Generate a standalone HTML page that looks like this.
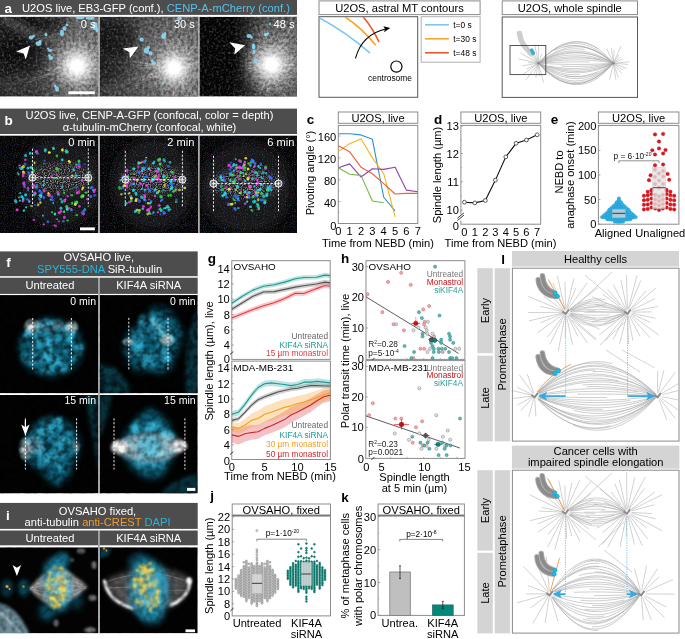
<!DOCTYPE html>
<html lang="en"><head><meta charset="utf-8"><title>Figure</title>
<style>
html,body{margin:0;padding:0;background:#fff;}
body{width:685px;height:639px;overflow:hidden;font-family:'Liberation Sans', sans-serif;}
svg{display:block;font-family:'Liberation Sans', sans-serif;}
svg text{font-family:'Liberation Sans', sans-serif;}
</style></head><body>
<svg width="685" height="639" viewBox="0 0 685 639">
<defs>
<filter id="nzW" x="0" y="0" width="100%" height="100%" color-interpolation-filters="sRGB">
  <feTurbulence type="fractalNoise" baseFrequency="0.42" numOctaves="2" seed="4"/>
  <feColorMatrix type="matrix" values="0 0 0 0 1  0 0 0 0 1  0 0 0 0 1  2.4 0 0 0 -1.1"/>
</filter>
<filter id="nzK" x="0" y="0" width="100%" height="100%" color-interpolation-filters="sRGB">
  <feTurbulence type="fractalNoise" baseFrequency="0.33" numOctaves="3" seed="11"/>
  <feColorMatrix type="matrix" values="0 0 0 0 0  0 0 0 0 0  0 0 0 0 0  2.4 0 0 0 -0.85"/>
</filter>
<filter id="nzC" x="0" y="0" width="100%" height="100%" color-interpolation-filters="sRGB">
  <feTurbulence type="fractalNoise" baseFrequency="0.9" numOctaves="1" seed="23"/>
  <feColorMatrix type="matrix" values="1.6 0 0 0 -0.3  0 1.6 0 0 -0.3  0 0 1.6 0 -0.3  0 0 2.5 0 -1.2"/>
</filter>
<filter id="nzS" x="-15%" y="-15%" width="130%" height="130%" color-interpolation-filters="sRGB">
 <feTurbulence type="fractalNoise" baseFrequency="0.85" numOctaves="1" seed="5" result="t"/>
 <feColorMatrix in="t" type="matrix" values="0 0 0 0 1  0 0 0 0 1  0 0 0 0 1  3.2 0 0 0 -1.35" result="n"/>
 <feGaussianBlur in="SourceAlpha" stdDeviation="3.5" result="m"/>
 <feComposite in="n" in2="m" operator="in"/>
</filter>
<filter id="b06u" filterUnits="userSpaceOnUse" x="0" y="0" width="300" height="100"><feGaussianBlur stdDeviation="0.7"/></filter>
<filter id="b06" x="-60%" y="-60%" width="220%" height="220%"><feGaussianBlur stdDeviation="0.6"/></filter>
<filter id="b1" x="-60%" y="-60%" width="220%" height="220%"><feGaussianBlur stdDeviation="1"/></filter>
<filter id="b2" x="-60%" y="-60%" width="220%" height="220%"><feGaussianBlur stdDeviation="2"/></filter>
<filter id="b3" x="-60%" y="-60%" width="220%" height="220%"><feGaussianBlur stdDeviation="3"/></filter>
<filter id="b5" x="-60%" y="-60%" width="220%" height="220%"><feGaussianBlur stdDeviation="5"/></filter>
<radialGradient id="glow"><stop offset="0" stop-color="#fff" stop-opacity="1"/><stop offset="0.25" stop-color="#fff" stop-opacity="0.97"/><stop offset="0.45" stop-color="#e6e6e6" stop-opacity="0.6"/><stop offset="0.72" stop-color="#bbb" stop-opacity="0.28"/><stop offset="1" stop-color="#999" stop-opacity="0"/></radialGradient>
<linearGradient id="lh" x1="0" x2="1" y1="0" y2="0"><stop offset="0" stop-color="#8c8c8c" stop-opacity="0"/><stop offset="0.45" stop-color="#8c8c8c" stop-opacity="0.5"/><stop offset="1" stop-color="#8c8c8c" stop-opacity="0.62"/></linearGradient>
<radialGradient id="haze"><stop offset="0" stop-color="#b0b0b0" stop-opacity="0.8"/><stop offset="0.55" stop-color="#909090" stop-opacity="0.5"/><stop offset="1" stop-color="#707070" stop-opacity="0"/></radialGradient>
<clipPath id="ca0"><rect x="0" y="16.8" width="98.3" height="79.8"/></clipPath><clipPath id="ca1"><rect x="99.6" y="16.8" width="98.6" height="79.8"/></clipPath><clipPath id="ca2"><rect x="199.4" y="16.8" width="97.6" height="79.8"/></clipPath><clipPath id="cb0"><rect x="0" y="135.4" width="98.3" height="97.6"/></clipPath><clipPath id="cb1"><rect x="99.6" y="135.4" width="98.6" height="97.6"/></clipPath><clipPath id="cb2"><rect x="199.4" y="135.4" width="97.6" height="97.6"/></clipPath><clipPath id="cct"><rect x="319.5" y="17.2" width="97.7" height="79.6"/></clipPath>
<filter id="nzT" x="0" y="0" width="100%" height="100%" color-interpolation-filters="sRGB">
  <feTurbulence type="fractalNoise" baseFrequency="0.16" numOctaves="2" seed="8"/>
  <feColorMatrix type="matrix" values="0 0 0 0 0  0 0 0 0 0  0 0 0 0 0  2.6 0 0 0 -0.95"/>
</filter>
<filter id="b15" x="-60%" y="-60%" width="220%" height="220%"><feGaussianBlur stdDeviation="1.5"/></filter>
<filter id="b4" x="-60%" y="-60%" width="220%" height="220%"><feGaussianBlur stdDeviation="4"/></filter>
<radialGradient id="wspot"><stop offset="0" stop-color="#fff" stop-opacity="1"/><stop offset="0.35" stop-color="#e8f4f8" stop-opacity="0.8"/><stop offset="1" stop-color="#cfe" stop-opacity="0"/></radialGradient>
<clipPath id="cf0"><rect x="0" y="295.1" width="98.1" height="98.2"/></clipPath><clipPath id="cf1"><rect x="99.7" y="295.1" width="98" height="98.2"/></clipPath><clipPath id="cf2"><rect x="0" y="394.9" width="98.1" height="98.5"/></clipPath><clipPath id="cf3"><rect x="99.7" y="394.9" width="98" height="98.5"/></clipPath><clipPath id="cg0"><rect x="231.8" y="260.7" width="98.39999999999998" height="98.69999999999999"/></clipPath><clipPath id="cg1"><rect x="231.8" y="361.1" width="98.59999999999997" height="98.39999999999998"/></clipPath><filter id="b08" x="-60%" y="-60%" width="220%" height="220%"><feGaussianBlur stdDeviation="0.8"/></filter><clipPath id="ci0"><rect x="0" y="547.3" width="98.1" height="86"/></clipPath><clipPath id="ci1"><rect x="99.7" y="547.3" width="98" height="86"/></clipPath><clipPath id="cl1"><rect x="513" y="268.8" width="165.4" height="171.1"/></clipPath><clipPath id="cl2"><rect x="513" y="470.8" width="165.4" height="161.7"/></clipPath><radialGradient id="halo"><stop offset="0" stop-color="#fff" stop-opacity="0.95"/><stop offset="0.6" stop-color="#fff" stop-opacity="0.7"/><stop offset="1" stop-color="#fff" stop-opacity="0"/></radialGradient></defs>
<rect width="685" height="639" fill="#fff"/>
<g id="panel-a">
<rect x="98.30" y="16.80" width="1.30" height="79.80" fill="#b0b0b0" stroke="none" stroke-width="1" /><rect x="198.20" y="16.80" width="1.20" height="79.80" fill="#b0b0b0" stroke="none" stroke-width="1" />
<rect x="0.00" y="0.00" width="297.00" height="14.90" fill="#4d4d4d" stroke="none" stroke-width="1" />
<text x="4.6" y="12.6" font-size="13.5" fill="#fff" text-anchor="start" font-weight="bold" >a</text>
<text x="22" y="11.6" font-size="11.15" fill="#fff">U2OS live, EB3-GFP (conf.), <tspan fill="#4fc3ee">CENP-A-mCherry (conf.)</tspan></text>
<g clip-path="url(#ca0)">
<rect x="0.00" y="16.80" width="98.30" height="79.80" fill="#1b1b1b" stroke="none" stroke-width="1" />
<rect x="30" y="16" width="69" height="82" fill="url(#lh)"/>
<ellipse cx="84" cy="60" rx="46" ry="58" fill="url(#haze)"/>
<ellipse cx="80" cy="64" rx="30" ry="34" fill="url(#haze)"/>
<path d="M0,22 L40,44 L58,36 L0,14Z" fill="#8a8a8a" opacity="0.45" filter="url(#b3)"/>
<path d="M0,78 L60,66 L70,97 L0,97Z" fill="#777" opacity="0.35" filter="url(#b3)"/>
<circle cx="77" cy="66" r="32.4" fill="url(#glow)"/>
<path d="M18,17 L70,17 L62,30 L40,34 Z" fill="#000" opacity="0.45" filter="url(#b3)"/>
<ellipse cx="14" cy="52" rx="16" ry="12" fill="#000" opacity="0.45" filter="url(#b3)"/>
<ellipse cx="40" cy="50" rx="9" ry="7" fill="#000" opacity="0.3" filter="url(#b2)"/>
<g stroke="#fff" stroke-width="1.3" filter="url(#b06u)"><line x1="74.5" y1="70.9" x2="65.9" y2="96.2" stroke-opacity="0.17"/><line x1="74.0" y1="69.4" x2="61.0" y2="87.5" stroke-opacity="0.15"/><line x1="81.4" y1="68.1" x2="100.0" y2="77.4" stroke-opacity="0.10"/><line x1="78.7" y1="76.1" x2="83.8" y2="112.2" stroke-opacity="0.14"/><line x1="81.4" y1="65.3" x2="114.6" y2="60.3" stroke-opacity="0.10"/><line x1="82.2" y1="70.8" x2="108.9" y2="92.9" stroke-opacity="0.17"/><line x1="72.0" y1="60.1" x2="52.6" y2="40.7" stroke-opacity="0.09"/><line x1="80.0" y1="76.4" x2="87.7" y2="97.5" stroke-opacity="0.17"/><line x1="70.3" y1="68.0" x2="38.8" y2="77.4" stroke-opacity="0.12"/><line x1="68.7" y1="61.8" x2="39.4" y2="46.3" stroke-opacity="0.13"/><line x1="82.1" y1="65.4" x2="103.9" y2="62.7" stroke-opacity="0.10"/><line x1="72.6" y1="66.3" x2="43.9" y2="68.3" stroke-opacity="0.17"/><line x1="82.1" y1="61.0" x2="103.7" y2="40.2" stroke-opacity="0.17"/><line x1="65.1" y1="69.4" x2="30.1" y2="79.3" stroke-opacity="0.19"/><line x1="87.2" y1="70.1" x2="110.8" y2="80.6" stroke-opacity="0.21"/><line x1="75.3" y1="73.7" x2="74.3" y2="101.7" stroke-opacity="0.15"/><line x1="79.5" y1="70.5" x2="84.1" y2="80.6" stroke-opacity="0.10"/><line x1="77.1" y1="73.9" x2="82.9" y2="108.3" stroke-opacity="0.15"/><line x1="64.8" y1="62.1" x2="35.2" y2="52.0" stroke-opacity="0.12"/><line x1="70.5" y1="69.9" x2="37.9" y2="87.5" stroke-opacity="0.10"/><line x1="79.8" y1="71.7" x2="87.3" y2="86.4" stroke-opacity="0.17"/><line x1="76.7" y1="70.0" x2="75.9" y2="91.7" stroke-opacity="0.17"/><line x1="87.4" y1="62.8" x2="111.2" y2="55.7" stroke-opacity="0.19"/><line x1="89.3" y1="70.3" x2="117.3" y2="80.9" stroke-opacity="0.21"/><line x1="70.8" y1="71.0" x2="60.2" y2="79.1" stroke-opacity="0.09"/><line x1="82.6" y1="68.5" x2="96.2" y2="74.5" stroke-opacity="0.09"/><line x1="82.5" y1="66.0" x2="95.3" y2="66.0" stroke-opacity="0.08"/><line x1="84.1" y1="58.8" x2="92.8" y2="48.7" stroke-opacity="0.14"/><line x1="73.6" y1="69.9" x2="47.3" y2="95.4" stroke-opacity="0.15"/><line x1="72.2" y1="66.5" x2="59.5" y2="67.8" stroke-opacity="0.12"/><line x1="79.7" y1="61.1" x2="86.6" y2="51.7" stroke-opacity="0.16"/><line x1="82.7" y1="73.5" x2="89.1" y2="82.1" stroke-opacity="0.24"/><line x1="84.2" y1="57.7" x2="94.6" y2="44.6" stroke-opacity="0.11"/><line x1="78.3" y1="56.8" x2="80.6" y2="25.3" stroke-opacity="0.12"/><line x1="82.2" y1="53.2" x2="99.0" y2="21.8" stroke-opacity="0.21"/><line x1="76.6" y1="59.7" x2="73.7" y2="35.3" stroke-opacity="0.08"/><line x1="83.7" y1="67.2" x2="100.4" y2="70.2" stroke-opacity="0.23"/><line x1="64.4" y1="70.4" x2="26.9" y2="82.6" stroke-opacity="0.14"/><line x1="78.2" y1="72.2" x2="82.9" y2="87.4" stroke-opacity="0.18"/><line x1="87.0" y1="58.7" x2="107.0" y2="45.0" stroke-opacity="0.21"/><line x1="86.1" y1="71.4" x2="114.6" y2="89.4" stroke-opacity="0.20"/><line x1="71.3" y1="66.8" x2="39.8" y2="71.2" stroke-opacity="0.21"/><line x1="84.8" y1="64.6" x2="106.2" y2="60.8" stroke-opacity="0.20"/><line x1="79.5" y1="70.6" x2="84.3" y2="83.1" stroke-opacity="0.21"/><line x1="84.4" y1="75.7" x2="105.3" y2="105.5" stroke-opacity="0.14"/><line x1="71.9" y1="64.4" x2="62.8" y2="61.3" stroke-opacity="0.18"/></g>
<rect x="0.00" y="16.80" width="98.30" height="79.80" fill="#fff" stroke="none" stroke-width="1" filter="url(#nzW)" opacity="0.3"/>
<rect x="0.00" y="16.80" width="98.30" height="79.80" fill="#000" stroke="none" stroke-width="1" filter="url(#nzK)" opacity="0.42"/>
<circle cx="77" cy="66" r="22.95" fill="url(#glow)"/>
<g filter="url(#b06)"><ellipse cx="31" cy="37.5" rx="2.2880000000000003" ry="1.9360000000000002" fill="#8bdcf8" opacity="0.88"/><ellipse cx="33.5" cy="36" rx="1.32" ry="1.32" fill="#8bdcf8" opacity="0.88"/><ellipse cx="38.5" cy="43.5" rx="2.992" ry="2.2880000000000003" fill="#8bdcf8" opacity="0.88"/><ellipse cx="40" cy="41.5" rx="1.4080000000000001" ry="1.4080000000000001" fill="#8bdcf8" opacity="0.88"/><ellipse cx="46" cy="34.5" rx="1.4080000000000001" ry="1.76" fill="#8bdcf8" opacity="0.88"/><ellipse cx="50" cy="50.5" rx="2.2880000000000003" ry="1.4080000000000001" fill="#8bdcf8" opacity="0.88"/><ellipse cx="48" cy="48.5" rx="1.232" ry="1.056" fill="#8bdcf8" opacity="0.88"/><ellipse cx="51" cy="58" rx="2.464" ry="1.9360000000000002" fill="#8bdcf8" opacity="0.88"/><ellipse cx="49.5" cy="55.5" rx="1.32" ry="1.32" fill="#8bdcf8" opacity="0.88"/><ellipse cx="62" cy="33" rx="1.9360000000000002" ry="3.168" fill="#8bdcf8" opacity="0.88"/><ellipse cx="64.5" cy="28.5" rx="1.9360000000000002" ry="2.2880000000000003" fill="#8bdcf8" opacity="0.88"/><ellipse cx="67" cy="25" rx="1.4080000000000001" ry="1.4080000000000001" fill="#8bdcf8" opacity="0.88"/><ellipse cx="57" cy="89" rx="1.9360000000000002" ry="2.64" fill="#8bdcf8" opacity="0.88"/><ellipse cx="55" cy="86" rx="1.32" ry="1.4080000000000001" fill="#8bdcf8" opacity="0.88"/><ellipse cx="80" cy="17.5" rx="4.4" ry="1.76" fill="#8bdcf8" opacity="0.88"/><ellipse cx="95" cy="26" rx="2.64" ry="3.96" fill="#8bdcf8" opacity="0.88"/><ellipse cx="90" cy="18" rx="4.4" ry="1.76" fill="#8bdcf8" opacity="0.88"/><ellipse cx="97" cy="30" rx="1.76" ry="2.2" fill="#8bdcf8" opacity="0.88"/></g>
<polygon points="30.0,45.5 16.4,51.5 23.6,53.4 25.8,59.6" fill="#fff"/>
<rect x="68.30" y="91.30" width="26.50" height="2.90" fill="#fff" stroke="none" stroke-width="1" />
<text x="95.5" y="28.0" font-size="11.1" fill="#fff" text-anchor="end" font-weight="normal" >0 s</text>
</g>
<g clip-path="url(#ca1)">
<rect x="99.60" y="16.80" width="98.60" height="79.80" fill="#222" stroke="none" stroke-width="1" />
<rect x="104" y="16" width="96" height="82" fill="url(#lh)"/>
<ellipse cx="178" cy="62" rx="56" ry="60" fill="url(#haze)"/>
<ellipse cx="176" cy="66" rx="30" ry="34" fill="url(#haze)"/>
<path d="M99,84 L150,70 L165,97 L99,97Z" fill="#777" opacity="0.4" filter="url(#b3)"/>
<circle cx="174" cy="68" r="31.2" fill="url(#glow)"/>
<ellipse cx="118" cy="40" rx="18" ry="18" fill="#000" opacity="0.4" filter="url(#b3)"/>
<g stroke="#fff" stroke-width="1.3" filter="url(#b06u)"><line x1="160.8" y1="65.8" x2="139.9" y2="62.1" stroke-opacity="0.21"/><line x1="175.6" y1="74.3" x2="181.8" y2="92.0" stroke-opacity="0.17"/><line x1="173.5" y1="76.2" x2="170.0" y2="89.8" stroke-opacity="0.14"/><line x1="164.5" y1="70.6" x2="130.7" y2="79.7" stroke-opacity="0.23"/><line x1="164.7" y1="67.9" x2="140.3" y2="67.6" stroke-opacity="0.15"/><line x1="175.6" y1="71.7" x2="192.0" y2="101.2" stroke-opacity="0.16"/><line x1="172.5" y1="58.6" x2="169.7" y2="39.7" stroke-opacity="0.17"/><line x1="175.1" y1="63.1" x2="178.3" y2="38.0" stroke-opacity="0.12"/><line x1="175.3" y1="59.0" x2="181.5" y2="33.5" stroke-opacity="0.23"/><line x1="164.5" y1="71.5" x2="141.8" y2="80.0" stroke-opacity="0.19"/><line x1="165.1" y1="70.8" x2="141.7" y2="77.7" stroke-opacity="0.19"/><line x1="183.6" y1="58.6" x2="196.3" y2="46.5" stroke-opacity="0.23"/><line x1="176.9" y1="63.5" x2="183.8" y2="52.1" stroke-opacity="0.09"/><line x1="174.3" y1="72.7" x2="173.1" y2="101.4" stroke-opacity="0.22"/><line x1="180.3" y1="77.2" x2="199.8" y2="100.7" stroke-opacity="0.22"/><line x1="180.1" y1="66.7" x2="215.7" y2="59.3" stroke-opacity="0.16"/><line x1="186.3" y1="67.2" x2="200.8" y2="66.3" stroke-opacity="0.16"/><line x1="170.8" y1="73.0" x2="159.4" y2="89.1" stroke-opacity="0.08"/><line x1="166.1" y1="65.2" x2="155.9" y2="61.7" stroke-opacity="0.18"/><line x1="169.4" y1="67.6" x2="132.3" y2="64.7" stroke-opacity="0.24"/><line x1="179.3" y1="72.1" x2="187.1" y2="78.9" stroke-opacity="0.12"/><line x1="179.6" y1="74.0" x2="200.9" y2="99.8" stroke-opacity="0.12"/><line x1="181.8" y1="78.6" x2="195.2" y2="99.6" stroke-opacity="0.09"/><line x1="184.2" y1="71.8" x2="205.9" y2="79.6" stroke-opacity="0.23"/><line x1="166.0" y1="59.0" x2="159.9" y2="49.8" stroke-opacity="0.09"/><line x1="179.6" y1="61.5" x2="192.6" y2="46.7" stroke-opacity="0.23"/><line x1="173.4" y1="73.3" x2="173.0" y2="97.9" stroke-opacity="0.10"/><line x1="176.4" y1="71.8" x2="185.6" y2="85.1" stroke-opacity="0.13"/><line x1="174.4" y1="61.1" x2="172.9" y2="37.2" stroke-opacity="0.14"/><line x1="180.5" y1="68.7" x2="190.6" y2="69.9" stroke-opacity="0.17"/><line x1="177.2" y1="76.1" x2="195.5" y2="109.7" stroke-opacity="0.21"/><line x1="165.9" y1="71.7" x2="136.0" y2="85.5" stroke-opacity="0.16"/><line x1="168.7" y1="55.2" x2="164.4" y2="37.1" stroke-opacity="0.19"/><line x1="168.7" y1="61.9" x2="153.1" y2="47.1" stroke-opacity="0.10"/><line x1="184.3" y1="72.9" x2="200.9" y2="80.3" stroke-opacity="0.09"/><line x1="180.9" y1="57.3" x2="194.2" y2="33.2" stroke-opacity="0.12"/><line x1="171.7" y1="76.3" x2="168.2" y2="90.2" stroke-opacity="0.12"/><line x1="187.3" y1="64.7" x2="211.1" y2="58.7" stroke-opacity="0.23"/><line x1="171.2" y1="75.0" x2="168.2" y2="84.4" stroke-opacity="0.16"/><line x1="168.0" y1="67.9" x2="144.1" y2="67.5" stroke-opacity="0.12"/><line x1="180.8" y1="72.3" x2="191.5" y2="78.2" stroke-opacity="0.13"/><line x1="175.1" y1="77.8" x2="175.1" y2="102.5" stroke-opacity="0.19"/><line x1="171.3" y1="55.5" x2="165.1" y2="35.1" stroke-opacity="0.24"/><line x1="180.6" y1="77.1" x2="201.3" y2="99.7" stroke-opacity="0.21"/><line x1="182.0" y1="61.5" x2="208.0" y2="42.4" stroke-opacity="0.10"/><line x1="165.1" y1="66.7" x2="132.8" y2="61.7" stroke-opacity="0.21"/></g>
<rect x="99.60" y="16.80" width="98.60" height="79.80" fill="#fff" stroke="none" stroke-width="1" filter="url(#nzW)" opacity="0.3"/>
<rect x="99.60" y="16.80" width="98.60" height="79.80" fill="#000" stroke="none" stroke-width="1" filter="url(#nzK)" opacity="0.42"/>
<circle cx="174" cy="68" r="22.099999999999998" fill="url(#glow)"/>
<g filter="url(#b06)"><ellipse cx="141.5" cy="39.5" rx="2.112" ry="1.9360000000000002" fill="#8bdcf8" opacity="0.88"/><ellipse cx="146.5" cy="50.5" rx="2.64" ry="2.992" fill="#8bdcf8" opacity="0.88"/><ellipse cx="148.5" cy="47.5" rx="1.4080000000000001" ry="1.4080000000000001" fill="#8bdcf8" opacity="0.88"/><ellipse cx="150.5" cy="53.5" rx="1.9360000000000002" ry="2.2880000000000003" fill="#8bdcf8" opacity="0.88"/><ellipse cx="154" cy="63" rx="2.2880000000000003" ry="1.76" fill="#8bdcf8" opacity="0.88"/><ellipse cx="152" cy="61" rx="1.32" ry="1.32" fill="#8bdcf8" opacity="0.88"/><ellipse cx="163.6" cy="36" rx="2.2880000000000003" ry="2.8160000000000003" fill="#8bdcf8" opacity="0.88"/><ellipse cx="165" cy="33.5" rx="1.32" ry="1.32" fill="#8bdcf8" opacity="0.88"/><ellipse cx="179.5" cy="18.6" rx="2.464" ry="1.9360000000000002" fill="#8bdcf8" opacity="0.88"/><ellipse cx="163" cy="83" rx="1.056" ry="1.056" fill="#8bdcf8" opacity="0.88"/></g>
<polygon points="138.4,46.6 122.6,48.6 129.4,52.3 129.8,58.4" fill="#fff"/>
<text x="194.9" y="28.0" font-size="11.1" fill="#fff" text-anchor="end" font-weight="normal" >30 s</text>
</g>
<g clip-path="url(#ca2)">
<rect x="199.40" y="16.80" width="97.60" height="79.80" fill="#050505" stroke="none" stroke-width="1" />
<rect x="232" y="16" width="66" height="82" fill="url(#lh)"/>
<ellipse cx="280" cy="58" rx="42" ry="60" fill="url(#haze)"/>
<ellipse cx="276" cy="62" rx="28" ry="36" fill="url(#haze)"/>
<circle cx="271.5" cy="64.6" r="32.4" fill="url(#glow)"/>
<g stroke="#fff" stroke-width="1.3" filter="url(#b06u)"><line x1="260.3" y1="58.1" x2="236.5" y2="43.4" stroke-opacity="0.12"/><line x1="276.7" y1="65.6" x2="296.9" y2="69.5" stroke-opacity="0.21"/><line x1="261.9" y1="60.9" x2="237.0" y2="51.0" stroke-opacity="0.16"/><line x1="283.5" y1="64.8" x2="314.4" y2="65.5" stroke-opacity="0.17"/><line x1="269.0" y1="60.7" x2="250.3" y2="34.9" stroke-opacity="0.09"/><line x1="270.4" y1="75.8" x2="266.9" y2="91.5" stroke-opacity="0.24"/><line x1="263.7" y1="64.9" x2="240.3" y2="65.8" stroke-opacity="0.20"/><line x1="263.8" y1="57.6" x2="253.2" y2="49.4" stroke-opacity="0.12"/><line x1="271.2" y1="57.6" x2="265.3" y2="31.7" stroke-opacity="0.09"/><line x1="270.2" y1="75.2" x2="264.7" y2="104.4" stroke-opacity="0.13"/><line x1="262.9" y1="63.7" x2="239.8" y2="61.3" stroke-opacity="0.22"/><line x1="275.8" y1="77.7" x2="293.9" y2="112.1" stroke-opacity="0.15"/><line x1="277.3" y1="52.2" x2="284.6" y2="31.8" stroke-opacity="0.11"/><line x1="277.3" y1="62.6" x2="300.7" y2="53.7" stroke-opacity="0.16"/><line x1="276.6" y1="63.0" x2="308.1" y2="53.4" stroke-opacity="0.22"/><line x1="269.7" y1="58.6" x2="259.4" y2="24.9" stroke-opacity="0.08"/><line x1="280.4" y1="64.8" x2="303.0" y2="65.3" stroke-opacity="0.10"/><line x1="267.5" y1="70.5" x2="254.1" y2="98.4" stroke-opacity="0.20"/><line x1="274.3" y1="60.2" x2="295.5" y2="29.7" stroke-opacity="0.22"/><line x1="269.6" y1="72.1" x2="260.3" y2="92.4" stroke-opacity="0.17"/><line x1="266.2" y1="71.0" x2="257.7" y2="84.5" stroke-opacity="0.10"/><line x1="275.0" y1="58.7" x2="290.5" y2="27.5" stroke-opacity="0.12"/><line x1="265.6" y1="64.2" x2="245.7" y2="62.8" stroke-opacity="0.22"/><line x1="275.4" y1="55.1" x2="294.4" y2="22.1" stroke-opacity="0.17"/><line x1="270.6" y1="60.2" x2="264.3" y2="30.2" stroke-opacity="0.20"/><line x1="267.3" y1="59.2" x2="262.2" y2="50.2" stroke-opacity="0.10"/><line x1="264.2" y1="65.9" x2="245.9" y2="69.1" stroke-opacity="0.24"/><line x1="270.8" y1="75.1" x2="269.2" y2="93.5" stroke-opacity="0.14"/><line x1="274.3" y1="69.5" x2="279.8" y2="83.2" stroke-opacity="0.16"/><line x1="273.9" y1="77.4" x2="281.8" y2="114.7" stroke-opacity="0.10"/><line x1="273.2" y1="69.2" x2="282.9" y2="87.5" stroke-opacity="0.12"/><line x1="271.0" y1="74.3" x2="265.8" y2="109.1" stroke-opacity="0.15"/><line x1="263.6" y1="69.4" x2="246.7" y2="79.9" stroke-opacity="0.09"/><line x1="269.1" y1="78.1" x2="266.8" y2="91.4" stroke-opacity="0.18"/><line x1="275.5" y1="59.9" x2="285.6" y2="46.6" stroke-opacity="0.14"/><line x1="258.7" y1="69.1" x2="225.4" y2="80.4" stroke-opacity="0.08"/><line x1="282.4" y1="66.8" x2="316.8" y2="73.9" stroke-opacity="0.17"/><line x1="279.4" y1="64.6" x2="315.2" y2="64.6" stroke-opacity="0.22"/><line x1="277.9" y1="63.5" x2="290.3" y2="61.2" stroke-opacity="0.16"/><line x1="265.9" y1="52.4" x2="255.2" y2="24.9" stroke-opacity="0.20"/><line x1="262.3" y1="67.1" x2="251.2" y2="70.1" stroke-opacity="0.12"/><line x1="280.7" y1="59.6" x2="295.2" y2="50.6" stroke-opacity="0.12"/><line x1="264.3" y1="56.3" x2="253.5" y2="46.4" stroke-opacity="0.16"/><line x1="264.7" y1="60.7" x2="250.9" y2="52.6" stroke-opacity="0.08"/><line x1="268.8" y1="72.8" x2="255.2" y2="107.7" stroke-opacity="0.22"/><line x1="265.2" y1="65.6" x2="248.2" y2="68.2" stroke-opacity="0.19"/></g>
<rect x="199.40" y="16.80" width="97.60" height="79.80" fill="#fff" stroke="none" stroke-width="1" filter="url(#nzW)" opacity="0.28"/>
<rect x="199.40" y="16.80" width="97.60" height="79.80" fill="#000" stroke="none" stroke-width="1" filter="url(#nzK)" opacity="0.45"/>
<circle cx="271.5" cy="64.6" r="22.95" fill="url(#glow)"/>
<g filter="url(#b06)"><ellipse cx="249" cy="36" rx="2.64" ry="2.112" fill="#8bdcf8" opacity="0.88"/><ellipse cx="251.5" cy="37.5" rx="1.4080000000000001" ry="1.232" fill="#8bdcf8" opacity="0.88"/><ellipse cx="266" cy="34.6" rx="2.2880000000000003" ry="1.9360000000000002" fill="#8bdcf8" opacity="0.88"/><ellipse cx="268" cy="33.5" rx="1.232" ry="1.232" fill="#8bdcf8" opacity="0.88"/><ellipse cx="253.6" cy="46.4" rx="1.76" ry="2.992" fill="#8bdcf8" opacity="0.88"/><ellipse cx="254" cy="52" rx="1.584" ry="2.112" fill="#8bdcf8" opacity="0.88"/><ellipse cx="255.5" cy="61" rx="2.112" ry="2.2880000000000003" fill="#8bdcf8" opacity="0.88"/><ellipse cx="270" cy="24" rx="0.88" ry="1.76" fill="#8bdcf8" opacity="0.88"/></g>
<polygon points="245.2,45.3 229.3,42.3 235.2,48.4 234.3,54.5" fill="#fff"/>
<text x="294.5" y="28.0" font-size="11.1" fill="#fff" text-anchor="end" font-weight="normal" >48 s</text>
</g>
</g>
<g id="panel-b">
<rect x="98.30" y="135.40" width="1.30" height="97.60" fill="#a0a0a0" stroke="none" stroke-width="1" /><rect x="198.20" y="135.40" width="1.20" height="97.60" fill="#a0a0a0" stroke="none" stroke-width="1" />
<rect x="0.00" y="108.60" width="297.00" height="25.40" fill="#4d4d4d" stroke="none" stroke-width="1" />
<text x="4.6" y="124.5" font-size="13.5" fill="#fff" text-anchor="start" font-weight="bold" >b</text>
<text x="149.5" y="119.3" font-size="11.15" fill="#fff" text-anchor="middle" font-weight="normal" >U2OS live, CENP-A-GFP (confocal, color = depth)</text>
<text x="149.5" y="131.2" font-size="11.15" fill="#fff" text-anchor="middle" font-weight="normal" >α-tubulin-mCherry (confocal, white)</text>
<g clip-path="url(#cb0)">
<rect x="0.00" y="135.40" width="98.30" height="97.60" fill="#050505" stroke="none" stroke-width="1" />
<ellipse cx="60.4" cy="181.7" rx="41.9" ry="46" fill="#121214" filter="url(#b5)"/>
<ellipse cx="60.4" cy="177.7" rx="30.9" ry="15" fill="#fff" opacity="0.55" filter="url(#nzS)"/>
<circle cx="32.5" cy="177.7" r="5" fill="#fff" opacity="0.45" filter="url(#nzS)"/><circle cx="88.3" cy="177.7" r="5" fill="#fff" opacity="0.45" filter="url(#nzS)"/>
<rect x="0.00" y="135.40" width="98.30" height="97.60" fill="#fff" stroke="none" stroke-width="1" filter="url(#nzC)" opacity="0.4"/>
<g filter="url(#b06)"><ellipse cx="48.8" cy="194.6" rx="1.0" ry="1.1" fill="#e8e83a" opacity="0.78"/><ellipse cx="48.8" cy="195.3" rx="1.4" ry="1.3" fill="#e8e83a" opacity="0.79"/><ellipse cx="76.3" cy="187.9" rx="1.1" ry="1.3" fill="#3a6cff" opacity="0.73"/><ellipse cx="58.9" cy="221.4" rx="1.0" ry="0.9" fill="#f03de8" opacity="0.80"/><ellipse cx="30.2" cy="153.4" rx="1.3" ry="1.3" fill="#22d8e8" opacity="0.90"/><ellipse cx="64.0" cy="211.9" rx="1.0" ry="0.9" fill="#2ee04a" opacity="0.88"/><ellipse cx="64.1" cy="211.7" rx="1.1" ry="1.3" fill="#2ee04a" opacity="0.94"/><ellipse cx="64.2" cy="192.9" rx="1.1" ry="1.4" fill="#2ee04a" opacity="0.76"/><ellipse cx="56.8" cy="174.7" rx="1.1" ry="1.3" fill="#f03de8" opacity="0.82"/><ellipse cx="29.4" cy="201.0" rx="1.0" ry="0.9" fill="#e8e83a" opacity="0.86"/><ellipse cx="35.1" cy="204.9" rx="1.1" ry="1.0" fill="#3a6cff" opacity="0.65"/><ellipse cx="53.5" cy="148.7" rx="1.4" ry="1.4" fill="#22d8e8" opacity="0.92"/><ellipse cx="62.4" cy="149.9" rx="1.4" ry="1.7" fill="#e8e83a" opacity="0.94"/><ellipse cx="56.9" cy="156.0" rx="1.3" ry="1.4" fill="#2ee04a" opacity="0.79"/><ellipse cx="67.3" cy="208.9" rx="1.5" ry="1.9" fill="#22d8e8" opacity="1.00"/><ellipse cx="50.7" cy="199.7" rx="1.2" ry="1.1" fill="#22d8e8" opacity="0.80"/><ellipse cx="25.6" cy="164.4" rx="1.1" ry="1.0" fill="#3a6cff" opacity="0.74"/><ellipse cx="24.7" cy="163.5" rx="1.2" ry="1.1" fill="#3a6cff" opacity="0.73"/><ellipse cx="43.8" cy="224.4" rx="1.1" ry="1.1" fill="#f03de8" opacity="0.88"/><ellipse cx="76.5" cy="203.3" rx="1.1" ry="1.1" fill="#22d8e8" opacity="0.78"/><ellipse cx="19.6" cy="165.5" rx="1.2" ry="1.1" fill="#f03de8" opacity="0.92"/><ellipse cx="65.0" cy="201.6" rx="1.0" ry="0.8" fill="#f03de8" opacity="0.76"/><ellipse cx="63.4" cy="221.2" rx="1.2" ry="1.2" fill="#3a6cff" opacity="0.87"/><ellipse cx="67.7" cy="196.2" rx="1.2" ry="1.0" fill="#f03de8" opacity="0.91"/><ellipse cx="73.4" cy="169.6" rx="1.2" ry="1.5" fill="#22d8e8" opacity="0.80"/><ellipse cx="60.8" cy="199.1" rx="1.4" ry="1.2" fill="#22d8e8" opacity="0.67"/><ellipse cx="76.8" cy="215.1" rx="1.4" ry="1.2" fill="#2ee04a" opacity="0.77"/><ellipse cx="62.0" cy="201.8" rx="1.4" ry="1.7" fill="#22d8e8" opacity="0.76"/><ellipse cx="57.7" cy="178.5" rx="1.0" ry="1.1" fill="#2ee04a" opacity="0.89"/><ellipse cx="79.4" cy="166.7" rx="1.4" ry="1.3" fill="#f03de8" opacity="0.73"/><ellipse cx="79.1" cy="166.7" rx="1.1" ry="1.0" fill="#f03de8" opacity="0.74"/><ellipse cx="45.4" cy="149.5" rx="1.3" ry="1.3" fill="#22d8e8" opacity="0.79"/><ellipse cx="45.3" cy="150.8" rx="1.4" ry="1.6" fill="#22d8e8" opacity="0.76"/><ellipse cx="52.1" cy="212.3" rx="0.9" ry="1.2" fill="#2ee04a" opacity="0.81"/><ellipse cx="19.1" cy="197.4" rx="0.9" ry="0.9" fill="#e8e83a" opacity="0.78"/><ellipse cx="62.2" cy="159.8" rx="1.4" ry="1.6" fill="#22d8e8" opacity="0.83"/><ellipse cx="81.7" cy="196.6" rx="1.5" ry="1.9" fill="#2ee04a" opacity="0.91"/><ellipse cx="82.9" cy="195.5" rx="1.5" ry="1.6" fill="#2ee04a" opacity="0.98"/><ellipse cx="68.2" cy="178.4" rx="1.1" ry="1.0" fill="#f03de8" opacity="0.86"/><ellipse cx="60.9" cy="211.5" rx="1.4" ry="1.3" fill="#f03de8" opacity="0.92"/><ellipse cx="59.3" cy="212.8" rx="1.5" ry="1.6" fill="#f03de8" opacity="0.83"/><ellipse cx="36.3" cy="151.9" rx="1.4" ry="1.3" fill="#f03de8" opacity="1.00"/><ellipse cx="36.6" cy="151.4" rx="1.4" ry="1.4" fill="#f03de8" opacity="0.71"/><ellipse cx="51.5" cy="176.6" rx="1.3" ry="1.4" fill="#f03de8" opacity="0.76"/><ellipse cx="62.1" cy="187.1" rx="1.2" ry="1.5" fill="#22d8e8" opacity="0.70"/><ellipse cx="57.1" cy="219.2" rx="1.0" ry="0.9" fill="#22d8e8" opacity="0.73"/><ellipse cx="30.2" cy="167.4" rx="1.0" ry="0.8" fill="#22d8e8" opacity="0.87"/><ellipse cx="78.9" cy="161.3" rx="1.4" ry="1.8" fill="#2ee04a" opacity="0.86"/><ellipse cx="33.3" cy="187.8" rx="1.0" ry="0.9" fill="#22d8e8" opacity="0.97"/><ellipse cx="79.4" cy="206.3" rx="1.3" ry="1.5" fill="#f03de8" opacity="0.80"/><ellipse cx="28.0" cy="168.2" rx="1.4" ry="1.4" fill="#22d8e8" opacity="0.84"/><ellipse cx="31.2" cy="205.9" rx="1.0" ry="0.9" fill="#e8e83a" opacity="0.73"/><ellipse cx="77.2" cy="192.7" rx="1.3" ry="1.5" fill="#f03de8" opacity="0.97"/><ellipse cx="78.9" cy="192.0" rx="1.5" ry="1.9" fill="#f03de8" opacity="0.68"/><ellipse cx="33.0" cy="186.2" rx="1.5" ry="1.3" fill="#f03de8" opacity="0.79"/><ellipse cx="33.4" cy="185.8" rx="1.5" ry="1.8" fill="#f03de8" opacity="0.99"/><ellipse cx="69.7" cy="162.2" rx="1.2" ry="1.4" fill="#e8e83a" opacity="0.85"/><ellipse cx="69.0" cy="161.2" rx="1.3" ry="1.1" fill="#e8e83a" opacity="0.97"/><ellipse cx="57.8" cy="193.8" rx="1.0" ry="0.8" fill="#22d8e8" opacity="0.66"/><ellipse cx="58.5" cy="194.3" rx="1.4" ry="1.6" fill="#22d8e8" opacity="0.67"/><ellipse cx="29.3" cy="173.8" rx="1.5" ry="1.9" fill="#3a6cff" opacity="0.69"/><ellipse cx="28.2" cy="172.4" rx="0.9" ry="1.1" fill="#3a6cff" opacity="0.93"/><ellipse cx="25.4" cy="159.8" rx="1.4" ry="1.3" fill="#f03de8" opacity="0.76"/><ellipse cx="44.1" cy="190.7" rx="1.5" ry="1.8" fill="#f03de8" opacity="0.86"/><ellipse cx="28.1" cy="190.3" rx="1.0" ry="1.0" fill="#22d8e8" opacity="0.67"/><ellipse cx="17.8" cy="173.3" rx="1.0" ry="1.2" fill="#3a6cff" opacity="0.99"/><ellipse cx="83.1" cy="187.8" rx="1.2" ry="1.2" fill="#e8e83a" opacity="0.94"/><ellipse cx="82.3" cy="189.4" rx="1.1" ry="1.0" fill="#e8e83a" opacity="0.89"/><ellipse cx="36.3" cy="187.2" rx="1.4" ry="1.6" fill="#22d8e8" opacity="0.77"/><ellipse cx="29.2" cy="201.8" rx="1.0" ry="1.0" fill="#22d8e8" opacity="0.97"/><ellipse cx="24.5" cy="186.8" rx="1.3" ry="1.5" fill="#f03de8" opacity="0.66"/><ellipse cx="24.1" cy="172.7" rx="1.2" ry="1.4" fill="#e8e83a" opacity="0.74"/><ellipse cx="23.1" cy="172.1" rx="1.3" ry="1.5" fill="#e8e83a" opacity="0.83"/><ellipse cx="47.8" cy="221.7" rx="1.4" ry="1.5" fill="#3a6cff" opacity="0.77"/><ellipse cx="55.7" cy="226.0" rx="1.3" ry="1.2" fill="#f03de8" opacity="0.70"/><ellipse cx="54.5" cy="225.3" rx="1.1" ry="1.0" fill="#f03de8" opacity="0.69"/><ellipse cx="72.3" cy="175.5" rx="1.2" ry="1.1" fill="#e8e83a" opacity="0.99"/><ellipse cx="49.4" cy="194.8" rx="1.1" ry="1.3" fill="#f03de8" opacity="0.90"/><ellipse cx="49.7" cy="195.4" rx="1.4" ry="1.6" fill="#f03de8" opacity="0.88"/><ellipse cx="77.5" cy="164.6" rx="1.2" ry="1.1" fill="#3a6cff" opacity="0.87"/><ellipse cx="75.6" cy="202.2" rx="1.5" ry="1.5" fill="#2ee04a" opacity="0.66"/><ellipse cx="76.9" cy="202.2" rx="1.3" ry="1.6" fill="#2ee04a" opacity="0.96"/><ellipse cx="48.4" cy="193.2" rx="1.0" ry="1.2" fill="#e8e83a" opacity="0.98"/><ellipse cx="36.9" cy="185.3" rx="1.2" ry="1.4" fill="#3a6cff" opacity="0.94"/><ellipse cx="23.7" cy="183.5" rx="1.5" ry="1.8" fill="#f03de8" opacity="0.86"/><ellipse cx="24.2" cy="182.6" rx="1.1" ry="1.0" fill="#f03de8" opacity="0.68"/><ellipse cx="17.1" cy="209.9" rx="1.5" ry="1.3" fill="#f03de8" opacity="0.93"/><ellipse cx="64.4" cy="217.2" rx="1.4" ry="1.7" fill="#f03de8" opacity="0.81"/><ellipse cx="43.0" cy="215.7" rx="1.1" ry="1.1" fill="#22d8e8" opacity="0.74"/><ellipse cx="34.3" cy="195.1" rx="1.3" ry="1.3" fill="#22d8e8" opacity="0.82"/><ellipse cx="34.8" cy="193.6" rx="1.5" ry="1.3" fill="#22d8e8" opacity="0.76"/><ellipse cx="41.4" cy="195.5" rx="1.4" ry="1.6" fill="#3a6cff" opacity="0.66"/><ellipse cx="94.8" cy="189.8" rx="1.5" ry="1.3" fill="#f03de8" opacity="0.81"/><ellipse cx="56.5" cy="168.5" rx="1.3" ry="1.5" fill="#2ee04a" opacity="0.88"/><ellipse cx="57.9" cy="169.5" rx="1.4" ry="1.3" fill="#2ee04a" opacity="0.89"/><ellipse cx="76.5" cy="166.8" rx="1.2" ry="1.0" fill="#f03de8" opacity="0.81"/><ellipse cx="71.2" cy="209.3" rx="0.9" ry="1.1" fill="#e8e83a" opacity="0.81"/><ellipse cx="18.7" cy="174.4" rx="0.9" ry="1.1" fill="#2ee04a" opacity="0.87"/><ellipse cx="86.0" cy="192.6" rx="1.5" ry="1.2" fill="#2ee04a" opacity="0.90"/><ellipse cx="33.6" cy="170.2" rx="1.4" ry="1.3" fill="#2ee04a" opacity="0.80"/><ellipse cx="22.8" cy="201.1" rx="1.1" ry="1.4" fill="#f03de8" opacity="0.96"/><ellipse cx="40.4" cy="202.5" rx="1.1" ry="1.2" fill="#e8e83a" opacity="0.87"/><ellipse cx="54.3" cy="177.5" rx="1.0" ry="0.8" fill="#2ee04a" opacity="0.94"/><ellipse cx="54.2" cy="178.4" rx="0.9" ry="1.0" fill="#2ee04a" opacity="0.84"/><ellipse cx="39.3" cy="198.4" rx="1.3" ry="1.5" fill="#3a6cff" opacity="0.71"/><ellipse cx="39.9" cy="199.7" rx="1.2" ry="1.0" fill="#3a6cff" opacity="0.98"/><ellipse cx="93.0" cy="190.2" rx="1.1" ry="1.1" fill="#22d8e8" opacity="0.76"/><ellipse cx="19.9" cy="200.6" rx="1.0" ry="1.2" fill="#22d8e8" opacity="0.85"/><ellipse cx="26.1" cy="207.2" rx="1.0" ry="1.0" fill="#22d8e8" opacity="0.96"/><ellipse cx="31.6" cy="168.0" rx="1.5" ry="1.3" fill="#22d8e8" opacity="0.69"/><ellipse cx="31.5" cy="167.2" rx="1.3" ry="1.3" fill="#22d8e8" opacity="0.91"/><ellipse cx="75.9" cy="175.5" rx="1.3" ry="1.3" fill="#22d8e8" opacity="0.88"/><ellipse cx="77.4" cy="177.0" rx="0.9" ry="0.8" fill="#22d8e8" opacity="0.67"/><ellipse cx="79.2" cy="164.7" rx="1.3" ry="1.6" fill="#3a6cff" opacity="0.94"/><ellipse cx="32.4" cy="172.5" rx="1.4" ry="1.4" fill="#e8e83a" opacity="0.88"/><ellipse cx="32.2" cy="167.9" rx="1.3" ry="1.2" fill="#2ee04a" opacity="0.67"/><ellipse cx="88.6" cy="181.5" rx="1.0" ry="1.2" fill="#2ee04a" opacity="0.85"/><ellipse cx="90.3" cy="180.6" rx="1.2" ry="1.1" fill="#2ee04a" opacity="0.92"/><ellipse cx="54.9" cy="214.1" rx="1.3" ry="1.5" fill="#22d8e8" opacity="0.96"/><ellipse cx="90.8" cy="196.6" rx="1.4" ry="1.6" fill="#3a6cff" opacity="0.97"/><ellipse cx="43.9" cy="197.6" rx="1.4" ry="1.8" fill="#3a6cff" opacity="0.73"/><ellipse cx="23.5" cy="166.4" rx="1.4" ry="1.7" fill="#e8e83a" opacity="0.81"/><ellipse cx="22.0" cy="167.5" rx="1.4" ry="1.3" fill="#e8e83a" opacity="0.85"/><ellipse cx="85.1" cy="164.3" rx="1.0" ry="0.9" fill="#3a6cff" opacity="0.71"/><ellipse cx="43.8" cy="163.6" rx="1.0" ry="0.8" fill="#3a6cff" opacity="1.00"/><ellipse cx="41.1" cy="197.0" rx="1.1" ry="1.2" fill="#e8e83a" opacity="0.66"/><ellipse cx="94.8" cy="195.3" rx="1.5" ry="1.4" fill="#3a6cff" opacity="0.68"/><ellipse cx="19.8" cy="197.2" rx="1.0" ry="0.9" fill="#3a6cff" opacity="0.68"/><ellipse cx="83.4" cy="196.5" rx="0.9" ry="1.0" fill="#e8e83a" opacity="0.79"/><ellipse cx="83.4" cy="213.8" rx="1.5" ry="1.7" fill="#f03de8" opacity="0.79"/><ellipse cx="34.5" cy="192.4" rx="1.1" ry="1.0" fill="#f03de8" opacity="0.97"/><ellipse cx="35.9" cy="193.6" rx="0.9" ry="1.1" fill="#f03de8" opacity="0.90"/><ellipse cx="25.6" cy="155.4" rx="1.5" ry="1.7" fill="#22d8e8" opacity="0.75"/><ellipse cx="19.7" cy="168.0" rx="1.0" ry="1.0" fill="#22d8e8" opacity="0.71"/><ellipse cx="53.3" cy="203.0" rx="0.9" ry="1.2" fill="#22d8e8" opacity="0.73"/><ellipse cx="89.5" cy="172.0" rx="1.2" ry="0.9" fill="#22d8e8" opacity="0.68"/><ellipse cx="72.2" cy="203.3" rx="1.2" ry="1.5" fill="#2ee04a" opacity="0.80"/><ellipse cx="69.0" cy="208.2" rx="1.1" ry="1.3" fill="#f03de8" opacity="0.74"/><ellipse cx="75.3" cy="204.3" rx="1.3" ry="1.6" fill="#e8e83a" opacity="0.97"/><ellipse cx="53.3" cy="147.6" rx="1.0" ry="0.9" fill="#2ee04a" opacity="0.96"/><ellipse cx="87.2" cy="199.1" rx="1.4" ry="1.4" fill="#f03de8" opacity="0.70"/><ellipse cx="92.2" cy="187.4" rx="1.5" ry="1.4" fill="#3a6cff" opacity="0.85"/><ellipse cx="64.6" cy="200.5" rx="1.4" ry="1.8" fill="#f03de8" opacity="0.91"/><ellipse cx="65.6" cy="199.4" rx="1.0" ry="1.1" fill="#f03de8" opacity="0.87"/><ellipse cx="60.9" cy="208.2" rx="1.4" ry="1.8" fill="#22d8e8" opacity="0.83"/><ellipse cx="38.2" cy="204.8" rx="1.2" ry="1.5" fill="#e8e83a" opacity="0.74"/><ellipse cx="67.7" cy="220.6" rx="1.3" ry="1.0" fill="#2ee04a" opacity="0.83"/><ellipse cx="21.9" cy="196.7" rx="1.5" ry="1.4" fill="#22d8e8" opacity="0.90"/><ellipse cx="23.9" cy="210.6" rx="1.2" ry="1.3" fill="#22d8e8" opacity="0.84"/><ellipse cx="43.4" cy="185.1" rx="1.1" ry="1.2" fill="#22d8e8" opacity="0.98"/><ellipse cx="94.1" cy="191.7" rx="1.3" ry="1.4" fill="#f03de8" opacity="0.90"/><ellipse cx="84.8" cy="209.5" rx="1.3" ry="1.5" fill="#22d8e8" opacity="0.69"/><ellipse cx="81.9" cy="213.0" rx="1.3" ry="1.4" fill="#3a6cff" opacity="0.79"/><ellipse cx="83.5" cy="211.3" rx="1.3" ry="1.5" fill="#3a6cff" opacity="0.86"/><ellipse cx="43.7" cy="181.3" rx="1.1" ry="1.1" fill="#22d8e8" opacity="0.99"/><ellipse cx="66.1" cy="151.0" rx="1.5" ry="1.9" fill="#2ee04a" opacity="0.74"/><ellipse cx="65.8" cy="151.4" rx="1.1" ry="1.2" fill="#2ee04a" opacity="0.67"/><ellipse cx="23.2" cy="198.7" rx="1.4" ry="1.8" fill="#22d8e8" opacity="0.87"/><ellipse cx="67.1" cy="151.9" rx="1.5" ry="1.7" fill="#22d8e8" opacity="0.87"/><ellipse cx="57.8" cy="192.1" rx="1.3" ry="1.1" fill="#f03de8" opacity="0.86"/><ellipse cx="20.3" cy="193.2" rx="1.1" ry="1.1" fill="#22d8e8" opacity="0.75"/><ellipse cx="52.6" cy="200.0" rx="1.3" ry="1.4" fill="#3a6cff" opacity="0.72"/><ellipse cx="44.6" cy="160.4" rx="1.1" ry="1.0" fill="#3a6cff" opacity="0.73"/><ellipse cx="24.4" cy="185.0" rx="1.5" ry="1.3" fill="#3a6cff" opacity="0.84"/><ellipse cx="28.0" cy="188.2" rx="1.3" ry="1.4" fill="#f03de8" opacity="0.77"/><ellipse cx="34.5" cy="162.7" rx="1.0" ry="1.3" fill="#e8e83a" opacity="0.91"/><ellipse cx="66.7" cy="206.5" rx="1.5" ry="1.8" fill="#2ee04a" opacity="0.83"/><ellipse cx="49.3" cy="152.5" rx="1.5" ry="1.3" fill="#e8e83a" opacity="0.95"/><ellipse cx="90.6" cy="188.0" rx="1.3" ry="1.3" fill="#3a6cff" opacity="0.92"/><ellipse cx="76.1" cy="164.5" rx="1.1" ry="1.1" fill="#2ee04a" opacity="0.83"/><ellipse cx="22.6" cy="168.7" rx="1.2" ry="1.1" fill="#22d8e8" opacity="0.76"/><ellipse cx="21.3" cy="169.0" rx="1.3" ry="1.1" fill="#22d8e8" opacity="0.97"/><ellipse cx="33.9" cy="219.9" rx="1.5" ry="1.2" fill="#f03de8" opacity="0.67"/><ellipse cx="23.2" cy="175.7" rx="1.4" ry="1.7" fill="#f03de8" opacity="0.80"/><ellipse cx="23.1" cy="174.0" rx="1.3" ry="1.4" fill="#f03de8" opacity="0.65"/><ellipse cx="71.8" cy="195.2" rx="1.5" ry="1.3" fill="#2ee04a" opacity="0.72"/><ellipse cx="27.1" cy="199.2" rx="1.4" ry="1.3" fill="#3a6cff" opacity="0.76"/><ellipse cx="28.8" cy="200.4" rx="1.2" ry="1.1" fill="#3a6cff" opacity="0.96"/><ellipse cx="37.3" cy="153.2" rx="1.4" ry="1.3" fill="#3a6cff" opacity="0.96"/><ellipse cx="41.5" cy="192.9" rx="1.3" ry="1.5" fill="#3a6cff" opacity="0.89"/><ellipse cx="39.7" cy="191.1" rx="1.4" ry="1.5" fill="#3a6cff" opacity="0.97"/><ellipse cx="40.0" cy="195.2" rx="1.4" ry="1.5" fill="#22d8e8" opacity="0.95"/><ellipse cx="41.4" cy="195.2" rx="1.0" ry="0.9" fill="#22d8e8" opacity="0.86"/><ellipse cx="71.5" cy="210.0" rx="1.5" ry="1.6" fill="#3a6cff" opacity="0.81"/><ellipse cx="16.2" cy="202.1" rx="1.4" ry="1.3" fill="#22d8e8" opacity="0.71"/><ellipse cx="15.4" cy="200.7" rx="1.5" ry="1.6" fill="#22d8e8" opacity="0.77"/><ellipse cx="25.6" cy="194.8" rx="1.5" ry="1.6" fill="#22d8e8" opacity="0.87"/><ellipse cx="52.0" cy="197.0" rx="1.4" ry="1.4" fill="#3a6cff" opacity="0.86"/><ellipse cx="82.3" cy="179.9" rx="1.0" ry="1.0" fill="#f03de8" opacity="0.96"/><ellipse cx="82.2" cy="181.0" rx="1.1" ry="0.9" fill="#f03de8" opacity="0.78"/></g>
<line x1="32.50" y1="148.60" x2="32.50" y2="206.60" stroke="#fff" stroke-width="0.9" stroke-dasharray="2.2 1.6"/><line x1="88.30" y1="148.60" x2="88.30" y2="206.60" stroke="#fff" stroke-width="0.9" stroke-dasharray="2.2 1.6"/><line x1="32.50" y1="177.70" x2="88.30" y2="177.70" stroke="#fff" stroke-width="0.9" stroke-dasharray="2.2 1.6"/>
<circle cx="32.50" cy="177.70" r="3.50" fill="#ccc" stroke="#fff" stroke-width="0.9" fill-opacity="0.35"/><line x1="30.50" y1="177.70" x2="34.50" y2="177.70" stroke="#fff" stroke-width="0.7" /><line x1="32.50" y1="175.70" x2="32.50" y2="179.70" stroke="#fff" stroke-width="0.7" /><circle cx="88.30" cy="177.70" r="3.50" fill="#ccc" stroke="#fff" stroke-width="0.9" fill-opacity="0.35"/><line x1="86.30" y1="177.70" x2="90.30" y2="177.70" stroke="#fff" stroke-width="0.7" /><line x1="88.30" y1="175.70" x2="88.30" y2="179.70" stroke="#fff" stroke-width="0.7" />
<text x="95.3" y="145.5" font-size="11.1" fill="#fff" text-anchor="end" font-weight="normal" >0 min</text>
<rect x="80.00" y="227.40" width="14.80" height="2.90" fill="#fff" stroke="none" stroke-width="1" />
</g>
<g clip-path="url(#cb1)">
<rect x="99.60" y="135.40" width="98.60" height="97.60" fill="#050505" stroke="none" stroke-width="1" />
<ellipse cx="153.85" cy="183.7" rx="42.550000000000004" ry="46" fill="#121214" filter="url(#b5)"/>
<ellipse cx="153.85" cy="179.7" rx="31.550000000000004" ry="15" fill="#fff" opacity="0.55" filter="url(#nzS)"/>
<circle cx="125.3" cy="179.7" r="5" fill="#fff" opacity="0.45" filter="url(#nzS)"/><circle cx="182.4" cy="179.7" r="5" fill="#fff" opacity="0.45" filter="url(#nzS)"/>
<rect x="99.60" y="135.40" width="98.60" height="97.60" fill="#fff" stroke="none" stroke-width="1" filter="url(#nzC)" opacity="0.4"/>
<g filter="url(#b06)"><ellipse cx="164.6" cy="213.3" rx="1.2" ry="1.2" fill="#f03de8" opacity="0.79"/><ellipse cx="163.4" cy="190.5" rx="1.2" ry="1.1" fill="#22d8e8" opacity="0.66"/><ellipse cx="157.7" cy="171.7" rx="1.2" ry="1.4" fill="#f03de8" opacity="0.93"/><ellipse cx="156.4" cy="171.2" rx="1.4" ry="1.4" fill="#f03de8" opacity="0.99"/><ellipse cx="160.4" cy="214.3" rx="1.0" ry="1.1" fill="#3a6cff" opacity="0.74"/><ellipse cx="172.6" cy="172.3" rx="1.0" ry="1.3" fill="#2ee04a" opacity="0.69"/><ellipse cx="172.6" cy="172.5" rx="1.1" ry="1.3" fill="#2ee04a" opacity="0.78"/><ellipse cx="138.2" cy="167.0" rx="1.0" ry="1.2" fill="#f03de8" opacity="0.76"/><ellipse cx="145.9" cy="176.9" rx="1.4" ry="1.2" fill="#3a6cff" opacity="0.75"/><ellipse cx="147.0" cy="176.5" rx="1.1" ry="1.4" fill="#3a6cff" opacity="0.81"/><ellipse cx="133.7" cy="168.8" rx="1.4" ry="1.6" fill="#22d8e8" opacity="0.96"/><ellipse cx="179.5" cy="190.0" rx="1.5" ry="1.3" fill="#e8e83a" opacity="0.75"/><ellipse cx="148.6" cy="209.4" rx="1.3" ry="1.3" fill="#f03de8" opacity="0.91"/><ellipse cx="147.4" cy="210.2" rx="1.3" ry="1.4" fill="#f03de8" opacity="0.98"/><ellipse cx="137.0" cy="180.2" rx="1.3" ry="1.6" fill="#e8e83a" opacity="0.69"/><ellipse cx="154.3" cy="161.7" rx="1.1" ry="0.9" fill="#22d8e8" opacity="0.93"/><ellipse cx="153.3" cy="163.2" rx="1.4" ry="1.2" fill="#22d8e8" opacity="0.89"/><ellipse cx="129.5" cy="202.1" rx="1.5" ry="1.5" fill="#f03de8" opacity="0.77"/><ellipse cx="124.5" cy="185.5" rx="1.2" ry="1.2" fill="#e8e83a" opacity="0.97"/><ellipse cx="123.2" cy="186.5" rx="0.9" ry="1.1" fill="#e8e83a" opacity="0.93"/><ellipse cx="150.3" cy="208.3" rx="1.0" ry="1.0" fill="#f03de8" opacity="0.68"/><ellipse cx="150.8" cy="207.0" rx="1.3" ry="1.4" fill="#f03de8" opacity="0.82"/><ellipse cx="150.5" cy="181.4" rx="1.0" ry="1.1" fill="#f03de8" opacity="0.77"/><ellipse cx="151.7" cy="181.5" rx="1.4" ry="1.2" fill="#f03de8" opacity="0.88"/><ellipse cx="133.5" cy="174.0" rx="1.1" ry="1.0" fill="#2ee04a" opacity="0.67"/><ellipse cx="149.1" cy="199.6" rx="1.1" ry="1.0" fill="#f03de8" opacity="0.68"/><ellipse cx="184.8" cy="188.0" rx="1.4" ry="1.3" fill="#e8e83a" opacity="0.88"/><ellipse cx="174.4" cy="180.3" rx="1.3" ry="1.5" fill="#3a6cff" opacity="0.98"/><ellipse cx="142.2" cy="173.3" rx="1.1" ry="1.0" fill="#f03de8" opacity="0.87"/><ellipse cx="170.0" cy="162.2" rx="1.4" ry="1.3" fill="#22d8e8" opacity="0.71"/><ellipse cx="160.7" cy="170.6" rx="1.4" ry="1.3" fill="#2ee04a" opacity="0.66"/><ellipse cx="128.0" cy="176.2" rx="1.2" ry="1.1" fill="#2ee04a" opacity="0.75"/><ellipse cx="143.0" cy="181.4" rx="0.9" ry="0.9" fill="#22d8e8" opacity="0.72"/><ellipse cx="143.8" cy="179.6" rx="1.4" ry="1.8" fill="#22d8e8" opacity="0.93"/><ellipse cx="135.9" cy="193.4" rx="1.5" ry="1.4" fill="#22d8e8" opacity="0.90"/><ellipse cx="148.3" cy="189.2" rx="1.1" ry="1.1" fill="#3a6cff" opacity="0.99"/><ellipse cx="149.8" cy="190.5" rx="1.5" ry="2.0" fill="#3a6cff" opacity="0.87"/><ellipse cx="155.5" cy="178.2" rx="1.2" ry="1.4" fill="#f03de8" opacity="0.75"/><ellipse cx="154.9" cy="179.6" rx="0.9" ry="0.8" fill="#f03de8" opacity="0.89"/><ellipse cx="142.0" cy="189.1" rx="1.2" ry="1.0" fill="#22d8e8" opacity="0.71"/><ellipse cx="171.0" cy="171.7" rx="1.0" ry="1.0" fill="#22d8e8" opacity="0.74"/><ellipse cx="127.3" cy="187.5" rx="1.2" ry="1.3" fill="#f03de8" opacity="0.68"/><ellipse cx="127.0" cy="186.0" rx="1.2" ry="1.5" fill="#f03de8" opacity="0.84"/><ellipse cx="145.6" cy="160.5" rx="1.0" ry="1.2" fill="#22d8e8" opacity="0.79"/><ellipse cx="144.5" cy="162.1" rx="1.3" ry="1.5" fill="#22d8e8" opacity="0.70"/><ellipse cx="153.5" cy="177.8" rx="1.2" ry="1.0" fill="#f03de8" opacity="0.70"/><ellipse cx="161.0" cy="180.7" rx="1.4" ry="1.7" fill="#f03de8" opacity="0.65"/><ellipse cx="151.4" cy="201.1" rx="1.3" ry="1.1" fill="#3a6cff" opacity="0.84"/><ellipse cx="155.9" cy="175.8" rx="1.3" ry="1.1" fill="#e8e83a" opacity="0.66"/><ellipse cx="154.5" cy="176.8" rx="1.0" ry="1.1" fill="#e8e83a" opacity="0.75"/><ellipse cx="144.0" cy="168.6" rx="1.3" ry="1.6" fill="#22d8e8" opacity="0.98"/><ellipse cx="142.3" cy="168.1" rx="1.0" ry="1.0" fill="#22d8e8" opacity="0.96"/><ellipse cx="154.4" cy="179.3" rx="1.2" ry="1.1" fill="#22d8e8" opacity="0.99"/><ellipse cx="131.9" cy="184.0" rx="1.3" ry="1.2" fill="#3a6cff" opacity="0.94"/><ellipse cx="149.2" cy="168.6" rx="1.1" ry="1.2" fill="#e8e83a" opacity="0.73"/><ellipse cx="152.2" cy="214.1" rx="1.0" ry="1.0" fill="#3a6cff" opacity="0.67"/><ellipse cx="172.0" cy="185.0" rx="1.4" ry="1.7" fill="#3a6cff" opacity="0.97"/><ellipse cx="170.6" cy="183.9" rx="1.2" ry="1.3" fill="#3a6cff" opacity="0.68"/><ellipse cx="159.7" cy="160.1" rx="1.4" ry="1.6" fill="#f03de8" opacity="0.83"/><ellipse cx="138.9" cy="172.4" rx="1.1" ry="1.1" fill="#3a6cff" opacity="1.00"/><ellipse cx="138.8" cy="171.9" rx="1.1" ry="1.0" fill="#3a6cff" opacity="0.77"/><ellipse cx="155.6" cy="189.7" rx="1.3" ry="1.1" fill="#22d8e8" opacity="0.90"/><ellipse cx="154.7" cy="190.0" rx="1.3" ry="1.7" fill="#22d8e8" opacity="0.68"/><ellipse cx="163.6" cy="212.9" rx="1.2" ry="1.5" fill="#3a6cff" opacity="0.89"/><ellipse cx="146.3" cy="157.6" rx="1.1" ry="0.9" fill="#e8e83a" opacity="0.71"/><ellipse cx="148.9" cy="211.1" rx="1.3" ry="1.6" fill="#f03de8" opacity="0.88"/><ellipse cx="161.3" cy="210.4" rx="1.4" ry="1.6" fill="#22d8e8" opacity="0.90"/><ellipse cx="159.5" cy="209.5" rx="1.3" ry="1.1" fill="#22d8e8" opacity="0.76"/><ellipse cx="170.8" cy="189.0" rx="1.4" ry="1.3" fill="#22d8e8" opacity="0.95"/><ellipse cx="171.9" cy="187.5" rx="1.3" ry="1.5" fill="#22d8e8" opacity="1.00"/><ellipse cx="126.1" cy="203.2" rx="1.5" ry="1.3" fill="#22d8e8" opacity="0.86"/><ellipse cx="148.9" cy="168.7" rx="1.4" ry="1.2" fill="#22d8e8" opacity="0.93"/><ellipse cx="130.4" cy="196.3" rx="1.3" ry="1.2" fill="#3a6cff" opacity="0.87"/><ellipse cx="131.5" cy="196.2" rx="0.9" ry="1.0" fill="#3a6cff" opacity="0.88"/><ellipse cx="125.5" cy="178.3" rx="1.1" ry="1.0" fill="#3a6cff" opacity="0.85"/><ellipse cx="176.1" cy="201.9" rx="1.4" ry="1.2" fill="#2ee04a" opacity="0.66"/><ellipse cx="158.2" cy="192.3" rx="1.0" ry="0.9" fill="#e8e83a" opacity="0.91"/><ellipse cx="164.3" cy="180.0" rx="1.3" ry="1.3" fill="#e8e83a" opacity="0.93"/><ellipse cx="133.4" cy="190.3" rx="1.4" ry="1.8" fill="#22d8e8" opacity="0.89"/><ellipse cx="142.4" cy="197.9" rx="1.1" ry="1.0" fill="#22d8e8" opacity="0.80"/><ellipse cx="141.4" cy="196.9" rx="1.4" ry="1.6" fill="#22d8e8" opacity="0.75"/><ellipse cx="167.9" cy="185.5" rx="1.1" ry="1.3" fill="#3a6cff" opacity="0.94"/><ellipse cx="148.1" cy="203.3" rx="1.3" ry="1.3" fill="#e8e83a" opacity="0.85"/><ellipse cx="163.6" cy="176.4" rx="1.5" ry="1.7" fill="#22d8e8" opacity="0.93"/><ellipse cx="170.2" cy="209.4" rx="1.0" ry="0.9" fill="#22d8e8" opacity="0.89"/><ellipse cx="168.5" cy="195.6" rx="1.1" ry="1.3" fill="#2ee04a" opacity="0.89"/><ellipse cx="175.0" cy="191.1" rx="0.9" ry="1.2" fill="#f03de8" opacity="0.76"/><ellipse cx="176.4" cy="189.7" rx="1.2" ry="1.1" fill="#f03de8" opacity="0.80"/><ellipse cx="163.8" cy="208.5" rx="1.0" ry="1.0" fill="#22d8e8" opacity="0.82"/><ellipse cx="165.4" cy="208.0" rx="1.0" ry="1.3" fill="#22d8e8" opacity="0.96"/><ellipse cx="149.9" cy="170.0" rx="0.9" ry="1.1" fill="#f03de8" opacity="0.98"/><ellipse cx="149.9" cy="203.4" rx="1.1" ry="1.1" fill="#22d8e8" opacity="1.00"/><ellipse cx="150.8" cy="202.5" rx="1.2" ry="1.3" fill="#22d8e8" opacity="0.78"/><ellipse cx="168.8" cy="207.4" rx="1.1" ry="1.1" fill="#2ee04a" opacity="1.00"/><ellipse cx="142.2" cy="161.9" rx="1.3" ry="1.1" fill="#f03de8" opacity="0.90"/><ellipse cx="131.4" cy="198.6" rx="1.3" ry="1.3" fill="#e8e83a" opacity="0.88"/><ellipse cx="131.3" cy="198.0" rx="1.3" ry="1.2" fill="#e8e83a" opacity="0.94"/><ellipse cx="159.9" cy="158.9" rx="1.1" ry="1.2" fill="#2ee04a" opacity="0.94"/><ellipse cx="158.4" cy="160.0" rx="1.3" ry="1.7" fill="#2ee04a" opacity="0.92"/><ellipse cx="149.7" cy="213.5" rx="1.5" ry="1.3" fill="#2ee04a" opacity="0.92"/><ellipse cx="149.2" cy="212.4" rx="1.0" ry="1.0" fill="#2ee04a" opacity="0.89"/><ellipse cx="167.5" cy="206.1" rx="1.3" ry="1.7" fill="#22d8e8" opacity="0.76"/><ellipse cx="167.0" cy="207.4" rx="1.2" ry="1.2" fill="#22d8e8" opacity="0.90"/><ellipse cx="137.7" cy="199.0" rx="1.1" ry="1.0" fill="#3a6cff" opacity="0.81"/><ellipse cx="136.3" cy="199.5" rx="1.4" ry="1.2" fill="#3a6cff" opacity="0.83"/><ellipse cx="164.7" cy="186.4" rx="1.1" ry="0.9" fill="#e8e83a" opacity="0.72"/><ellipse cx="164.9" cy="184.8" rx="1.0" ry="1.2" fill="#e8e83a" opacity="0.75"/><ellipse cx="144.5" cy="199.6" rx="1.4" ry="1.6" fill="#22d8e8" opacity="0.78"/><ellipse cx="173.4" cy="191.5" rx="1.2" ry="1.3" fill="#2ee04a" opacity="0.93"/><ellipse cx="139.5" cy="201.1" rx="1.5" ry="1.8" fill="#3a6cff" opacity="0.78"/><ellipse cx="142.2" cy="170.8" rx="1.2" ry="1.3" fill="#22d8e8" opacity="0.97"/><ellipse cx="152.3" cy="179.6" rx="1.2" ry="1.5" fill="#22d8e8" opacity="0.80"/><ellipse cx="152.3" cy="179.7" rx="1.4" ry="1.6" fill="#22d8e8" opacity="0.91"/><ellipse cx="145.4" cy="190.2" rx="1.0" ry="1.1" fill="#22d8e8" opacity="0.69"/><ellipse cx="176.4" cy="199.8" rx="1.4" ry="1.4" fill="#3a6cff" opacity="0.67"/><ellipse cx="144.2" cy="167.7" rx="1.5" ry="1.3" fill="#3a6cff" opacity="0.77"/><ellipse cx="146.7" cy="185.4" rx="1.5" ry="1.6" fill="#f03de8" opacity="0.83"/><ellipse cx="144.3" cy="189.8" rx="1.0" ry="0.9" fill="#22d8e8" opacity="0.84"/><ellipse cx="136.0" cy="200.7" rx="1.4" ry="1.3" fill="#e8e83a" opacity="0.97"/><ellipse cx="136.2" cy="199.1" rx="1.1" ry="1.2" fill="#e8e83a" opacity="0.79"/><ellipse cx="134.4" cy="179.1" rx="1.4" ry="1.6" fill="#f03de8" opacity="0.86"/><ellipse cx="121.4" cy="194.2" rx="1.2" ry="1.3" fill="#e8e83a" opacity="0.67"/><ellipse cx="158.5" cy="179.1" rx="1.2" ry="1.4" fill="#f03de8" opacity="0.89"/><ellipse cx="157.7" cy="178.1" rx="1.4" ry="1.3" fill="#f03de8" opacity="0.97"/><ellipse cx="155.0" cy="196.0" rx="1.1" ry="1.3" fill="#f03de8" opacity="0.89"/><ellipse cx="157.1" cy="192.8" rx="1.4" ry="1.6" fill="#22d8e8" opacity="0.90"/><ellipse cx="145.7" cy="200.6" rx="1.1" ry="1.4" fill="#3a6cff" opacity="0.76"/><ellipse cx="162.2" cy="199.8" rx="1.4" ry="1.4" fill="#3a6cff" opacity="0.89"/><ellipse cx="160.8" cy="200.9" rx="1.0" ry="1.2" fill="#3a6cff" opacity="1.00"/><ellipse cx="174.4" cy="177.8" rx="1.2" ry="1.5" fill="#f03de8" opacity="0.68"/><ellipse cx="121.4" cy="188.7" rx="1.0" ry="0.9" fill="#3a6cff" opacity="0.96"/><ellipse cx="122.7" cy="187.7" rx="1.5" ry="1.2" fill="#3a6cff" opacity="0.86"/><ellipse cx="171.3" cy="182.3" rx="1.1" ry="1.2" fill="#22d8e8" opacity="0.77"/><ellipse cx="170.8" cy="180.9" rx="1.4" ry="1.7" fill="#22d8e8" opacity="0.90"/><ellipse cx="124.5" cy="193.3" rx="0.9" ry="1.0" fill="#22d8e8" opacity="0.68"/><ellipse cx="144.3" cy="176.8" rx="1.0" ry="0.9" fill="#3a6cff" opacity="0.98"/><ellipse cx="137.1" cy="210.0" rx="1.5" ry="1.3" fill="#e8e83a" opacity="0.82"/><ellipse cx="140.2" cy="183.5" rx="1.1" ry="1.2" fill="#f03de8" opacity="1.00"/><ellipse cx="141.6" cy="184.3" rx="1.2" ry="1.1" fill="#f03de8" opacity="0.68"/><ellipse cx="159.0" cy="191.0" rx="1.1" ry="0.9" fill="#e8e83a" opacity="0.79"/><ellipse cx="133.9" cy="184.1" rx="1.1" ry="1.3" fill="#22d8e8" opacity="0.83"/><ellipse cx="164.6" cy="161.3" rx="1.0" ry="1.2" fill="#22d8e8" opacity="0.71"/><ellipse cx="163.9" cy="159.8" rx="1.4" ry="1.5" fill="#22d8e8" opacity="0.71"/><ellipse cx="138.9" cy="212.4" rx="1.4" ry="1.6" fill="#2ee04a" opacity="0.70"/><ellipse cx="144.7" cy="195.9" rx="1.5" ry="1.9" fill="#f03de8" opacity="0.82"/><ellipse cx="144.7" cy="196.9" rx="1.5" ry="1.8" fill="#f03de8" opacity="0.87"/><ellipse cx="160.3" cy="208.6" rx="1.1" ry="1.0" fill="#2ee04a" opacity="0.99"/><ellipse cx="138.7" cy="163.0" rx="1.5" ry="1.7" fill="#22d8e8" opacity="0.94"/><ellipse cx="160.2" cy="164.0" rx="1.5" ry="1.4" fill="#2ee04a" opacity="0.99"/><ellipse cx="120.5" cy="180.2" rx="1.1" ry="1.3" fill="#22d8e8" opacity="0.73"/><ellipse cx="159.2" cy="205.5" rx="1.5" ry="1.2" fill="#f03de8" opacity="0.88"/><ellipse cx="131.3" cy="200.7" rx="1.3" ry="1.6" fill="#2ee04a" opacity="0.77"/><ellipse cx="127.0" cy="170.6" rx="1.5" ry="1.9" fill="#f03de8" opacity="0.82"/><ellipse cx="136.4" cy="194.9" rx="1.2" ry="1.2" fill="#22d8e8" opacity="0.66"/><ellipse cx="135.1" cy="211.6" rx="1.2" ry="1.2" fill="#22d8e8" opacity="0.73"/><ellipse cx="135.6" cy="211.2" rx="1.5" ry="1.5" fill="#22d8e8" opacity="0.77"/><ellipse cx="160.3" cy="196.5" rx="1.1" ry="1.1" fill="#2ee04a" opacity="0.96"/><ellipse cx="161.3" cy="196.8" rx="1.5" ry="1.9" fill="#2ee04a" opacity="0.79"/><ellipse cx="182.5" cy="187.6" rx="1.1" ry="1.0" fill="#22d8e8" opacity="0.69"/><ellipse cx="123.0" cy="176.9" rx="1.5" ry="1.7" fill="#3a6cff" opacity="0.68"/><ellipse cx="123.4" cy="176.7" rx="1.5" ry="1.5" fill="#3a6cff" opacity="0.88"/><ellipse cx="138.1" cy="172.2" rx="1.2" ry="1.4" fill="#3a6cff" opacity="0.66"/><ellipse cx="139.5" cy="173.6" rx="1.0" ry="1.0" fill="#3a6cff" opacity="0.76"/><ellipse cx="138.5" cy="185.0" rx="0.9" ry="1.1" fill="#3a6cff" opacity="0.75"/><ellipse cx="164.1" cy="212.6" rx="1.3" ry="1.7" fill="#3a6cff" opacity="0.87"/><ellipse cx="153.5" cy="212.4" rx="1.0" ry="1.2" fill="#22d8e8" opacity="0.87"/><ellipse cx="119.4" cy="187.3" rx="1.4" ry="1.5" fill="#2ee04a" opacity="0.67"/><ellipse cx="119.6" cy="188.7" rx="1.0" ry="1.2" fill="#2ee04a" opacity="0.67"/><ellipse cx="143.4" cy="206.4" rx="1.4" ry="1.4" fill="#f03de8" opacity="0.89"/><ellipse cx="147.6" cy="214.1" rx="1.2" ry="1.3" fill="#e8e83a" opacity="0.78"/><ellipse cx="139.5" cy="210.3" rx="1.3" ry="1.4" fill="#e8e83a" opacity="0.79"/><ellipse cx="168.7" cy="209.9" rx="1.3" ry="1.6" fill="#22d8e8" opacity="0.79"/><ellipse cx="170.6" cy="194.8" rx="1.0" ry="1.0" fill="#2ee04a" opacity="0.65"/><ellipse cx="170.7" cy="195.5" rx="1.1" ry="1.2" fill="#2ee04a" opacity="0.78"/><ellipse cx="182.9" cy="182.5" rx="1.2" ry="1.4" fill="#3a6cff" opacity="0.69"/><ellipse cx="142.7" cy="208.7" rx="1.4" ry="1.3" fill="#22d8e8" opacity="0.79"/><ellipse cx="158.8" cy="169.0" rx="1.2" ry="1.4" fill="#22d8e8" opacity="0.97"/><ellipse cx="157.5" cy="168.4" rx="0.9" ry="0.9" fill="#22d8e8" opacity="0.83"/><ellipse cx="168.2" cy="166.2" rx="1.1" ry="1.3" fill="#3a6cff" opacity="0.93"/><ellipse cx="159.1" cy="175.5" rx="1.3" ry="1.6" fill="#f03de8" opacity="0.70"/><ellipse cx="144.1" cy="161.8" rx="1.3" ry="1.4" fill="#3a6cff" opacity="0.86"/><ellipse cx="167.4" cy="176.3" rx="1.0" ry="0.8" fill="#2ee04a" opacity="0.83"/><ellipse cx="166.1" cy="178.0" rx="1.0" ry="1.1" fill="#2ee04a" opacity="0.92"/><ellipse cx="129.7" cy="193.0" rx="0.9" ry="1.1" fill="#e8e83a" opacity="0.69"/><ellipse cx="128.7" cy="193.5" rx="1.1" ry="1.1" fill="#e8e83a" opacity="0.85"/><ellipse cx="157.9" cy="212.2" rx="1.2" ry="1.0" fill="#f03de8" opacity="0.92"/><ellipse cx="175.3" cy="189.8" rx="1.4" ry="1.5" fill="#2ee04a" opacity="0.79"/><ellipse cx="126.6" cy="184.2" rx="1.4" ry="1.8" fill="#f03de8" opacity="0.77"/><ellipse cx="128.3" cy="182.7" rx="1.2" ry="1.0" fill="#f03de8" opacity="0.81"/><ellipse cx="140.6" cy="162.9" rx="1.2" ry="1.1" fill="#e8e83a" opacity="0.72"/></g>
<line x1="125.30" y1="150.80" x2="125.30" y2="207.70" stroke="#fff" stroke-width="0.9" stroke-dasharray="2.2 1.6"/><line x1="182.40" y1="150.80" x2="182.40" y2="207.70" stroke="#fff" stroke-width="0.9" stroke-dasharray="2.2 1.6"/><line x1="125.30" y1="179.70" x2="182.40" y2="179.70" stroke="#fff" stroke-width="0.9" stroke-dasharray="2.2 1.6"/>
<circle cx="125.30" cy="179.70" r="3.50" fill="#ccc" stroke="#fff" stroke-width="0.9" fill-opacity="0.35"/><line x1="123.30" y1="179.70" x2="127.30" y2="179.70" stroke="#fff" stroke-width="0.7" /><line x1="125.30" y1="177.70" x2="125.30" y2="181.70" stroke="#fff" stroke-width="0.7" /><circle cx="182.40" cy="179.70" r="3.50" fill="#ccc" stroke="#fff" stroke-width="0.9" fill-opacity="0.35"/><line x1="180.40" y1="179.70" x2="184.40" y2="179.70" stroke="#fff" stroke-width="0.7" /><line x1="182.40" y1="177.70" x2="182.40" y2="181.70" stroke="#fff" stroke-width="0.7" />
<text x="194.5" y="145.5" font-size="11.1" fill="#fff" text-anchor="end" font-weight="normal" >2 min</text>
</g>
<g clip-path="url(#cb2)">
<rect x="199.40" y="135.40" width="97.60" height="97.60" fill="#050505" stroke="none" stroke-width="1" />
<ellipse cx="246.0" cy="187.6" rx="46.5" ry="46" fill="#121214" filter="url(#b5)"/>
<ellipse cx="246.0" cy="183.6" rx="35.5" ry="15" fill="#fff" opacity="0.55" filter="url(#nzS)"/>
<circle cx="213.5" cy="183.6" r="5" fill="#fff" opacity="0.45" filter="url(#nzS)"/><circle cx="278.5" cy="183.6" r="5" fill="#fff" opacity="0.45" filter="url(#nzS)"/>
<rect x="199.40" y="135.40" width="97.60" height="97.60" fill="#fff" stroke="none" stroke-width="1" filter="url(#nzC)" opacity="0.4"/>
<g filter="url(#b06)"><ellipse cx="244.3" cy="164.8" rx="1.4" ry="1.3" fill="#e8e83a" opacity="0.91"/><ellipse cx="253.9" cy="171.7" rx="0.9" ry="0.8" fill="#22d8e8" opacity="0.65"/><ellipse cx="255.2" cy="172.5" rx="1.3" ry="1.2" fill="#22d8e8" opacity="0.77"/><ellipse cx="257.1" cy="204.2" rx="1.3" ry="1.4" fill="#2ee04a" opacity="0.66"/><ellipse cx="240.5" cy="161.0" rx="1.5" ry="1.5" fill="#2ee04a" opacity="0.68"/><ellipse cx="237.9" cy="198.8" rx="1.2" ry="1.1" fill="#22d8e8" opacity="0.88"/><ellipse cx="257.4" cy="180.1" rx="1.1" ry="1.4" fill="#f03de8" opacity="0.94"/><ellipse cx="256.1" cy="178.3" rx="1.0" ry="1.1" fill="#f03de8" opacity="0.78"/><ellipse cx="270.6" cy="186.5" rx="1.3" ry="1.6" fill="#22d8e8" opacity="0.95"/><ellipse cx="235.3" cy="202.9" rx="0.9" ry="0.8" fill="#e8e83a" opacity="0.77"/><ellipse cx="252.7" cy="178.5" rx="1.3" ry="1.5" fill="#22d8e8" opacity="0.80"/><ellipse cx="267.0" cy="194.9" rx="1.5" ry="1.9" fill="#22d8e8" opacity="0.90"/><ellipse cx="221.1" cy="190.0" rx="1.1" ry="1.3" fill="#3a6cff" opacity="0.93"/><ellipse cx="249.3" cy="182.2" rx="0.9" ry="0.8" fill="#3a6cff" opacity="0.99"/><ellipse cx="248.1" cy="178.7" rx="1.3" ry="1.3" fill="#e8e83a" opacity="0.66"/><ellipse cx="248.0" cy="178.6" rx="1.5" ry="1.8" fill="#e8e83a" opacity="0.96"/><ellipse cx="254.9" cy="191.4" rx="1.1" ry="1.4" fill="#f03de8" opacity="0.68"/><ellipse cx="267.5" cy="189.2" rx="1.4" ry="1.5" fill="#22d8e8" opacity="0.90"/><ellipse cx="268.1" cy="189.6" rx="1.2" ry="1.4" fill="#22d8e8" opacity="0.85"/><ellipse cx="249.1" cy="197.2" rx="1.4" ry="1.6" fill="#3a6cff" opacity="0.99"/><ellipse cx="239.4" cy="179.1" rx="1.5" ry="1.2" fill="#f03de8" opacity="0.78"/><ellipse cx="238.3" cy="208.2" rx="1.4" ry="1.1" fill="#22d8e8" opacity="0.68"/><ellipse cx="263.1" cy="200.3" rx="1.2" ry="1.3" fill="#3a6cff" opacity="0.88"/><ellipse cx="266.1" cy="172.9" rx="0.9" ry="1.0" fill="#22d8e8" opacity="0.95"/><ellipse cx="223.0" cy="196.1" rx="1.4" ry="1.3" fill="#22d8e8" opacity="0.76"/><ellipse cx="222.5" cy="195.4" rx="1.0" ry="1.0" fill="#22d8e8" opacity="0.99"/><ellipse cx="231.2" cy="162.7" rx="1.2" ry="0.9" fill="#3a6cff" opacity="0.73"/><ellipse cx="265.6" cy="167.4" rx="1.5" ry="1.8" fill="#2ee04a" opacity="0.84"/><ellipse cx="265.4" cy="200.6" rx="1.2" ry="1.6" fill="#2ee04a" opacity="0.71"/><ellipse cx="224.5" cy="180.6" rx="1.5" ry="1.7" fill="#3a6cff" opacity="0.99"/><ellipse cx="256.9" cy="192.1" rx="1.0" ry="1.2" fill="#f03de8" opacity="0.86"/><ellipse cx="237.3" cy="177.1" rx="1.0" ry="1.2" fill="#f03de8" opacity="0.87"/><ellipse cx="229.8" cy="169.6" rx="1.4" ry="1.3" fill="#3a6cff" opacity="0.67"/><ellipse cx="250.6" cy="187.1" rx="1.3" ry="1.3" fill="#f03de8" opacity="0.92"/><ellipse cx="249.4" cy="185.7" rx="1.1" ry="1.1" fill="#f03de8" opacity="0.89"/><ellipse cx="224.2" cy="193.1" rx="0.9" ry="1.1" fill="#22d8e8" opacity="0.73"/><ellipse cx="260.9" cy="165.1" rx="0.9" ry="0.8" fill="#2ee04a" opacity="0.92"/><ellipse cx="237.9" cy="171.4" rx="1.4" ry="1.2" fill="#f03de8" opacity="0.74"/><ellipse cx="263.6" cy="196.4" rx="1.5" ry="1.9" fill="#22d8e8" opacity="0.77"/><ellipse cx="234.6" cy="181.8" rx="1.3" ry="1.6" fill="#2ee04a" opacity="0.97"/><ellipse cx="257.9" cy="206.2" rx="1.4" ry="1.7" fill="#22d8e8" opacity="0.73"/><ellipse cx="257.1" cy="175.8" rx="1.2" ry="1.0" fill="#22d8e8" opacity="0.81"/><ellipse cx="243.8" cy="175.9" rx="1.0" ry="1.0" fill="#e8e83a" opacity="0.81"/><ellipse cx="247.1" cy="201.6" rx="1.0" ry="1.2" fill="#22d8e8" opacity="1.00"/><ellipse cx="261.2" cy="177.4" rx="1.0" ry="1.2" fill="#22d8e8" opacity="0.72"/><ellipse cx="258.4" cy="192.4" rx="1.1" ry="1.0" fill="#e8e83a" opacity="0.88"/><ellipse cx="239.6" cy="192.9" rx="1.2" ry="1.0" fill="#e8e83a" opacity="0.81"/><ellipse cx="240.4" cy="193.1" rx="1.1" ry="1.1" fill="#e8e83a" opacity="0.86"/><ellipse cx="239.7" cy="175.8" rx="1.4" ry="1.1" fill="#2ee04a" opacity="0.81"/><ellipse cx="243.0" cy="166.3" rx="1.0" ry="1.2" fill="#22d8e8" opacity="0.85"/><ellipse cx="262.1" cy="178.3" rx="0.9" ry="0.9" fill="#22d8e8" opacity="0.95"/><ellipse cx="244.9" cy="162.0" rx="1.2" ry="1.2" fill="#f03de8" opacity="0.92"/><ellipse cx="244.1" cy="163.7" rx="1.4" ry="1.1" fill="#f03de8" opacity="0.71"/><ellipse cx="226.5" cy="197.3" rx="1.4" ry="1.3" fill="#3a6cff" opacity="0.93"/><ellipse cx="231.3" cy="172.9" rx="1.3" ry="1.2" fill="#3a6cff" opacity="0.80"/><ellipse cx="232.7" cy="174.7" rx="1.0" ry="0.9" fill="#3a6cff" opacity="0.91"/><ellipse cx="254.8" cy="201.0" rx="1.1" ry="1.2" fill="#22d8e8" opacity="0.73"/><ellipse cx="253.5" cy="201.9" rx="1.5" ry="1.8" fill="#22d8e8" opacity="0.68"/><ellipse cx="223.5" cy="195.0" rx="1.0" ry="0.9" fill="#22d8e8" opacity="0.68"/><ellipse cx="235.2" cy="196.0" rx="1.3" ry="1.5" fill="#3a6cff" opacity="0.93"/><ellipse cx="236.6" cy="197.6" rx="1.0" ry="0.9" fill="#3a6cff" opacity="0.96"/><ellipse cx="235.1" cy="179.7" rx="1.4" ry="1.7" fill="#22d8e8" opacity="0.67"/><ellipse cx="240.7" cy="172.8" rx="1.4" ry="1.8" fill="#2ee04a" opacity="0.96"/><ellipse cx="230.7" cy="188.5" rx="1.3" ry="1.3" fill="#f03de8" opacity="0.70"/><ellipse cx="245.7" cy="167.7" rx="1.0" ry="0.9" fill="#2ee04a" opacity="0.73"/><ellipse cx="245.4" cy="191.5" rx="1.3" ry="1.6" fill="#22d8e8" opacity="0.85"/><ellipse cx="244.8" cy="192.3" rx="1.2" ry="1.1" fill="#22d8e8" opacity="0.82"/><ellipse cx="268.2" cy="187.6" rx="1.4" ry="1.7" fill="#22d8e8" opacity="0.87"/><ellipse cx="230.9" cy="167.3" rx="1.1" ry="1.3" fill="#f03de8" opacity="0.86"/><ellipse cx="260.8" cy="163.7" rx="1.2" ry="1.5" fill="#3a6cff" opacity="0.75"/><ellipse cx="249.8" cy="186.9" rx="1.5" ry="1.8" fill="#e8e83a" opacity="0.73"/><ellipse cx="254.5" cy="186.3" rx="1.1" ry="1.1" fill="#22d8e8" opacity="0.91"/><ellipse cx="257.2" cy="173.3" rx="1.3" ry="1.5" fill="#22d8e8" opacity="0.74"/><ellipse cx="252.0" cy="161.8" rx="1.5" ry="1.6" fill="#2ee04a" opacity="0.67"/><ellipse cx="250.8" cy="162.5" rx="1.2" ry="1.3" fill="#2ee04a" opacity="0.73"/><ellipse cx="253.1" cy="161.0" rx="1.4" ry="1.6" fill="#22d8e8" opacity="0.93"/><ellipse cx="247.1" cy="194.3" rx="1.0" ry="1.1" fill="#e8e83a" opacity="0.73"/><ellipse cx="245.0" cy="203.4" rx="1.4" ry="1.2" fill="#3a6cff" opacity="0.75"/><ellipse cx="231.6" cy="167.0" rx="1.1" ry="1.2" fill="#3a6cff" opacity="0.74"/><ellipse cx="253.3" cy="196.5" rx="1.4" ry="1.4" fill="#2ee04a" opacity="0.83"/><ellipse cx="252.6" cy="197.5" rx="1.1" ry="1.0" fill="#2ee04a" opacity="0.76"/><ellipse cx="247.0" cy="197.2" rx="1.2" ry="1.2" fill="#e8e83a" opacity="0.90"/><ellipse cx="222.6" cy="180.5" rx="1.2" ry="1.1" fill="#22d8e8" opacity="0.88"/><ellipse cx="221.6" cy="179.8" rx="1.2" ry="1.4" fill="#22d8e8" opacity="0.92"/><ellipse cx="233.4" cy="198.7" rx="1.0" ry="1.2" fill="#2ee04a" opacity="0.70"/><ellipse cx="234.6" cy="200.3" rx="1.3" ry="1.0" fill="#2ee04a" opacity="0.89"/><ellipse cx="267.5" cy="190.0" rx="1.4" ry="1.6" fill="#2ee04a" opacity="0.91"/><ellipse cx="271.3" cy="190.3" rx="1.0" ry="1.1" fill="#22d8e8" opacity="0.94"/><ellipse cx="270.1" cy="189.1" rx="1.4" ry="1.4" fill="#22d8e8" opacity="0.77"/><ellipse cx="255.8" cy="194.9" rx="1.2" ry="1.1" fill="#f03de8" opacity="0.71"/><ellipse cx="256.9" cy="195.9" rx="1.2" ry="1.0" fill="#f03de8" opacity="0.93"/><ellipse cx="245.8" cy="158.2" rx="1.4" ry="1.2" fill="#e8e83a" opacity="0.83"/><ellipse cx="254.9" cy="163.4" rx="1.5" ry="1.7" fill="#3a6cff" opacity="0.88"/><ellipse cx="249.6" cy="186.4" rx="1.5" ry="1.5" fill="#f03de8" opacity="0.95"/><ellipse cx="252.0" cy="171.5" rx="1.0" ry="1.3" fill="#f03de8" opacity="0.79"/><ellipse cx="229.3" cy="165.1" rx="1.4" ry="1.6" fill="#f03de8" opacity="0.93"/><ellipse cx="228.4" cy="165.7" rx="1.1" ry="1.4" fill="#f03de8" opacity="0.70"/><ellipse cx="230.5" cy="181.0" rx="1.1" ry="1.3" fill="#22d8e8" opacity="0.95"/><ellipse cx="270.2" cy="177.6" rx="1.4" ry="1.9" fill="#3a6cff" opacity="0.98"/><ellipse cx="270.1" cy="177.5" rx="1.4" ry="1.7" fill="#3a6cff" opacity="0.91"/><ellipse cx="241.0" cy="191.2" rx="0.9" ry="1.1" fill="#f03de8" opacity="0.72"/><ellipse cx="229.1" cy="189.3" rx="1.5" ry="1.5" fill="#e8e83a" opacity="0.96"/><ellipse cx="244.4" cy="169.1" rx="1.5" ry="1.9" fill="#2ee04a" opacity="0.67"/><ellipse cx="244.2" cy="167.4" rx="1.5" ry="1.4" fill="#2ee04a" opacity="0.72"/><ellipse cx="220.9" cy="177.8" rx="1.3" ry="1.3" fill="#22d8e8" opacity="0.90"/><ellipse cx="220.7" cy="176.4" rx="1.2" ry="1.5" fill="#22d8e8" opacity="0.93"/><ellipse cx="237.8" cy="195.7" rx="1.4" ry="1.2" fill="#3a6cff" opacity="0.87"/><ellipse cx="261.6" cy="193.5" rx="1.5" ry="1.6" fill="#2ee04a" opacity="0.91"/><ellipse cx="271.2" cy="186.8" rx="1.4" ry="1.3" fill="#3a6cff" opacity="0.97"/><ellipse cx="223.6" cy="177.2" rx="1.2" ry="1.5" fill="#3a6cff" opacity="0.95"/><ellipse cx="240.9" cy="161.9" rx="1.0" ry="0.9" fill="#f03de8" opacity="0.80"/><ellipse cx="239.2" cy="160.6" rx="1.3" ry="1.5" fill="#f03de8" opacity="0.73"/><ellipse cx="250.5" cy="206.8" rx="1.5" ry="1.3" fill="#22d8e8" opacity="0.92"/><ellipse cx="233.0" cy="181.7" rx="1.0" ry="1.0" fill="#e8e83a" opacity="0.86"/><ellipse cx="251.3" cy="210.1" rx="1.2" ry="1.0" fill="#2ee04a" opacity="0.67"/><ellipse cx="252.3" cy="210.7" rx="1.0" ry="1.0" fill="#2ee04a" opacity="0.87"/><ellipse cx="262.0" cy="184.8" rx="1.1" ry="1.2" fill="#f03de8" opacity="0.76"/><ellipse cx="233.9" cy="170.8" rx="1.1" ry="1.1" fill="#22d8e8" opacity="0.94"/><ellipse cx="248.5" cy="163.5" rx="1.3" ry="1.1" fill="#e8e83a" opacity="0.71"/><ellipse cx="266.3" cy="195.5" rx="1.1" ry="1.3" fill="#22d8e8" opacity="0.94"/><ellipse cx="234.6" cy="169.7" rx="1.4" ry="1.3" fill="#3a6cff" opacity="0.87"/><ellipse cx="236.1" cy="169.3" rx="1.2" ry="1.1" fill="#3a6cff" opacity="0.84"/><ellipse cx="233.9" cy="164.4" rx="1.4" ry="1.5" fill="#22d8e8" opacity="0.89"/><ellipse cx="233.3" cy="166.0" rx="1.3" ry="1.3" fill="#22d8e8" opacity="0.71"/><ellipse cx="265.2" cy="202.6" rx="1.2" ry="1.2" fill="#22d8e8" opacity="0.96"/><ellipse cx="264.6" cy="202.7" rx="1.5" ry="1.7" fill="#22d8e8" opacity="0.82"/><ellipse cx="237.5" cy="200.4" rx="1.1" ry="1.1" fill="#3a6cff" opacity="0.78"/><ellipse cx="239.0" cy="200.5" rx="1.1" ry="1.0" fill="#3a6cff" opacity="0.94"/><ellipse cx="258.0" cy="204.7" rx="1.4" ry="1.2" fill="#22d8e8" opacity="0.73"/><ellipse cx="259.3" cy="190.2" rx="1.4" ry="1.2" fill="#22d8e8" opacity="0.94"/><ellipse cx="257.7" cy="190.2" rx="1.4" ry="1.4" fill="#22d8e8" opacity="0.87"/><ellipse cx="242.9" cy="173.0" rx="0.9" ry="0.9" fill="#22d8e8" opacity="0.89"/><ellipse cx="255.1" cy="201.8" rx="1.5" ry="1.4" fill="#22d8e8" opacity="0.69"/><ellipse cx="255.8" cy="172.2" rx="0.9" ry="1.0" fill="#2ee04a" opacity="0.97"/><ellipse cx="258.9" cy="207.8" rx="1.2" ry="1.4" fill="#2ee04a" opacity="0.66"/><ellipse cx="258.7" cy="208.9" rx="1.3" ry="1.3" fill="#2ee04a" opacity="0.96"/><ellipse cx="233.1" cy="175.2" rx="1.5" ry="1.6" fill="#2ee04a" opacity="0.70"/><ellipse cx="232.0" cy="174.8" rx="1.3" ry="1.1" fill="#2ee04a" opacity="0.93"/><ellipse cx="250.4" cy="165.2" rx="1.3" ry="1.5" fill="#22d8e8" opacity="0.79"/><ellipse cx="271.6" cy="178.2" rx="1.1" ry="1.3" fill="#3a6cff" opacity="0.93"/><ellipse cx="251.8" cy="160.3" rx="1.3" ry="1.5" fill="#3a6cff" opacity="0.77"/><ellipse cx="252.1" cy="160.5" rx="1.5" ry="1.9" fill="#3a6cff" opacity="1.00"/><ellipse cx="221.4" cy="186.3" rx="1.2" ry="1.1" fill="#22d8e8" opacity="0.83"/><ellipse cx="244.8" cy="180.8" rx="1.3" ry="1.3" fill="#3a6cff" opacity="0.96"/><ellipse cx="249.1" cy="176.8" rx="1.0" ry="1.2" fill="#f03de8" opacity="0.75"/><ellipse cx="228.2" cy="204.5" rx="1.4" ry="1.7" fill="#3a6cff" opacity="0.81"/><ellipse cx="229.5" cy="204.2" rx="1.5" ry="1.6" fill="#3a6cff" opacity="0.69"/><ellipse cx="245.9" cy="173.7" rx="1.1" ry="1.3" fill="#e8e83a" opacity="0.66"/><ellipse cx="237.3" cy="186.3" rx="1.4" ry="1.6" fill="#22d8e8" opacity="0.98"/><ellipse cx="237.9" cy="187.2" rx="1.3" ry="1.6" fill="#22d8e8" opacity="0.74"/><ellipse cx="259.2" cy="207.9" rx="1.1" ry="0.9" fill="#f03de8" opacity="0.71"/><ellipse cx="261.2" cy="184.7" rx="1.5" ry="1.4" fill="#22d8e8" opacity="0.80"/><ellipse cx="261.1" cy="184.0" rx="0.9" ry="0.9" fill="#22d8e8" opacity="0.88"/><ellipse cx="226.3" cy="187.5" rx="1.3" ry="1.3" fill="#f03de8" opacity="0.71"/><ellipse cx="258.2" cy="199.7" rx="1.2" ry="1.6" fill="#e8e83a" opacity="0.76"/><ellipse cx="241.0" cy="192.9" rx="1.1" ry="1.2" fill="#2ee04a" opacity="0.71"/><ellipse cx="248.0" cy="169.0" rx="1.1" ry="1.4" fill="#e8e83a" opacity="0.98"/><ellipse cx="239.6" cy="166.5" rx="1.0" ry="0.9" fill="#f03de8" opacity="0.72"/><ellipse cx="238.9" cy="167.3" rx="1.4" ry="1.5" fill="#f03de8" opacity="0.80"/><ellipse cx="248.0" cy="193.1" rx="1.5" ry="1.9" fill="#f03de8" opacity="0.89"/><ellipse cx="245.1" cy="181.0" rx="1.3" ry="1.0" fill="#22d8e8" opacity="0.80"/><ellipse cx="263.1" cy="172.6" rx="1.5" ry="1.4" fill="#22d8e8" opacity="0.72"/><ellipse cx="261.0" cy="199.9" rx="1.5" ry="1.3" fill="#3a6cff" opacity="0.86"/><ellipse cx="240.2" cy="167.5" rx="1.3" ry="1.7" fill="#f03de8" opacity="1.00"/><ellipse cx="242.0" cy="167.9" rx="1.3" ry="1.2" fill="#f03de8" opacity="0.90"/><ellipse cx="230.4" cy="179.6" rx="1.0" ry="0.9" fill="#2ee04a" opacity="0.93"/><ellipse cx="256.9" cy="196.2" rx="1.2" ry="1.4" fill="#3a6cff" opacity="0.90"/><ellipse cx="255.9" cy="194.9" rx="1.5" ry="1.2" fill="#3a6cff" opacity="0.96"/><ellipse cx="231.1" cy="204.3" rx="1.4" ry="1.3" fill="#e8e83a" opacity="0.88"/><ellipse cx="232.3" cy="204.1" rx="1.2" ry="1.5" fill="#e8e83a" opacity="0.86"/><ellipse cx="249.4" cy="192.5" rx="1.4" ry="1.2" fill="#22d8e8" opacity="0.92"/><ellipse cx="224.8" cy="192.6" rx="1.0" ry="1.0" fill="#22d8e8" opacity="0.97"/><ellipse cx="229.6" cy="174.6" rx="0.9" ry="0.8" fill="#22d8e8" opacity="0.83"/><ellipse cx="230.5" cy="173.5" rx="1.2" ry="1.1" fill="#22d8e8" opacity="0.72"/><ellipse cx="245.0" cy="204.1" rx="1.2" ry="1.0" fill="#f03de8" opacity="0.68"/><ellipse cx="235.7" cy="159.2" rx="1.0" ry="1.0" fill="#2ee04a" opacity="0.89"/><ellipse cx="235.8" cy="189.9" rx="1.2" ry="1.3" fill="#e8e83a" opacity="0.72"/><ellipse cx="236.7" cy="167.6" rx="1.5" ry="1.3" fill="#e8e83a" opacity="0.67"/><ellipse cx="225.6" cy="193.8" rx="1.4" ry="1.6" fill="#22d8e8" opacity="0.93"/><ellipse cx="224.1" cy="194.9" rx="1.1" ry="1.0" fill="#22d8e8" opacity="0.98"/><ellipse cx="244.7" cy="197.0" rx="0.9" ry="0.8" fill="#f03de8" opacity="0.90"/><ellipse cx="260.3" cy="168.1" rx="1.0" ry="1.0" fill="#22d8e8" opacity="0.89"/><ellipse cx="258.5" cy="166.5" rx="1.1" ry="1.4" fill="#22d8e8" opacity="1.00"/><ellipse cx="235.3" cy="209.3" rx="1.4" ry="1.7" fill="#3a6cff" opacity="0.84"/><ellipse cx="234.6" cy="208.2" rx="1.4" ry="1.2" fill="#3a6cff" opacity="0.77"/><ellipse cx="221.0" cy="174.9" rx="0.9" ry="0.9" fill="#3a6cff" opacity="0.86"/><ellipse cx="260.4" cy="189.2" rx="1.2" ry="1.1" fill="#22d8e8" opacity="0.97"/><ellipse cx="260.4" cy="188.8" rx="1.1" ry="1.1" fill="#22d8e8" opacity="0.90"/><ellipse cx="253.9" cy="167.1" rx="1.1" ry="1.1" fill="#f03de8" opacity="0.91"/><ellipse cx="254.8" cy="166.1" rx="1.1" ry="1.3" fill="#f03de8" opacity="0.88"/><ellipse cx="236.3" cy="164.9" rx="1.2" ry="1.2" fill="#22d8e8" opacity="0.86"/><ellipse cx="265.4" cy="168.3" rx="1.4" ry="1.6" fill="#f03de8" opacity="0.72"/><ellipse cx="256.0" cy="192.7" rx="1.2" ry="1.2" fill="#e8e83a" opacity="0.76"/><ellipse cx="257.9" cy="183.0" rx="1.5" ry="1.8" fill="#f03de8" opacity="0.80"/><ellipse cx="256.8" cy="184.0" rx="1.1" ry="1.0" fill="#f03de8" opacity="0.97"/><ellipse cx="230.0" cy="191.6" rx="1.0" ry="1.2" fill="#3a6cff" opacity="0.91"/><ellipse cx="257.8" cy="195.6" rx="1.0" ry="1.1" fill="#22d8e8" opacity="0.85"/><ellipse cx="256.8" cy="194.2" rx="1.4" ry="1.7" fill="#22d8e8" opacity="0.73"/><ellipse cx="222.6" cy="189.4" rx="1.3" ry="1.5" fill="#2ee04a" opacity="0.83"/><ellipse cx="255.3" cy="194.3" rx="1.1" ry="1.1" fill="#f03de8" opacity="0.88"/></g>
<line x1="213.50" y1="155.80" x2="213.50" y2="211.50" stroke="#fff" stroke-width="0.9" stroke-dasharray="2.2 1.6"/><line x1="278.50" y1="155.80" x2="278.50" y2="211.50" stroke="#fff" stroke-width="0.9" stroke-dasharray="2.2 1.6"/><line x1="213.50" y1="183.60" x2="278.50" y2="183.60" stroke="#fff" stroke-width="0.9" stroke-dasharray="2.2 1.6"/>
<circle cx="213.50" cy="183.60" r="3.50" fill="#ccc" stroke="#fff" stroke-width="0.9" fill-opacity="0.35"/><line x1="211.50" y1="183.60" x2="215.50" y2="183.60" stroke="#fff" stroke-width="0.7" /><line x1="213.50" y1="181.60" x2="213.50" y2="185.60" stroke="#fff" stroke-width="0.7" /><circle cx="278.50" cy="183.60" r="3.50" fill="#ccc" stroke="#fff" stroke-width="0.9" fill-opacity="0.35"/><line x1="276.50" y1="183.60" x2="280.50" y2="183.60" stroke="#fff" stroke-width="0.7" /><line x1="278.50" y1="181.60" x2="278.50" y2="185.60" stroke="#fff" stroke-width="0.7" />
<text x="294.5" y="145.5" font-size="11.1" fill="#fff" text-anchor="end" font-weight="normal" >6 min</text>
</g>
</g>
<g id="panel-contours">
<rect x="319.00" y="0.90" width="161.10" height="13.70" fill="#fff" stroke="#8a8a8a" stroke-width="1" />
<text x="399.5" y="11.6" font-size="11.15" fill="#000" text-anchor="middle" font-weight="normal" >U2OS, astral MT contours</text>
<rect x="319.00" y="16.70" width="98.70" height="80.60" fill="#fff" stroke="#555" stroke-width="1" />
<g clip-path="url(#cct)" fill="none" stroke-width="1.6" stroke-linecap="round">
<path d="M317,16.5 Q346,32 369.5,52.6" stroke="#7cc5ec"/>
<path d="M344.5,16.5 Q362,28 375.3,44.7" stroke="#f6a52f"/>
<path d="M362.5,16 Q372,27 378.8,41.5" stroke="#e9582a"/>
</g>
<path d="M355.5,58.4 C359,45 368,33 386.5,28.8" fill="none" stroke="#000" stroke-width="1.1"/>
<polygon points="390.3,28 383.3,26.2 385.2,28.9 383.9,32.2" fill="#000"/>
<circle cx="396.40" cy="66.60" r="5.60" fill="#fff" stroke="#000" stroke-width="1.2" />
<text x="390.0" y="80.9" font-size="8.4" fill="#000" text-anchor="middle" font-weight="normal" >centrosome</text>
<rect x="421.20" y="16.70" width="58.90" height="45.50" fill="#fff" stroke="#b0b0b0" stroke-width="1" />
<line x1="425.00" y1="24.80" x2="448.90" y2="24.80" stroke="#7cc5ec" stroke-width="1.6" />
<text x="453.3" y="27.7" font-size="8.4" fill="#000" text-anchor="start" font-weight="normal" >t=0 s</text>
<line x1="425.00" y1="38.80" x2="448.90" y2="38.80" stroke="#f6a52f" stroke-width="1.6" />
<text x="453.3" y="41.7" font-size="8.4" fill="#000" text-anchor="start" font-weight="normal" >t=30 s</text>
<line x1="425.00" y1="52.80" x2="448.90" y2="52.80" stroke="#e9582a" stroke-width="1.6" />
<text x="453.3" y="55.7" font-size="8.4" fill="#000" text-anchor="start" font-weight="normal" >t=48 s</text>
</g>
<g id="panel-spindle">
<rect x="502.20" y="0.90" width="135.30" height="13.70" fill="#fff" stroke="#8a8a8a" stroke-width="1" />
<text x="569.8" y="11.6" font-size="11.15" fill="#000" text-anchor="middle" font-weight="normal" >U2OS, whole spindle</text>
<rect x="502.20" y="17.00" width="135.30" height="80.40" fill="#fff" stroke="#555" stroke-width="1" />
<path d="M519.5,33.5 C520.5,41 524,48 532,53.5" fill="none" stroke="#cdcdcd" stroke-width="5.5" stroke-linecap="round"/>
<polyline points="538.40,63.20 543.91,57.43 549.40,52.55 554.86,48.55 560.30,45.45 565.71,43.23 571.09,41.90 576.46,41.45 581.79,41.90 587.11,43.23 592.40,45.45 597.66,48.55 602.90,52.55 608.11,57.43 613.30,63.20" fill="none" stroke="#a6a6a6" stroke-width="0.55" /><polyline points="538.40,63.20 542.85,58.77 547.26,54.86 551.65,51.47 555.99,48.60 560.31,46.25 564.58,44.42 568.83,43.12 573.04,42.33 577.22,42.07 581.36,42.33 585.47,43.11 589.54,44.41 593.58,46.23 597.59,48.58" fill="none" stroke="#a6a6a6" stroke-width="0.55" /><polyline points="538.40,63.20 543.44,57.93 548.52,53.47 553.65,49.83 558.83,46.99 564.06,44.96 569.34,43.75 574.66,43.34 580.04,43.75 585.46,44.96 590.93,46.99 596.45,49.83 602.02,53.47 607.64,57.93 613.30,63.20" fill="none" stroke="#a6a6a6" stroke-width="0.55" /><polyline points="563.21,47.12 566.57,46.33 569.97,45.84 573.40,45.65 576.86,45.75 580.36,46.15 583.89,46.85 587.45,47.85 591.04,49.15 594.67,50.75 598.33,52.64 602.02,54.83 605.75,57.32 609.51,60.11 613.30,63.20" fill="none" stroke="#a6a6a6" stroke-width="0.55" /><polyline points="554.27,50.67 558.17,48.81 562.11,47.37 566.10,46.36 570.15,45.77 574.24,45.60 578.38,45.86 582.57,46.54 586.81,47.65 591.10,49.18 595.44,51.13 599.83,53.51 604.27,56.32 608.76,59.55 613.30,63.20" fill="none" stroke="#a6a6a6" stroke-width="0.55" /><polyline points="538.40,63.20 544.20,58.83 549.93,55.12 555.59,52.10 561.18,49.74 566.70,48.06 572.15,47.05 577.54,46.71 582.85,47.05 588.10,48.06 593.28,49.74 598.39,52.10 603.43,55.12 608.40,58.83 613.30,63.20" fill="none" stroke="#a6a6a6" stroke-width="0.55" /><polyline points="538.40,63.20 541.69,60.77 544.98,58.57 548.27,56.58 551.56,54.82 554.85,53.29 558.14,51.98 561.43,50.89 564.72,50.02 568.01,49.38 571.30,48.96 574.59,48.76 577.88,48.79 581.17,49.04 584.46,49.51" fill="none" stroke="#a6a6a6" stroke-width="0.55" /><polyline points="538.40,63.20 543.59,59.92 548.81,57.15 554.05,54.88 559.32,53.12 564.61,51.85 569.92,51.10 575.26,50.85 580.62,51.10 586.01,51.85 591.42,53.12 596.85,54.88 602.31,57.15 607.79,59.92 613.30,63.20" fill="none" stroke="#a6a6a6" stroke-width="0.55" /><polyline points="538.40,63.20 543.30,60.29 548.27,57.82 553.31,55.80 558.42,54.23 563.60,53.11 568.85,52.44 574.16,52.22 579.55,52.44 585.00,53.11 590.52,54.23 596.11,55.80 601.77,57.82 607.50,60.29 613.30,63.20" fill="none" stroke="#a6a6a6" stroke-width="0.55" /><polyline points="538.40,63.20 543.81,60.47 549.21,58.16 554.61,56.27 559.99,54.80 565.36,53.75 570.73,53.12 576.08,52.91 581.43,53.12 586.76,53.75 592.09,54.80 597.41,56.27 602.71,58.16 608.01,60.47 613.30,63.20" fill="none" stroke="#a6a6a6" stroke-width="0.55" /><polyline points="538.40,63.20 543.38,61.03 548.41,59.19 553.50,57.68 558.65,56.51 563.86,55.68 569.12,55.18 574.44,55.01 579.82,55.18 585.26,55.68 590.75,56.51 596.30,57.68 601.91,59.19 607.58,61.03 613.30,63.20" fill="none" stroke="#a6a6a6" stroke-width="0.55" /><polyline points="538.40,63.20 543.43,61.50 548.52,60.06 553.65,58.88 558.83,57.97 564.06,57.31 569.33,56.92 574.66,56.79 580.03,56.92 585.46,57.31 590.93,57.97 596.45,58.88 602.02,60.06 607.63,61.50 613.30,63.20" fill="none" stroke="#a6a6a6" stroke-width="0.55" /><polyline points="538.40,63.20 543.29,62.03 548.13,61.01 552.91,60.14 557.65,59.42 562.33,58.84 566.97,58.42 571.55,58.14 576.08,58.02 580.56,58.04 584.99,58.21 589.37,58.54 593.70,59.01 597.98,59.63 602.20,60.40" fill="none" stroke="#a6a6a6" stroke-width="0.55" /><polyline points="538.40,63.20 543.85,62.31 549.28,61.56 554.69,60.94 560.10,60.46 565.48,60.12 570.86,59.91 576.21,59.85 581.56,59.91 586.88,60.12 592.20,60.46 597.49,60.94 602.78,61.56 608.05,62.31 613.30,63.20" fill="none" stroke="#a6a6a6" stroke-width="0.55" /><polyline points="538.40,63.20 542.23,62.96 546.04,62.75 549.82,62.56 553.57,62.39 557.30,62.25 561.00,62.13 564.67,62.03 568.32,61.96 571.94,61.91 575.54,61.89 579.10,61.89 582.64,61.91 586.16,61.96 589.64,62.03" fill="none" stroke="#a6a6a6" stroke-width="0.55" /><polyline points="538.40,63.20 544.21,63.53 549.95,63.81 555.62,64.04 561.22,64.22 566.75,64.35 572.21,64.42 577.59,64.45 582.91,64.42 588.15,64.35 593.32,64.22 598.42,64.04 603.45,63.81 608.41,63.53 613.30,63.20" fill="none" stroke="#a6a6a6" stroke-width="0.55" /><polyline points="561.03,65.96 564.70,66.18 568.38,66.33 572.06,66.42 575.76,66.44 579.47,66.40 583.19,66.30 586.92,66.13 590.66,65.91 594.41,65.61 598.16,65.26 601.93,64.84 605.71,64.36 609.50,63.81 613.30,63.20" fill="none" stroke="#a6a6a6" stroke-width="0.55" /><polyline points="549.36,66.04 553.58,66.83 557.86,67.47 562.19,67.95 566.57,68.29 571.01,68.47 575.50,68.49 580.04,68.36 584.63,68.09 589.28,67.65 593.98,67.07 598.73,66.33 603.53,65.44 608.39,64.40 613.30,63.20" fill="none" stroke="#a6a6a6" stroke-width="0.55" /><polyline points="538.40,63.20 543.75,65.02 549.09,66.56 554.44,67.83 559.79,68.81 565.13,69.51 570.48,69.93 575.83,70.07 581.18,69.93 586.53,69.51 591.89,68.81 597.24,67.83 602.59,66.56 607.95,65.02 613.30,63.20" fill="none" stroke="#a6a6a6" stroke-width="0.55" /><polyline points="538.40,63.20 544.05,65.41 549.65,67.27 555.20,68.80 560.71,69.99 566.17,70.84 571.59,71.35 576.97,71.52 582.29,71.35 587.57,70.84 592.81,69.99 598.00,68.80 603.15,67.27 608.25,65.41 613.30,63.20" fill="none" stroke="#a6a6a6" stroke-width="0.55" /><polyline points="538.40,63.20 543.82,65.75 549.22,67.90 554.62,69.66 560.01,71.03 565.38,72.01 570.75,72.60 576.10,72.80 581.45,72.60 586.78,72.01 592.11,71.03 597.42,69.66 602.72,67.90 608.02,65.75 613.30,63.20" fill="none" stroke="#a6a6a6" stroke-width="0.55" /><polyline points="538.40,63.20 541.29,64.97 544.19,66.59 547.09,68.06 550.01,69.39 552.93,70.57 555.86,71.60 558.80,72.48 561.75,73.22 564.71,73.81 567.68,74.25 570.66,74.55 573.64,74.70 576.63,74.70 579.64,74.55" fill="none" stroke="#a6a6a6" stroke-width="0.55" /><polyline points="564.49,75.53 567.88,76.11 571.29,76.47 574.71,76.60 578.15,76.50 581.60,76.18 585.06,75.64 588.54,74.87 592.03,73.88 595.54,72.66 599.06,71.22 602.60,69.55 606.15,67.66 609.72,65.54 613.30,63.20" fill="none" stroke="#a6a6a6" stroke-width="0.55" /><polyline points="538.40,63.20 542.86,66.10 547.29,68.66 551.69,70.88 556.06,72.75 560.40,74.27 564.70,75.45 568.98,76.29 573.22,76.78 577.43,76.92 581.61,76.72 585.76,76.18 589.88,75.29 593.97,74.05 598.02,72.47" fill="none" stroke="#a6a6a6" stroke-width="0.55" /><polyline points="538.40,63.20 543.96,67.31 549.49,70.80 554.98,73.65 560.45,75.86 565.88,77.44 571.27,78.39 576.64,78.71 581.97,78.39 587.28,77.44 592.55,75.86 597.78,73.65 602.99,70.80 608.16,67.31 613.30,63.20" fill="none" stroke="#a6a6a6" stroke-width="0.55" /><polyline points="538.40,63.20 543.64,67.92 548.90,71.91 554.17,75.18 559.46,77.72 564.77,79.53 570.09,80.62 575.43,80.98 580.79,80.62 586.17,79.53 591.56,77.72 596.97,75.18 602.40,71.91 607.84,67.92 613.30,63.20" fill="none" stroke="#a6a6a6" stroke-width="0.55" /><polyline points="538.40,63.20 543.86,68.34 549.30,72.69 554.72,76.25 560.13,79.02 565.52,81.00 570.90,82.18 576.26,82.58 581.60,82.18 586.92,81.00 592.23,79.02 597.52,76.25 602.80,72.69 608.06,68.34 613.30,63.20" fill="none" stroke="#a6a6a6" stroke-width="0.55" /><polyline points="538.40,63.20 543.60,68.66 548.83,73.29 554.07,77.07 559.34,80.01 564.64,82.11 569.95,83.37 575.29,83.79 580.65,83.37 586.04,82.11 591.44,80.01 596.87,77.07 602.33,73.29 607.80,68.66 613.30,63.20" fill="none" stroke="#a6a6a6" stroke-width="0.55" /><polyline points="538.40,63.20 543.35,68.68 548.36,73.31 553.43,77.10 558.56,80.05 563.76,82.15 569.01,83.42 574.33,83.84 579.71,83.42 585.16,82.15 590.66,80.05 596.23,77.10 601.86,73.31 607.55,68.68 613.30,63.20" fill="none" stroke="#a6a6a6" stroke-width="0.55" /><polyline points="538.40,63.20 544.08,68.91 549.70,73.75 555.28,77.70 560.80,80.78 566.28,82.97 571.71,84.29 577.08,84.73 582.41,84.29 587.68,82.97 592.90,80.78 598.08,77.70 603.20,73.75 608.28,68.91 613.30,63.20" fill="none" stroke="#a6a6a6" stroke-width="0.55" />
<line x1="538.66" y1="64.17" x2="543.63" y2="82.55" stroke="#a6a6a6" stroke-width="0.5" /><line x1="538.48" y1="64.20" x2="539.48" y2="76.25" stroke="#a6a6a6" stroke-width="0.5" /><line x1="538.22" y1="64.18" x2="535.77" y2="78.00" stroke="#a6a6a6" stroke-width="0.5" /><line x1="538.02" y1="64.12" x2="534.25" y2="73.21" stroke="#a6a6a6" stroke-width="0.5" /><line x1="537.80" y1="64.00" x2="525.93" y2="79.83" stroke="#a6a6a6" stroke-width="0.5" /><line x1="537.59" y1="63.78" x2="523.00" y2="74.24" stroke="#a6a6a6" stroke-width="0.5" /><line x1="537.50" y1="63.63" x2="526.66" y2="68.85" stroke="#a6a6a6" stroke-width="0.5" /><line x1="537.41" y1="63.36" x2="522.31" y2="65.84" stroke="#a6a6a6" stroke-width="0.5" /><line x1="537.40" y1="63.16" x2="528.07" y2="62.77" stroke="#a6a6a6" stroke-width="0.5" /><line x1="537.42" y1="62.99" x2="518.79" y2="58.96" stroke="#a6a6a6" stroke-width="0.5" /><line x1="537.53" y1="62.71" x2="520.46" y2="53.13" stroke="#a6a6a6" stroke-width="0.5" /><line x1="537.65" y1="62.54" x2="527.04" y2="53.23" stroke="#a6a6a6" stroke-width="0.5" /><line x1="537.82" y1="62.39" x2="526.63" y2="46.79" stroke="#a6a6a6" stroke-width="0.5" /><line x1="537.99" y1="62.29" x2="531.67" y2="48.23" stroke="#a6a6a6" stroke-width="0.5" /><line x1="538.21" y1="62.22" x2="534.67" y2="44.35" stroke="#a6a6a6" stroke-width="0.5" /><line x1="538.41" y1="62.20" x2="538.49" y2="44.98" stroke="#a6a6a6" stroke-width="0.5" /><line x1="538.74" y1="62.26" x2="541.88" y2="53.52" stroke="#a6a6a6" stroke-width="0.5" />
<line x1="612.89" y1="62.29" x2="606.69" y2="48.54" stroke="#a6a6a6" stroke-width="0.5" /><line x1="613.18" y1="62.21" x2="611.43" y2="47.89" stroke="#a6a6a6" stroke-width="0.5" /><line x1="613.37" y1="62.20" x2="614.19" y2="49.77" stroke="#a6a6a6" stroke-width="0.5" /><line x1="613.71" y1="62.29" x2="621.17" y2="45.95" stroke="#a6a6a6" stroke-width="0.5" /><line x1="613.85" y1="62.37" x2="618.85" y2="54.83" stroke="#a6a6a6" stroke-width="0.5" /><line x1="614.05" y1="62.54" x2="620.25" y2="57.06" stroke="#a6a6a6" stroke-width="0.5" /><line x1="614.22" y1="62.80" x2="622.98" y2="59.01" stroke="#a6a6a6" stroke-width="0.5" /><line x1="614.30" y1="63.12" x2="629.45" y2="61.83" stroke="#a6a6a6" stroke-width="0.5" /><line x1="614.30" y1="63.28" x2="628.17" y2="64.45" stroke="#a6a6a6" stroke-width="0.5" /><line x1="614.23" y1="63.57" x2="626.71" y2="68.53" stroke="#a6a6a6" stroke-width="0.5" /><line x1="614.11" y1="63.79" x2="622.04" y2="69.59" stroke="#a6a6a6" stroke-width="0.5" /><line x1="613.93" y1="63.98" x2="621.54" y2="73.46" stroke="#a6a6a6" stroke-width="0.5" /><line x1="613.63" y1="64.14" x2="618.30" y2="77.40" stroke="#a6a6a6" stroke-width="0.5" /><line x1="613.46" y1="64.19" x2="615.97" y2="79.81" stroke="#a6a6a6" stroke-width="0.5" /><line x1="613.08" y1="64.18" x2="609.50" y2="80.30" stroke="#a6a6a6" stroke-width="0.5" />
<circle cx="538.40" cy="63.20" r="1.30" fill="#888" stroke="none" stroke-width="1" />
<circle cx="613.30" cy="63.20" r="1.30" fill="#888" stroke="none" stroke-width="1" />
<circle cx="531.80" cy="50.30" r="1.50" fill="#29b6e8" stroke="#1593c8" stroke-width="0.5" />
<circle cx="533.20" cy="52.90" r="1.50" fill="#29b6e8" stroke="#1593c8" stroke-width="0.5" />
<rect x="510.00" y="45.50" width="35.80" height="29.10" fill="none" stroke="#444" stroke-width="0.9" />
</g>
<g id="panel-c">
<text x="306.8" y="123.5" font-size="13.5" fill="#000" text-anchor="start" font-weight="bold" >c</text>
<rect x="338.30" y="112.00" width="79.50" height="11.30" fill="#fff" stroke="#8c8c8c" stroke-width="1" />
<text x="378.0" y="121.7" font-size="11.15" fill="#000" text-anchor="middle" font-weight="normal" >U2OS, live</text>
<rect x="338.30" y="125.40" width="79.50" height="98.10" fill="#fff" stroke="#8c8c8c" stroke-width="1" />
<polyline points="338.30,133.81 349.66,133.81 361.01,134.91 372.37,139.28 383.73,197.25 395.09,210.92" fill="none" stroke="#2b8fd6" stroke-width="1.1" stroke-linejoin="round"/>
<polyline points="338.30,151.31 349.66,143.66 361.01,138.73 372.37,157.88 383.73,173.73 395.09,216.94" fill="none" stroke="#f4b320" stroke-width="1.1" stroke-linejoin="round"/>
<polyline points="338.30,145.84 349.66,151.86 361.01,167.17 372.37,173.73 383.73,183.58 395.09,193.97 406.44,193.42 417.80,193.42" fill="none" stroke="#e8603a" stroke-width="1.1" stroke-linejoin="round"/>
<polyline points="338.30,167.72 349.66,163.89 361.01,177.02 372.37,168.81 383.73,169.36 395.09,167.17 406.44,190.14 417.80,191.78" fill="none" stroke="#8e44ad" stroke-width="1.1" stroke-linejoin="round"/>
<polyline points="338.30,167.72 349.66,174.28 361.01,175.38 372.37,201.08 383.73,202.72" fill="none" stroke="#7ab648" stroke-width="1.1" stroke-linejoin="round"/>
<line x1="338.30" y1="223.50" x2="340.30" y2="223.50" stroke="#8c8c8c" stroke-width="0.8" />
<text x="336.3" y="229.5" font-size="11.1" fill="#000" text-anchor="end" font-weight="normal" >0</text>
<line x1="338.30" y1="201.62" x2="340.30" y2="201.62" stroke="#8c8c8c" stroke-width="0.8" />
<text x="336.3" y="206.6" font-size="11.1" fill="#000" text-anchor="end" font-weight="normal" >40</text>
<line x1="338.30" y1="179.75" x2="340.30" y2="179.75" stroke="#8c8c8c" stroke-width="0.8" />
<text x="336.3" y="184.8" font-size="11.1" fill="#000" text-anchor="end" font-weight="normal" >80</text>
<line x1="338.30" y1="157.88" x2="340.30" y2="157.88" stroke="#8c8c8c" stroke-width="0.8" />
<text x="336.3" y="162.9" font-size="11.1" fill="#000" text-anchor="end" font-weight="normal" >120</text>
<line x1="338.30" y1="136.00" x2="340.30" y2="136.00" stroke="#8c8c8c" stroke-width="0.8" />
<text x="336.3" y="141.0" font-size="11.1" fill="#000" text-anchor="end" font-weight="normal" >160</text>
<line x1="338.30" y1="212.56" x2="339.50" y2="212.56" stroke="#8c8c8c" stroke-width="0.6" />
<line x1="338.30" y1="190.69" x2="339.50" y2="190.69" stroke="#8c8c8c" stroke-width="0.6" />
<line x1="338.30" y1="168.81" x2="339.50" y2="168.81" stroke="#8c8c8c" stroke-width="0.6" />
<line x1="338.30" y1="146.94" x2="339.50" y2="146.94" stroke="#8c8c8c" stroke-width="0.6" />
<text x="338.3" y="234.5" font-size="11.1" fill="#000" text-anchor="middle" font-weight="normal" >0</text>
<text x="349.7" y="234.5" font-size="11.1" fill="#000" text-anchor="middle" font-weight="normal" >1</text>
<text x="361.0" y="234.5" font-size="11.1" fill="#000" text-anchor="middle" font-weight="normal" >2</text>
<text x="372.4" y="234.5" font-size="11.1" fill="#000" text-anchor="middle" font-weight="normal" >3</text>
<text x="383.7" y="234.5" font-size="11.1" fill="#000" text-anchor="middle" font-weight="normal" >4</text>
<text x="395.1" y="234.5" font-size="11.1" fill="#000" text-anchor="middle" font-weight="normal" >5</text>
<text x="406.4" y="234.5" font-size="11.1" fill="#000" text-anchor="middle" font-weight="normal" >6</text>
<text x="417.8" y="234.5" font-size="11.1" fill="#000" text-anchor="middle" font-weight="normal" >7</text>
<text x="378.0" y="246.5" font-size="11.1" fill="#000" text-anchor="middle" font-weight="normal" >Time from NEBD (min)</text>
<text transform="translate(313.5,173.0) rotate(-90)" font-size="11.1" fill="#000" text-anchor="middle" font-weight="normal">Pivoting angle (°)</text>
</g>
<g id="panel-d">
<text x="434.0" y="123.5" font-size="13.5" fill="#000" text-anchor="start" font-weight="bold" >d</text>
<rect x="460.90" y="112.00" width="79.80" height="11.30" fill="#fff" stroke="#8c8c8c" stroke-width="1" />
<text x="500.8" y="121.7" font-size="11.15" fill="#000" text-anchor="middle" font-weight="normal" >U2OS, live</text>
<rect x="460.90" y="125.40" width="79.80" height="98.80" fill="#fff" stroke="#8c8c8c" stroke-width="1" />
<polyline points="464.40,202.20 474.80,202.90 485.30,200.50 495.40,180.10 505.80,156.90 516.10,143.30 526.40,140.00 537.20,134.80" fill="none" stroke="#111" stroke-width="1.1" />
<circle cx="464.40" cy="202.20" r="1.90" fill="#fff" stroke="#333" stroke-width="0.8" />
<circle cx="474.80" cy="202.90" r="1.90" fill="#fff" stroke="#333" stroke-width="0.8" />
<circle cx="485.30" cy="200.50" r="1.90" fill="#fff" stroke="#333" stroke-width="0.8" />
<circle cx="495.40" cy="180.10" r="1.90" fill="#fff" stroke="#333" stroke-width="0.8" />
<circle cx="505.80" cy="156.90" r="1.90" fill="#fff" stroke="#333" stroke-width="0.8" />
<circle cx="516.10" cy="143.30" r="1.90" fill="#fff" stroke="#333" stroke-width="0.8" />
<circle cx="526.40" cy="140.00" r="1.90" fill="#fff" stroke="#333" stroke-width="0.8" />
<circle cx="537.20" cy="134.80" r="1.90" fill="#fff" stroke="#333" stroke-width="0.8" />
<line x1="460.90" y1="126.00" x2="462.90" y2="126.00" stroke="#8c8c8c" stroke-width="0.8" />
<text x="458.9" y="130.3" font-size="11.1" fill="#000" text-anchor="end" font-weight="normal" >13</text>
<line x1="460.90" y1="153.60" x2="462.90" y2="153.60" stroke="#8c8c8c" stroke-width="0.8" />
<text x="458.9" y="157.6" font-size="11.1" fill="#000" text-anchor="end" font-weight="normal" >12</text>
<line x1="460.90" y1="181.80" x2="462.90" y2="181.80" stroke="#8c8c8c" stroke-width="0.8" />
<text x="458.9" y="185.8" font-size="11.1" fill="#000" text-anchor="end" font-weight="normal" >11</text>
<line x1="460.90" y1="210.20" x2="462.90" y2="210.20" stroke="#8c8c8c" stroke-width="0.8" />
<text x="458.9" y="214.2" font-size="11.1" fill="#000" text-anchor="end" font-weight="normal" >10</text>
<line x1="460.90" y1="139.80" x2="462.10" y2="139.80" stroke="#8c8c8c" stroke-width="0.6" />
<line x1="460.90" y1="167.70" x2="462.10" y2="167.70" stroke="#8c8c8c" stroke-width="0.6" />
<line x1="460.90" y1="196.00" x2="462.10" y2="196.00" stroke="#8c8c8c" stroke-width="0.6" />
<text x="458.9" y="229.5" font-size="11.1" fill="#000" text-anchor="end" font-weight="normal" >0</text>
<rect x="459.40" y="214.50" width="3.00" height="6.00" fill="#fff" stroke="none" stroke-width="1" />
<line x1="457.40" y1="220.50" x2="463.90" y2="215.20" stroke="#222" stroke-width="0.9" /><line x1="457.40" y1="218.20" x2="463.90" y2="212.90" stroke="#222" stroke-width="0.9" />
<text x="464.4" y="235.5" font-size="11.1" fill="#000" text-anchor="middle" font-weight="normal" >0</text>
<text x="474.8" y="235.5" font-size="11.1" fill="#000" text-anchor="middle" font-weight="normal" >1</text>
<text x="485.3" y="235.5" font-size="11.1" fill="#000" text-anchor="middle" font-weight="normal" >2</text>
<text x="495.4" y="235.5" font-size="11.1" fill="#000" text-anchor="middle" font-weight="normal" >3</text>
<text x="505.8" y="235.5" font-size="11.1" fill="#000" text-anchor="middle" font-weight="normal" >4</text>
<text x="516.1" y="235.5" font-size="11.1" fill="#000" text-anchor="middle" font-weight="normal" >5</text>
<text x="526.4" y="235.5" font-size="11.1" fill="#000" text-anchor="middle" font-weight="normal" >6</text>
<text x="537.2" y="235.5" font-size="11.1" fill="#000" text-anchor="middle" font-weight="normal" >7</text>
<text x="500.5" y="246.5" font-size="11.1" fill="#000" text-anchor="middle" font-weight="normal" >Time from NEBD (min)</text>
<text transform="translate(440.5,175.0) rotate(-90)" font-size="11.1" fill="#000" text-anchor="middle" font-weight="normal">Spindle length (µm)</text>
</g>
<g id="panel-e">
<text x="550.8" y="123.5" font-size="13.5" fill="#000" text-anchor="start" font-weight="bold" >e</text>
<rect x="598.40" y="112.00" width="80.50" height="11.30" fill="#fff" stroke="#8c8c8c" stroke-width="1" />
<text x="638.6" y="121.7" font-size="11.15" fill="#000" text-anchor="middle" font-weight="normal" >U2OS, live</text>
<rect x="598.40" y="125.40" width="80.50" height="98.80" fill="#fff" stroke="#8c8c8c" stroke-width="1" />
<line x1="598.40" y1="224.20" x2="600.40" y2="224.20" stroke="#8c8c8c" stroke-width="0.8" />
<text x="596.4" y="228.2" font-size="11.1" fill="#000" text-anchor="end" font-weight="normal" >0</text>
<line x1="598.40" y1="199.60" x2="600.40" y2="199.60" stroke="#8c8c8c" stroke-width="0.8" />
<text x="596.4" y="203.6" font-size="11.1" fill="#000" text-anchor="end" font-weight="normal" >50</text>
<line x1="598.40" y1="175.00" x2="600.40" y2="175.00" stroke="#8c8c8c" stroke-width="0.8" />
<text x="596.4" y="179.0" font-size="11.1" fill="#000" text-anchor="end" font-weight="normal" >100</text>
<line x1="598.40" y1="150.40" x2="600.40" y2="150.40" stroke="#8c8c8c" stroke-width="0.8" />
<text x="596.4" y="154.4" font-size="11.1" fill="#000" text-anchor="end" font-weight="normal" >150</text>
<line x1="598.40" y1="125.80" x2="600.40" y2="125.80" stroke="#8c8c8c" stroke-width="0.8" />
<text x="596.4" y="130.1" font-size="11.1" fill="#000" text-anchor="end" font-weight="normal" >200</text>
<g fill="#35b4e6" stroke="#1a8fc4" stroke-width="0.4"><circle cx="614.7" cy="221.6" r="1.7"/><circle cx="616.8" cy="221.7" r="1.7"/><circle cx="618.9" cy="221.8" r="1.7"/><circle cx="621.0" cy="221.7" r="1.7"/><circle cx="623.1" cy="221.6" r="1.7"/><circle cx="607.4" cy="219.3" r="1.7"/><circle cx="609.4" cy="219.4" r="1.7"/><circle cx="611.5" cy="219.5" r="1.7"/><circle cx="613.6" cy="219.6" r="1.7"/><circle cx="615.8" cy="219.7" r="1.7"/><circle cx="617.9" cy="219.8" r="1.7"/><circle cx="619.9" cy="219.8" r="1.7"/><circle cx="622.0" cy="219.7" r="1.7"/><circle cx="624.1" cy="219.6" r="1.7"/><circle cx="626.2" cy="219.5" r="1.7"/><circle cx="628.4" cy="219.4" r="1.7"/><circle cx="630.4" cy="219.3" r="1.7"/><circle cx="602.1" cy="217.1" r="1.7"/><circle cx="604.2" cy="217.2" r="1.7"/><circle cx="606.3" cy="217.3" r="1.7"/><circle cx="608.4" cy="217.4" r="1.7"/><circle cx="610.5" cy="217.5" r="1.7"/><circle cx="612.6" cy="217.6" r="1.7"/><circle cx="614.7" cy="217.7" r="1.7"/><circle cx="616.8" cy="217.8" r="1.7"/><circle cx="618.9" cy="217.9" r="1.7"/><circle cx="621.0" cy="217.8" r="1.7"/><circle cx="623.1" cy="217.7" r="1.7"/><circle cx="625.2" cy="217.6" r="1.7"/><circle cx="627.3" cy="217.5" r="1.7"/><circle cx="629.4" cy="217.4" r="1.7"/><circle cx="631.5" cy="217.3" r="1.7"/><circle cx="633.6" cy="217.2" r="1.7"/><circle cx="635.7" cy="217.1" r="1.7"/><circle cx="604.2" cy="215.2" r="1.7"/><circle cx="606.3" cy="215.3" r="1.7"/><circle cx="608.4" cy="215.4" r="1.7"/><circle cx="610.5" cy="215.5" r="1.7"/><circle cx="612.6" cy="215.7" r="1.7"/><circle cx="614.7" cy="215.8" r="1.7"/><circle cx="616.8" cy="215.9" r="1.7"/><circle cx="618.9" cy="216.0" r="1.7"/><circle cx="621.0" cy="215.9" r="1.7"/><circle cx="623.1" cy="215.8" r="1.7"/><circle cx="625.2" cy="215.7" r="1.7"/><circle cx="627.3" cy="215.5" r="1.7"/><circle cx="629.4" cy="215.4" r="1.7"/><circle cx="631.5" cy="215.3" r="1.7"/><circle cx="633.6" cy="215.2" r="1.7"/><circle cx="606.3" cy="213.4" r="1.7"/><circle cx="608.4" cy="213.5" r="1.7"/><circle cx="610.5" cy="213.6" r="1.7"/><circle cx="612.6" cy="213.7" r="1.7"/><circle cx="614.7" cy="213.8" r="1.7"/><circle cx="616.8" cy="213.9" r="1.7"/><circle cx="618.9" cy="214.0" r="1.7"/><circle cx="621.0" cy="213.9" r="1.7"/><circle cx="623.1" cy="213.8" r="1.7"/><circle cx="625.2" cy="213.7" r="1.7"/><circle cx="627.3" cy="213.6" r="1.7"/><circle cx="629.4" cy="213.5" r="1.7"/><circle cx="631.5" cy="213.4" r="1.7"/><circle cx="608.4" cy="211.6" r="1.7"/><circle cx="610.5" cy="211.7" r="1.7"/><circle cx="612.6" cy="211.8" r="1.7"/><circle cx="614.7" cy="211.9" r="1.7"/><circle cx="616.8" cy="212.0" r="1.7"/><circle cx="618.9" cy="212.1" r="1.7"/><circle cx="621.0" cy="212.0" r="1.7"/><circle cx="623.1" cy="211.9" r="1.7"/><circle cx="625.2" cy="211.8" r="1.7"/><circle cx="627.3" cy="211.7" r="1.7"/><circle cx="629.4" cy="211.6" r="1.7"/><circle cx="609.4" cy="209.7" r="1.7"/><circle cx="611.5" cy="209.8" r="1.7"/><circle cx="613.6" cy="209.9" r="1.7"/><circle cx="615.8" cy="210.0" r="1.7"/><circle cx="617.9" cy="210.1" r="1.7"/><circle cx="619.9" cy="210.1" r="1.7"/><circle cx="622.0" cy="210.0" r="1.7"/><circle cx="624.1" cy="209.9" r="1.7"/><circle cx="626.2" cy="209.8" r="1.7"/><circle cx="628.4" cy="209.7" r="1.7"/><circle cx="611.5" cy="207.9" r="1.7"/><circle cx="613.6" cy="208.0" r="1.7"/><circle cx="615.8" cy="208.1" r="1.7"/><circle cx="617.9" cy="208.2" r="1.7"/><circle cx="619.9" cy="208.2" r="1.7"/><circle cx="622.0" cy="208.1" r="1.7"/><circle cx="624.1" cy="208.0" r="1.7"/><circle cx="626.2" cy="207.9" r="1.7"/><circle cx="613.6" cy="206.0" r="1.7"/><circle cx="615.8" cy="206.1" r="1.7"/><circle cx="617.9" cy="206.2" r="1.7"/><circle cx="619.9" cy="206.2" r="1.7"/><circle cx="622.0" cy="206.1" r="1.7"/><circle cx="624.1" cy="206.0" r="1.7"/><circle cx="615.8" cy="204.2" r="1.7"/><circle cx="617.9" cy="204.3" r="1.7"/><circle cx="619.9" cy="204.3" r="1.7"/><circle cx="622.0" cy="204.2" r="1.7"/><circle cx="616.8" cy="202.3" r="1.7"/><circle cx="618.9" cy="202.4" r="1.7"/><circle cx="621.0" cy="202.3" r="1.7"/><circle cx="618.9" cy="200.5" r="1.7"/><circle cx="618.9" cy="198.5" r="1.7"/></g>
<g fill="#e2151b" stroke="#b3161b" stroke-width="0.4"><circle cx="655.0" cy="134.4" r="1.75"/><circle cx="663.1" cy="133.9" r="1.75"/><circle cx="659.0" cy="141.5" r="1.75"/><circle cx="659.0" cy="148.4" r="1.75"/><circle cx="652.3" cy="150.3" r="1.75"/><circle cx="665.5" cy="150.0" r="1.75"/><circle cx="655.0" cy="154.5" r="1.75"/><circle cx="663.1" cy="153.5" r="1.75"/><circle cx="655.0" cy="165.3" r="1.75"/><circle cx="663.1" cy="164.5" r="1.75"/><circle cx="655.0" cy="169.8" r="1.75"/><circle cx="663.1" cy="171.0" r="1.75"/><circle cx="659.0" cy="173.4" r="1.75"/><circle cx="650.6" cy="175.3" r="1.75"/><circle cx="667.6" cy="173.9" r="1.75"/><circle cx="655.0" cy="176.9" r="1.75"/><circle cx="663.1" cy="176.6" r="1.75"/><circle cx="649.0" cy="180.2" r="1.75"/><circle cx="669.2" cy="179.8" r="1.75"/><circle cx="659.0" cy="180.6" r="1.75"/><circle cx="655.0" cy="183.9" r="1.75"/><circle cx="663.1" cy="183.9" r="1.75"/><circle cx="659.0" cy="187.6" r="1.75"/><circle cx="651.8" cy="189.8" r="1.75"/><circle cx="666.3" cy="189.8" r="1.75"/><circle cx="643.9" cy="209.4" r="1.75"/><circle cx="647.7" cy="208.9" r="1.75"/><circle cx="651.5" cy="207.6" r="1.75"/><circle cx="655.2" cy="208.4" r="1.75"/><circle cx="659.0" cy="210.0" r="1.75"/><circle cx="662.8" cy="208.4" r="1.75"/><circle cx="666.6" cy="207.6" r="1.75"/><circle cx="670.4" cy="208.9" r="1.75"/><circle cx="674.2" cy="209.4" r="1.75"/><circle cx="643.9" cy="204.8" r="1.75"/><circle cx="647.7" cy="204.4" r="1.75"/><circle cx="651.5" cy="203.1" r="1.75"/><circle cx="655.2" cy="203.9" r="1.75"/><circle cx="659.0" cy="205.5" r="1.75"/><circle cx="662.8" cy="203.9" r="1.75"/><circle cx="666.6" cy="203.1" r="1.75"/><circle cx="670.4" cy="204.4" r="1.75"/><circle cx="674.2" cy="204.8" r="1.75"/><circle cx="643.9" cy="200.3" r="1.75"/><circle cx="647.7" cy="199.8" r="1.75"/><circle cx="651.5" cy="198.5" r="1.75"/><circle cx="655.2" cy="199.4" r="1.75"/><circle cx="659.0" cy="201.0" r="1.75"/><circle cx="662.8" cy="199.4" r="1.75"/><circle cx="666.6" cy="198.5" r="1.75"/><circle cx="670.4" cy="199.8" r="1.75"/><circle cx="674.2" cy="200.3" r="1.75"/><circle cx="643.9" cy="195.8" r="1.75"/><circle cx="647.7" cy="195.3" r="1.75"/><circle cx="651.5" cy="194.0" r="1.75"/><circle cx="655.2" cy="194.8" r="1.75"/><circle cx="659.0" cy="196.5" r="1.75"/><circle cx="662.8" cy="194.8" r="1.75"/><circle cx="666.6" cy="194.0" r="1.75"/><circle cx="670.4" cy="195.3" r="1.75"/><circle cx="674.2" cy="195.8" r="1.75"/><circle cx="647.7" cy="191.8" r="1.75"/><circle cx="651.5" cy="190.5" r="1.75"/><circle cx="666.6" cy="190.5" r="1.75"/><circle cx="670.4" cy="191.8" r="1.75"/></g>
<rect x="612.40" y="209.40" width="12.80" height="8.30" fill="#d9d9d9" stroke="#b5b5b5" stroke-width="0.5" fill-opacity="0.75"/>
<line x1="612.40" y1="213.40" x2="625.20" y2="213.40" stroke="#555" stroke-width="1.3" />
<rect x="652.70" y="167.70" width="12.80" height="40.70" fill="#e3e3e3" stroke="#c5c5c5" stroke-width="0.5" fill-opacity="0.78"/>
<line x1="652.70" y1="187.60" x2="665.50" y2="187.60" stroke="#666" stroke-width="1.3" />
<polyline points="618.90,163.20 618.90,160.80 659.00,160.80 659.00,163.20" fill="none" stroke="#777" stroke-width="0.8" />
<text x="613.5" y="158.9" font-size="8.3" fill="#111">p = 6·10<tspan font-size="5" dy="-3">-20</tspan></text>
<text x="613.2" y="236.5" font-size="11.1" fill="#000" text-anchor="middle" font-weight="normal" >Aligned</text>
<text x="660.3" y="236.5" font-size="11.1" fill="#000" text-anchor="middle" font-weight="normal" >Unaligned</text>
<text transform="translate(562.6,172.0) rotate(-90)" font-size="11.1" fill="#000" text-anchor="middle" font-weight="normal">NEBD to</text>
<text transform="translate(574.4,175.0) rotate(-90)" font-size="11.1" fill="#000" text-anchor="middle" font-weight="normal">anaphase onset (min)</text>
</g>
<g id="panel-f">
<rect x="98.10" y="277.70" width="1.60" height="215.70" fill="#a0a0a0" stroke="none" stroke-width="1" />
<rect x="0.00" y="251.40" width="197.70" height="24.80" fill="#4d4d4d" stroke="none" stroke-width="1" />
<rect x="0.00" y="277.70" width="98.10" height="16.20" fill="#4d4d4d" stroke="none" stroke-width="1" />
<rect x="99.70" y="277.70" width="98.00" height="16.20" fill="#4d4d4d" stroke="none" stroke-width="1" />
<text x="6.3" y="267.2" font-size="13.5" fill="#fff" text-anchor="start" font-weight="bold" >f</text>
<text x="98.7" y="261.2" font-size="11.15" fill="#fff" text-anchor="middle" font-weight="normal" >OVSAHO live,</text>
<text x="99.6" y="272.8" font-size="11.15" fill="#fff" text-anchor="middle"><tspan fill="#27b5d8">SPY555-DNA</tspan> SiR-tubulin</text>
<text x="50.0" y="289.3" font-size="11.15" fill="#fff" text-anchor="middle" font-weight="normal" >Untreated</text>
<text x="148.7" y="289.3" font-size="11.15" fill="#fff" text-anchor="middle" font-weight="normal" >KIF4A siRNA</text>
<g clip-path="url(#cf0)"><rect x="0.00" y="295.10" width="98.10" height="98.20" fill="#030303" stroke="none" stroke-width="1" />
<ellipse cx="51" cy="347.5" rx="32" ry="29" fill="#116a86" opacity="0.85" filter="url(#b3)"/><ellipse cx="52" cy="326" rx="20" ry="5" fill="#9ab" opacity="0.45" filter="url(#b2)"/>
<g filter="url(#b15)"><circle cx="52.6" cy="366.1" r="3.1" fill="#38bce0" opacity="0.52"/><circle cx="45.8" cy="342.3" r="2.2" fill="#38bce0" opacity="0.63"/><circle cx="50.2" cy="359.6" r="4.5" fill="#38bce0" opacity="0.46"/><circle cx="61.3" cy="331.6" r="3.7" fill="#38bce0" opacity="0.32"/><circle cx="33.1" cy="328.8" r="3.4" fill="#38bce0" opacity="0.58"/><circle cx="47.5" cy="341.2" r="3.9" fill="#38bce0" opacity="0.52"/><circle cx="49.4" cy="351.3" r="4.2" fill="#38bce0" opacity="0.46"/><circle cx="45.7" cy="323.1" r="3.8" fill="#38bce0" opacity="0.66"/><circle cx="30.5" cy="361.3" r="3.2" fill="#38bce0" opacity="0.67"/><circle cx="57.6" cy="341.4" r="2.5" fill="#38bce0" opacity="0.35"/><circle cx="69.7" cy="343.3" r="3.6" fill="#38bce0" opacity="0.39"/><circle cx="33.0" cy="346.3" r="3.0" fill="#38bce0" opacity="0.51"/><circle cx="27.2" cy="334.5" r="3.8" fill="#38bce0" opacity="0.67"/><circle cx="68.9" cy="326.7" r="3.7" fill="#38bce0" opacity="0.32"/><circle cx="69.2" cy="327.4" r="4.3" fill="#38bce0" opacity="0.51"/><circle cx="48.0" cy="335.4" r="4.1" fill="#38bce0" opacity="0.51"/><circle cx="49.4" cy="353.4" r="4.2" fill="#38bce0" opacity="0.70"/><circle cx="73.0" cy="359.3" r="3.1" fill="#38bce0" opacity="0.32"/><circle cx="44.1" cy="368.9" r="4.2" fill="#38bce0" opacity="0.27"/><circle cx="46.4" cy="343.4" r="3.9" fill="#38bce0" opacity="0.40"/><circle cx="72.0" cy="329.5" r="3.4" fill="#38bce0" opacity="0.70"/><circle cx="48.1" cy="353.7" r="3.6" fill="#38bce0" opacity="0.26"/><circle cx="57.0" cy="362.7" r="3.6" fill="#38bce0" opacity="0.32"/><circle cx="77.1" cy="353.4" r="2.9" fill="#38bce0" opacity="0.68"/><circle cx="65.2" cy="337.3" r="3.3" fill="#38bce0" opacity="0.48"/><circle cx="37.2" cy="331.2" r="3.5" fill="#38bce0" opacity="0.53"/><circle cx="70.2" cy="340.3" r="3.2" fill="#38bce0" opacity="0.57"/><circle cx="52.2" cy="361.2" r="4.4" fill="#38bce0" opacity="0.48"/><circle cx="48.0" cy="346.2" r="3.2" fill="#38bce0" opacity="0.51"/><circle cx="73.6" cy="349.6" r="3.7" fill="#38bce0" opacity="0.28"/><circle cx="37.2" cy="334.3" r="3.8" fill="#38bce0" opacity="0.41"/><circle cx="44.3" cy="325.5" r="2.3" fill="#38bce0" opacity="0.28"/><circle cx="38.2" cy="324.2" r="2.8" fill="#38bce0" opacity="0.46"/><circle cx="37.3" cy="338.9" r="3.0" fill="#38bce0" opacity="0.39"/><circle cx="35.8" cy="361.7" r="2.9" fill="#38bce0" opacity="0.42"/><circle cx="51.7" cy="342.8" r="3.5" fill="#38bce0" opacity="0.58"/><circle cx="46.0" cy="358.4" r="4.0" fill="#38bce0" opacity="0.36"/><circle cx="58.3" cy="362.8" r="3.8" fill="#38bce0" opacity="0.30"/><circle cx="43.7" cy="360.5" r="4.1" fill="#38bce0" opacity="0.45"/><circle cx="58.3" cy="338.6" r="3.0" fill="#38bce0" opacity="0.54"/><circle cx="65.6" cy="335.4" r="2.7" fill="#38bce0" opacity="0.30"/><circle cx="38.6" cy="344.9" r="4.1" fill="#38bce0" opacity="0.63"/><circle cx="57.2" cy="359.5" r="4.1" fill="#38bce0" opacity="0.54"/><circle cx="56.9" cy="332.7" r="2.5" fill="#38bce0" opacity="0.38"/><circle cx="55.1" cy="334.0" r="3.0" fill="#38bce0" opacity="0.44"/><circle cx="34.8" cy="355.0" r="4.3" fill="#38bce0" opacity="0.32"/><circle cx="79.2" cy="347.7" r="4.2" fill="#38bce0" opacity="0.69"/><circle cx="25.1" cy="357.2" r="4.3" fill="#38bce0" opacity="0.35"/><circle cx="50.3" cy="323.2" r="3.7" fill="#38bce0" opacity="0.48"/><circle cx="46.9" cy="361.7" r="2.7" fill="#38bce0" opacity="0.28"/><circle cx="37.8" cy="339.6" r="4.1" fill="#38bce0" opacity="0.27"/><circle cx="70.9" cy="334.7" r="4.3" fill="#38bce0" opacity="0.65"/><circle cx="68.8" cy="335.4" r="2.2" fill="#38bce0" opacity="0.59"/><circle cx="58.5" cy="359.6" r="3.7" fill="#38bce0" opacity="0.49"/><circle cx="26.9" cy="360.0" r="3.6" fill="#38bce0" opacity="0.40"/><circle cx="50.6" cy="371.1" r="3.3" fill="#38bce0" opacity="0.60"/><circle cx="43.3" cy="356.3" r="3.4" fill="#38bce0" opacity="0.62"/><circle cx="63.2" cy="367.4" r="4.3" fill="#38bce0" opacity="0.61"/><circle cx="52.1" cy="345.0" r="3.6" fill="#38bce0" opacity="0.64"/><circle cx="65.4" cy="351.2" r="2.8" fill="#38bce0" opacity="0.49"/></g>
<circle cx="31.5" cy="326.5" r="9" fill="url(#wspot)"/><circle cx="71.5" cy="327" r="8" fill="url(#wspot)"/>
<rect x="0.00" y="295.10" width="98.10" height="98.20" fill="#000" stroke="none" stroke-width="1" filter="url(#nzT)" opacity="0.6"/>
<line x1="32.70" y1="318.00" x2="32.70" y2="370.00" stroke="#fff" stroke-width="0.9" stroke-dasharray="2.2 1.6"/><line x1="71.40" y1="318.00" x2="71.40" y2="370.00" stroke="#fff" stroke-width="0.9" stroke-dasharray="2.2 1.6"/>
<text x="96.0" y="304.7" font-size="10.5" fill="#fff" text-anchor="end" font-weight="normal" >0 min</text>
</g>
<g clip-path="url(#cf1)"><rect x="99.70" y="295.10" width="98.00" height="98.20" fill="#030303" stroke="none" stroke-width="1" />
<path d="M99,365 Q118,360 132,394 L99,394Z" fill="#0c4656" opacity="0.8" filter="url(#b2)"/>
<path d="M198,310 Q184,325 186,394 L198,394Z" fill="#0c4656" opacity="0.8" filter="url(#b2)"/>
<path d="M124,342 Q130,326 144,322 Q146,308 158,306 Q172,308 176,320 Q186,330 180,346 Q174,356 172,368 Q160,378 150,370 Q138,376 130,364 Q122,352 124,342Z" fill="#116a86" opacity="0.85" filter="url(#b3)"/>
<g filter="url(#b15)"><circle cx="138.6" cy="350.6" r="4.0" fill="#38bce0" opacity="0.25"/><circle cx="159.4" cy="345.2" r="2.5" fill="#38bce0" opacity="0.28"/><circle cx="172.1" cy="338.0" r="2.4" fill="#38bce0" opacity="0.48"/><circle cx="147.0" cy="355.9" r="3.0" fill="#38bce0" opacity="0.54"/><circle cx="140.7" cy="333.6" r="2.6" fill="#38bce0" opacity="0.40"/><circle cx="163.7" cy="356.1" r="3.8" fill="#38bce0" opacity="0.42"/><circle cx="160.1" cy="347.5" r="3.1" fill="#38bce0" opacity="0.52"/><circle cx="154.8" cy="325.7" r="4.0" fill="#38bce0" opacity="0.53"/><circle cx="139.8" cy="348.9" r="3.3" fill="#38bce0" opacity="0.57"/><circle cx="135.9" cy="352.8" r="3.3" fill="#38bce0" opacity="0.36"/><circle cx="134.1" cy="337.0" r="2.4" fill="#38bce0" opacity="0.44"/><circle cx="133.6" cy="353.4" r="4.4" fill="#38bce0" opacity="0.42"/><circle cx="167.7" cy="327.6" r="2.8" fill="#38bce0" opacity="0.46"/><circle cx="166.2" cy="359.0" r="3.7" fill="#38bce0" opacity="0.65"/><circle cx="156.7" cy="320.7" r="3.9" fill="#38bce0" opacity="0.50"/><circle cx="165.4" cy="354.5" r="2.2" fill="#38bce0" opacity="0.31"/><circle cx="152.7" cy="336.4" r="2.4" fill="#38bce0" opacity="0.29"/><circle cx="158.8" cy="334.2" r="2.3" fill="#38bce0" opacity="0.63"/><circle cx="166.6" cy="359.1" r="3.7" fill="#38bce0" opacity="0.63"/><circle cx="168.0" cy="335.9" r="4.0" fill="#38bce0" opacity="0.27"/><circle cx="153.7" cy="322.8" r="3.8" fill="#38bce0" opacity="0.30"/><circle cx="151.9" cy="315.9" r="2.3" fill="#38bce0" opacity="0.40"/><circle cx="133.6" cy="332.4" r="2.8" fill="#38bce0" opacity="0.33"/><circle cx="152.0" cy="363.2" r="3.9" fill="#38bce0" opacity="0.43"/><circle cx="142.7" cy="354.6" r="3.0" fill="#38bce0" opacity="0.44"/><circle cx="165.5" cy="351.5" r="4.4" fill="#38bce0" opacity="0.44"/><circle cx="151.9" cy="331.2" r="3.8" fill="#38bce0" opacity="0.59"/><circle cx="144.7" cy="324.8" r="3.3" fill="#38bce0" opacity="0.54"/><circle cx="158.8" cy="335.7" r="2.4" fill="#38bce0" opacity="0.59"/><circle cx="165.7" cy="332.3" r="3.2" fill="#38bce0" opacity="0.57"/><circle cx="156.4" cy="354.9" r="2.7" fill="#38bce0" opacity="0.51"/><circle cx="147.8" cy="353.9" r="3.8" fill="#38bce0" opacity="0.68"/><circle cx="146.7" cy="363.7" r="3.2" fill="#38bce0" opacity="0.63"/><circle cx="142.2" cy="334.9" r="2.7" fill="#38bce0" opacity="0.26"/><circle cx="138.5" cy="344.1" r="2.6" fill="#38bce0" opacity="0.41"/><circle cx="143.5" cy="363.4" r="2.5" fill="#38bce0" opacity="0.70"/><circle cx="135.1" cy="344.7" r="3.3" fill="#38bce0" opacity="0.63"/><circle cx="159.1" cy="323.9" r="3.3" fill="#38bce0" opacity="0.57"/><circle cx="160.6" cy="328.6" r="3.9" fill="#38bce0" opacity="0.68"/><circle cx="141.7" cy="344.6" r="2.7" fill="#38bce0" opacity="0.57"/><circle cx="142.3" cy="318.4" r="4.2" fill="#38bce0" opacity="0.36"/><circle cx="156.1" cy="354.8" r="2.6" fill="#38bce0" opacity="0.57"/><circle cx="165.2" cy="322.1" r="2.8" fill="#38bce0" opacity="0.64"/><circle cx="146.4" cy="358.2" r="3.9" fill="#38bce0" opacity="0.29"/><circle cx="168.8" cy="355.6" r="2.9" fill="#38bce0" opacity="0.41"/><circle cx="136.2" cy="331.3" r="2.2" fill="#38bce0" opacity="0.40"/><circle cx="137.9" cy="349.3" r="2.7" fill="#38bce0" opacity="0.51"/><circle cx="165.2" cy="337.3" r="3.5" fill="#38bce0" opacity="0.30"/><circle cx="149.2" cy="363.8" r="2.5" fill="#38bce0" opacity="0.65"/><circle cx="157.8" cy="337.4" r="4.4" fill="#38bce0" opacity="0.42"/><circle cx="154.7" cy="318.7" r="2.9" fill="#38bce0" opacity="0.55"/><circle cx="140.8" cy="322.0" r="2.8" fill="#38bce0" opacity="0.59"/><circle cx="169.5" cy="336.7" r="3.4" fill="#38bce0" opacity="0.30"/><circle cx="139.0" cy="342.6" r="3.9" fill="#38bce0" opacity="0.56"/><circle cx="143.4" cy="337.3" r="3.7" fill="#38bce0" opacity="0.53"/></g>
<ellipse cx="128" cy="342" rx="7" ry="5" fill="url(#wspot)" opacity="0.8"/><ellipse cx="167" cy="340" rx="9" ry="7" fill="url(#wspot)"/>
<path d="M150,318 L168,338" stroke="#dff" stroke-width="3" opacity="0.5" filter="url(#b15)"/>
<rect x="99.70" y="295.10" width="98.00" height="98.20" fill="#000" stroke="none" stroke-width="1" filter="url(#nzT)" opacity="0.6"/>
<line x1="128.80" y1="317.80" x2="128.80" y2="370.00" stroke="#fff" stroke-width="0.9" stroke-dasharray="2.2 1.6"/><line x1="168.00" y1="317.80" x2="168.00" y2="370.00" stroke="#fff" stroke-width="0.9" stroke-dasharray="2.2 1.6"/>
<text x="195.6" y="304.7" font-size="10.5" fill="#fff" text-anchor="end" font-weight="normal" >0 min</text>
</g>
<g clip-path="url(#cf2)"><rect x="0.00" y="394.90" width="98.10" height="98.50" fill="#030303" stroke="none" stroke-width="1" />
<path d="M84,394 Q92,430 99,476 L99,394Z" fill="#0c4656" opacity="0.7" filter="url(#b2)"/>
<path d="M24,442 Q30,422 52,416 Q72,418 79,438 Q82,454 72,466 Q68,486 54,486 Q42,472 30,464 Q20,454 24,442Z" fill="#116a86" opacity="0.85" filter="url(#b3)"/>
<g filter="url(#b15)"><circle cx="60.9" cy="468.0" r="3.7" fill="#38bce0" opacity="0.31"/><circle cx="59.5" cy="440.8" r="3.0" fill="#38bce0" opacity="0.57"/><circle cx="38.6" cy="433.4" r="3.7" fill="#38bce0" opacity="0.46"/><circle cx="48.5" cy="455.5" r="2.4" fill="#38bce0" opacity="0.57"/><circle cx="52.5" cy="425.1" r="3.9" fill="#38bce0" opacity="0.41"/><circle cx="50.6" cy="461.6" r="4.2" fill="#38bce0" opacity="0.27"/><circle cx="41.1" cy="444.6" r="4.0" fill="#38bce0" opacity="0.41"/><circle cx="45.0" cy="459.9" r="3.4" fill="#38bce0" opacity="0.60"/><circle cx="39.8" cy="464.8" r="2.5" fill="#38bce0" opacity="0.37"/><circle cx="58.0" cy="450.3" r="4.0" fill="#38bce0" opacity="0.58"/><circle cx="55.8" cy="455.8" r="3.2" fill="#38bce0" opacity="0.58"/><circle cx="59.6" cy="423.6" r="3.6" fill="#38bce0" opacity="0.32"/><circle cx="44.2" cy="452.1" r="3.4" fill="#38bce0" opacity="0.51"/><circle cx="55.3" cy="457.9" r="4.0" fill="#38bce0" opacity="0.26"/><circle cx="58.8" cy="420.9" r="4.4" fill="#38bce0" opacity="0.42"/><circle cx="36.1" cy="438.3" r="3.7" fill="#38bce0" opacity="0.69"/><circle cx="47.3" cy="431.4" r="4.2" fill="#38bce0" opacity="0.47"/><circle cx="36.9" cy="431.3" r="2.2" fill="#38bce0" opacity="0.60"/><circle cx="43.9" cy="428.9" r="3.4" fill="#38bce0" opacity="0.46"/><circle cx="57.6" cy="463.4" r="2.3" fill="#38bce0" opacity="0.48"/><circle cx="43.1" cy="430.7" r="3.5" fill="#38bce0" opacity="0.68"/><circle cx="58.3" cy="438.8" r="4.0" fill="#38bce0" opacity="0.53"/><circle cx="64.5" cy="450.1" r="2.7" fill="#38bce0" opacity="0.29"/><circle cx="31.4" cy="438.7" r="2.9" fill="#38bce0" opacity="0.64"/><circle cx="49.3" cy="435.7" r="4.2" fill="#38bce0" opacity="0.52"/><circle cx="68.7" cy="434.9" r="3.9" fill="#38bce0" opacity="0.40"/><circle cx="59.4" cy="420.6" r="4.2" fill="#38bce0" opacity="0.45"/><circle cx="52.7" cy="426.2" r="2.5" fill="#38bce0" opacity="0.27"/><circle cx="60.7" cy="450.7" r="2.6" fill="#38bce0" opacity="0.47"/><circle cx="46.9" cy="426.2" r="3.2" fill="#38bce0" opacity="0.54"/><circle cx="47.0" cy="462.3" r="3.9" fill="#38bce0" opacity="0.43"/><circle cx="60.8" cy="468.2" r="3.9" fill="#38bce0" opacity="0.42"/><circle cx="41.0" cy="459.2" r="3.6" fill="#38bce0" opacity="0.35"/><circle cx="62.1" cy="445.2" r="4.0" fill="#38bce0" opacity="0.31"/><circle cx="42.6" cy="448.0" r="2.7" fill="#38bce0" opacity="0.33"/><circle cx="44.6" cy="451.3" r="2.3" fill="#38bce0" opacity="0.30"/><circle cx="59.6" cy="461.5" r="2.3" fill="#38bce0" opacity="0.26"/><circle cx="38.7" cy="450.5" r="3.8" fill="#38bce0" opacity="0.27"/><circle cx="40.6" cy="454.7" r="2.3" fill="#38bce0" opacity="0.68"/><circle cx="53.3" cy="453.1" r="3.3" fill="#38bce0" opacity="0.32"/><circle cx="42.7" cy="433.9" r="2.5" fill="#38bce0" opacity="0.27"/><circle cx="50.4" cy="431.0" r="4.0" fill="#38bce0" opacity="0.46"/><circle cx="63.0" cy="438.9" r="2.8" fill="#38bce0" opacity="0.37"/><circle cx="58.9" cy="425.3" r="3.0" fill="#38bce0" opacity="0.29"/><circle cx="43.1" cy="420.8" r="3.6" fill="#38bce0" opacity="0.25"/><circle cx="58.5" cy="446.5" r="2.6" fill="#38bce0" opacity="0.27"/><circle cx="68.8" cy="452.3" r="4.3" fill="#38bce0" opacity="0.34"/><circle cx="67.0" cy="441.9" r="4.0" fill="#38bce0" opacity="0.66"/><circle cx="55.8" cy="443.2" r="2.9" fill="#38bce0" opacity="0.52"/><circle cx="58.2" cy="442.4" r="2.9" fill="#38bce0" opacity="0.63"/><circle cx="62.3" cy="456.1" r="3.0" fill="#38bce0" opacity="0.56"/><circle cx="60.3" cy="440.1" r="3.9" fill="#38bce0" opacity="0.58"/><circle cx="60.4" cy="427.8" r="4.3" fill="#38bce0" opacity="0.41"/><circle cx="42.9" cy="451.6" r="4.0" fill="#38bce0" opacity="0.47"/><circle cx="50.9" cy="456.0" r="3.9" fill="#38bce0" opacity="0.52"/></g>
<ellipse cx="25.5" cy="449" rx="8" ry="13" fill="url(#wspot)" opacity="0.95"/><ellipse cx="34" cy="446" rx="9" ry="9" fill="#bcd" opacity="0.35" filter="url(#b2)"/><ellipse cx="76" cy="446" rx="5" ry="8" fill="url(#wspot)" opacity="0.6"/>
<rect x="0.00" y="394.90" width="98.10" height="98.50" fill="#000" stroke="none" stroke-width="1" filter="url(#nzT)" opacity="0.6"/>
<line x1="25.40" y1="418.30" x2="25.40" y2="469.50" stroke="#fff" stroke-width="0.9" stroke-dasharray="2.2 1.6"/><line x1="76.60" y1="418.30" x2="76.60" y2="469.50" stroke="#fff" stroke-width="0.9" stroke-dasharray="2.2 1.6"/>
<line x1="25.40" y1="420.00" x2="25.40" y2="430.00" stroke="#fff" stroke-width="1.2" />
<polygon points="25.4,435.5 21.2,424.5 25.4,427.2 29.6,424.5" fill="#fff"/>
<text x="96.0" y="403.9" font-size="10.5" fill="#fff" text-anchor="end" font-weight="normal" >15 min</text>
</g>
<g clip-path="url(#cf3)"><rect x="99.70" y="394.90" width="98.00" height="98.50" fill="#030303" stroke="none" stroke-width="1" />
<path d="M99,395 L99,440 Q108,420 112,395Z" fill="#0c4656" opacity="0.7" filter="url(#b2)"/>
<path d="M160,494 Q175,478 198,474 L198,494Z" fill="#0c4656" opacity="0.75" filter="url(#b2)"/>
<path d="M122,440 Q134,416 150,408 Q168,414 176,440 Q176,462 160,478 Q142,482 128,464 Q120,452 122,440Z" fill="#116a86" opacity="0.85" filter="url(#b3)"/>
<g filter="url(#b15)"><circle cx="146.5" cy="428.1" r="3.3" fill="#38bce0" opacity="0.32"/><circle cx="149.1" cy="440.9" r="3.3" fill="#38bce0" opacity="0.59"/><circle cx="146.8" cy="437.2" r="2.7" fill="#38bce0" opacity="0.63"/><circle cx="136.5" cy="424.5" r="4.2" fill="#38bce0" opacity="0.45"/><circle cx="165.7" cy="430.5" r="3.0" fill="#38bce0" opacity="0.42"/><circle cx="163.1" cy="452.7" r="4.4" fill="#38bce0" opacity="0.30"/><circle cx="143.1" cy="441.1" r="2.4" fill="#38bce0" opacity="0.54"/><circle cx="150.3" cy="451.2" r="2.6" fill="#38bce0" opacity="0.54"/><circle cx="147.9" cy="443.5" r="2.7" fill="#38bce0" opacity="0.69"/><circle cx="153.2" cy="465.6" r="3.2" fill="#38bce0" opacity="0.60"/><circle cx="133.8" cy="429.8" r="3.4" fill="#38bce0" opacity="0.33"/><circle cx="152.8" cy="452.1" r="4.1" fill="#38bce0" opacity="0.30"/><circle cx="172.4" cy="449.1" r="2.7" fill="#38bce0" opacity="0.65"/><circle cx="163.5" cy="454.8" r="2.7" fill="#38bce0" opacity="0.62"/><circle cx="136.2" cy="430.1" r="4.0" fill="#38bce0" opacity="0.64"/><circle cx="139.9" cy="462.9" r="3.2" fill="#38bce0" opacity="0.30"/><circle cx="159.1" cy="426.4" r="4.1" fill="#38bce0" opacity="0.34"/><circle cx="134.8" cy="440.4" r="3.9" fill="#38bce0" opacity="0.28"/><circle cx="140.9" cy="461.0" r="2.4" fill="#38bce0" opacity="0.50"/><circle cx="148.6" cy="426.9" r="3.7" fill="#38bce0" opacity="0.52"/><circle cx="153.0" cy="461.2" r="4.5" fill="#38bce0" opacity="0.40"/><circle cx="143.9" cy="448.4" r="2.7" fill="#38bce0" opacity="0.32"/><circle cx="167.8" cy="435.0" r="4.2" fill="#38bce0" opacity="0.69"/><circle cx="133.1" cy="427.5" r="3.4" fill="#38bce0" opacity="0.44"/><circle cx="170.7" cy="436.5" r="4.4" fill="#38bce0" opacity="0.47"/><circle cx="152.2" cy="427.3" r="4.5" fill="#38bce0" opacity="0.66"/><circle cx="144.2" cy="471.1" r="2.6" fill="#38bce0" opacity="0.29"/><circle cx="147.8" cy="430.0" r="3.4" fill="#38bce0" opacity="0.54"/><circle cx="169.2" cy="451.1" r="2.8" fill="#38bce0" opacity="0.44"/><circle cx="138.9" cy="465.0" r="3.9" fill="#38bce0" opacity="0.38"/><circle cx="160.0" cy="454.3" r="3.1" fill="#38bce0" opacity="0.28"/><circle cx="161.5" cy="465.1" r="3.8" fill="#38bce0" opacity="0.69"/><circle cx="171.4" cy="441.7" r="3.1" fill="#38bce0" opacity="0.32"/><circle cx="144.1" cy="462.6" r="3.4" fill="#38bce0" opacity="0.49"/><circle cx="136.5" cy="465.0" r="2.9" fill="#38bce0" opacity="0.46"/><circle cx="165.7" cy="428.6" r="2.9" fill="#38bce0" opacity="0.36"/><circle cx="150.8" cy="442.4" r="2.5" fill="#38bce0" opacity="0.49"/><circle cx="140.9" cy="442.5" r="2.3" fill="#38bce0" opacity="0.34"/><circle cx="152.0" cy="426.0" r="4.5" fill="#38bce0" opacity="0.60"/><circle cx="154.3" cy="444.3" r="2.6" fill="#38bce0" opacity="0.26"/><circle cx="137.8" cy="451.7" r="2.3" fill="#38bce0" opacity="0.50"/><circle cx="160.7" cy="453.7" r="2.8" fill="#38bce0" opacity="0.61"/><circle cx="139.8" cy="452.0" r="2.3" fill="#38bce0" opacity="0.44"/><circle cx="136.8" cy="428.5" r="4.3" fill="#38bce0" opacity="0.61"/><circle cx="150.1" cy="455.3" r="3.9" fill="#38bce0" opacity="0.61"/><circle cx="129.1" cy="443.6" r="3.5" fill="#38bce0" opacity="0.38"/><circle cx="151.5" cy="448.2" r="3.7" fill="#38bce0" opacity="0.65"/><circle cx="163.1" cy="434.4" r="3.7" fill="#38bce0" opacity="0.67"/><circle cx="157.0" cy="425.0" r="3.2" fill="#38bce0" opacity="0.48"/><circle cx="154.7" cy="455.5" r="3.8" fill="#38bce0" opacity="0.70"/></g>
<path d="M112,447 Q130,432 150,433 Q172,432 186,445 Q172,462 150,462 Q126,462 112,447Z" fill="#e4f3f8" opacity="0.6" filter="url(#b2)"/>
<ellipse cx="120" cy="447" rx="9" ry="7" fill="#fff" opacity="0.9" filter="url(#b15)"/><ellipse cx="179" cy="446" rx="8" ry="6" fill="#fff" opacity="0.9" filter="url(#b15)"/>
<ellipse cx="150" cy="447" rx="12" ry="12" fill="#27b5d8" opacity="0.45" filter="url(#b2)"/>
<rect x="99.70" y="394.90" width="98.00" height="98.50" fill="#000" stroke="none" stroke-width="1" filter="url(#nzT)" opacity="0.4"/>
<line x1="114.00" y1="418.30" x2="114.00" y2="469.50" stroke="#fff" stroke-width="0.9" stroke-dasharray="2.2 1.6"/><line x1="184.90" y1="418.30" x2="184.90" y2="469.50" stroke="#fff" stroke-width="0.9" stroke-dasharray="2.2 1.6"/>
<rect x="187.00" y="487.90" width="8.30" height="3.00" fill="#fff" stroke="none" stroke-width="1" />
<text x="195.6" y="403.9" font-size="10.5" fill="#fff" text-anchor="end" font-weight="normal" >15 min</text>
</g>
</g>
<g id="panel-g">
<text x="207.7" y="262.6" font-size="13.5" fill="#000" text-anchor="start" font-weight="bold" >g</text>
<rect x="231.80" y="260.70" width="98.40" height="98.70" fill="#fff" stroke="#8c8c8c" stroke-width="1" />
<g clip-path="url(#cg0)">
<polygon points="231.8,315.4 242.4,311.2 253.0,307.1 263.5,303.2 274.1,300.2 284.7,296.0 295.3,290.7 303.7,291.1 316.4,286.1 324.9,283.0 330.2,283.8 330.2,288.8 324.9,288.1 316.4,291.1 303.7,296.1 295.3,295.7 284.7,301.0 274.1,305.2 263.5,308.3 253.0,312.1 242.4,316.3 231.8,320.5" fill="#e8383d" opacity="0.28"/>
<polyline points="231.80,317.95 242.38,313.76 252.96,309.57 263.54,305.76 274.12,302.71 284.70,298.52 295.28,293.18 303.75,293.56 316.45,288.61 324.91,285.56 330.20,286.33" fill="none" stroke="#e8383d" stroke-width="1.1" stroke-linejoin="round"/>
<polygon points="231.8,306.9 242.4,300.4 253.0,293.9 263.5,289.8 274.1,289.4 284.7,287.1 295.3,284.8 303.7,283.4 316.4,281.8 324.9,279.8 330.2,280.6 330.2,285.2 324.9,284.4 316.4,286.3 303.7,288.0 295.3,289.4 284.7,291.7 274.1,293.9 263.5,294.3 253.0,298.5 242.4,305.0 231.8,311.5" fill="#555" opacity="0.28"/>
<polyline points="231.80,309.19 242.38,302.71 252.96,296.23 263.54,292.04 274.12,291.66 284.70,289.37 295.28,287.09 303.75,285.72 316.45,284.04 324.91,282.13 330.20,282.90" fill="none" stroke="#555" stroke-width="1.1" stroke-linejoin="round"/>
<polygon points="231.8,301.0 242.4,293.9 253.0,287.9 263.5,284.0 274.1,282.5 284.7,279.8 295.3,276.4 303.7,275.3 316.4,274.9 324.9,272.8 330.2,273.4 330.2,277.9 324.9,277.4 316.4,279.5 303.7,279.8 295.3,281.0 284.7,284.4 274.1,287.1 263.5,288.6 253.0,292.4 242.4,298.5 231.8,305.6" fill="#1a9a94" opacity="0.28"/>
<polyline points="231.80,303.32 242.38,296.23 252.96,290.14 263.54,286.33 274.12,284.80 284.70,282.13 295.28,278.71 303.75,277.56 316.45,277.18 324.91,275.12 330.20,275.66" fill="none" stroke="#1a9a94" stroke-width="1.1" stroke-linejoin="round"/>
</g>
<line x1="231.80" y1="345.00" x2="233.80" y2="345.00" stroke="#8c8c8c" stroke-width="0.8" />
<text x="229.8" y="349.0" font-size="11.1" fill="#000" text-anchor="end" font-weight="normal" >4</text>
<line x1="231.80" y1="329.76" x2="233.80" y2="329.76" stroke="#8c8c8c" stroke-width="0.8" />
<text x="229.8" y="333.8" font-size="11.1" fill="#000" text-anchor="end" font-weight="normal" >6</text>
<line x1="231.80" y1="314.52" x2="233.80" y2="314.52" stroke="#8c8c8c" stroke-width="0.8" />
<text x="229.8" y="318.5" font-size="11.1" fill="#000" text-anchor="end" font-weight="normal" >8</text>
<line x1="231.80" y1="299.28" x2="233.80" y2="299.28" stroke="#8c8c8c" stroke-width="0.8" />
<text x="229.8" y="303.3" font-size="11.1" fill="#000" text-anchor="end" font-weight="normal" >10</text>
<line x1="231.80" y1="284.04" x2="233.80" y2="284.04" stroke="#8c8c8c" stroke-width="0.8" />
<text x="229.8" y="288.0" font-size="11.1" fill="#000" text-anchor="end" font-weight="normal" >12</text>
<line x1="231.80" y1="268.80" x2="233.80" y2="268.80" stroke="#8c8c8c" stroke-width="0.8" />
<text x="229.8" y="272.8" font-size="11.1" fill="#000" text-anchor="end" font-weight="normal" >14</text>
<line x1="231.80" y1="337.38" x2="233.00" y2="337.38" stroke="#8c8c8c" stroke-width="0.6" />
<line x1="231.80" y1="322.14" x2="233.00" y2="322.14" stroke="#8c8c8c" stroke-width="0.6" />
<line x1="231.80" y1="306.90" x2="233.00" y2="306.90" stroke="#8c8c8c" stroke-width="0.6" />
<line x1="231.80" y1="291.66" x2="233.00" y2="291.66" stroke="#8c8c8c" stroke-width="0.6" />
<line x1="231.80" y1="276.42" x2="233.00" y2="276.42" stroke="#8c8c8c" stroke-width="0.6" />
<text x="229.8" y="363.4" font-size="11.1" fill="#000" text-anchor="end" font-weight="normal" >0</text>
<line x1="230.00" y1="354.50" x2="233.30" y2="351.50" stroke="#222" stroke-width="0.9" />
<text x="233.5" y="270.0" font-size="9.9" fill="#000" text-anchor="start" font-weight="normal" >OVSAHO</text>
<text x="328.0" y="338.6" font-size="8.3" fill="#666" text-anchor="end" font-weight="normal" >Untreated</text>
<text x="328.0" y="347.5" font-size="8.3" fill="#1a9a94" text-anchor="end" font-weight="normal" >KIF4A siRNA</text>
<text x="328.0" y="356.2" font-size="8.3" fill="#e8383d" text-anchor="end" font-weight="normal" >15 µm monastrol</text>
<rect x="231.80" y="361.10" width="98.60" height="98.40" fill="#fff" stroke="#8c8c8c" stroke-width="1" />
<g clip-path="url(#cg1)">
<polygon points="231.8,427.2 238.4,428.0 244.9,426.1 251.5,425.3 258.1,424.9 264.7,421.5 271.2,418.4 277.8,415.0 284.4,411.6 291.0,407.0 297.5,404.3 304.1,401.3 310.7,398.2 317.3,394.0 323.8,390.6 330.4,389.0 330.4,401.3 323.8,402.8 317.3,407.0 310.7,411.9 304.1,415.8 297.5,419.6 291.0,423.0 284.4,427.6 277.8,430.3 271.2,433.0 264.7,435.2 258.1,438.7 251.5,439.8 244.9,441.4 238.4,444.8 231.8,442.5" fill="#d9363b" opacity="0.3"/>
<polygon points="231.8,422.3 238.4,423.0 244.9,418.8 251.5,413.5 258.1,410.8 264.7,406.2 271.2,403.9 277.8,400.9 284.4,399.0 291.0,397.8 297.5,395.9 304.1,394.4 310.7,392.5 317.3,390.6 323.8,388.3 330.4,386.4 330.4,398.6 323.8,401.3 317.3,404.3 310.7,407.0 304.1,409.7 297.5,411.2 291.0,413.9 284.4,415.8 277.8,418.4 271.2,420.7 264.7,422.3 258.1,426.1 251.5,427.2 244.9,431.0 238.4,433.7 231.8,431.4" fill="#f5a020" opacity="0.3"/>
<polygon points="231.8,418.1 238.4,416.5 244.9,410.0 251.5,402.8 258.1,397.4 264.7,394.4 271.2,392.1 277.8,389.8 284.4,388.3 291.0,386.7 297.5,386.0 304.1,384.4 310.7,383.3 317.3,383.3 323.8,383.7 330.4,383.7 330.4,388.3 323.8,388.3 317.3,387.9 310.7,387.9 304.1,389.0 297.5,390.6 291.0,391.3 284.4,392.8 277.8,394.4 271.2,396.7 264.7,399.0 258.1,402.0 251.5,407.4 244.9,414.6 238.4,421.1 231.8,422.6" fill="#555" opacity="0.28"/>
<polygon points="231.8,411.2 238.4,409.3 244.9,401.3 251.5,392.1 258.1,384.4 264.7,380.6 271.2,379.9 277.8,380.6 284.4,381.4 291.0,382.5 297.5,381.4 304.1,379.1 310.7,379.1 317.3,378.3 323.8,379.1 330.4,379.9 330.4,386.0 323.8,385.2 317.3,384.4 310.7,385.2 304.1,385.2 297.5,387.5 291.0,388.6 284.4,387.5 277.8,386.7 271.2,386.0 264.7,386.7 258.1,390.6 251.5,398.2 244.9,407.4 238.4,415.4 231.8,417.3" fill="#1a9a94" opacity="0.28"/>
<polyline points="231.80,434.87 238.37,436.40 244.95,433.72 251.52,432.58 258.09,431.81 264.67,428.37 271.24,425.70 277.81,422.64 284.39,419.59 290.96,415.00 297.53,411.95 304.11,408.51 310.68,405.07 317.25,400.49 323.83,396.67 330.40,395.14" fill="none" stroke="#c8282d" stroke-width="1.1" stroke-linejoin="round"/>
<polyline points="231.80,426.85 238.37,428.37 244.95,424.94 251.52,420.35 258.09,418.44 264.67,414.24 271.24,412.33 277.81,409.66 284.39,407.36 290.96,405.84 297.53,403.54 304.11,402.02 310.68,399.72 317.25,397.43 323.83,394.76 330.40,392.47" fill="none" stroke="#f5a020" stroke-width="1.1" stroke-linejoin="round"/>
<polyline points="231.80,420.35 238.37,418.82 244.95,412.33 251.52,405.07 258.09,399.72 264.67,396.67 271.24,394.38 277.81,392.08 284.39,390.56 290.96,389.03 297.53,388.26 304.11,386.74 310.68,385.59 317.25,385.59 323.83,385.97 330.40,385.97" fill="none" stroke="#555" stroke-width="1.1" stroke-linejoin="round"/>
<polyline points="231.80,414.24 238.37,412.33 244.95,404.31 251.52,395.14 258.09,387.50 264.67,383.68 271.24,382.92 277.81,383.68 284.39,384.44 290.96,385.59 297.53,384.44 304.11,382.15 310.68,382.15 317.25,381.39 323.83,382.15 330.40,382.92" fill="none" stroke="#1a9a94" stroke-width="1.1" stroke-linejoin="round"/>
</g>
<line x1="231.80" y1="444.80" x2="233.80" y2="444.80" stroke="#8c8c8c" stroke-width="0.8" />
<text x="229.8" y="448.8" font-size="11.1" fill="#000" text-anchor="end" font-weight="normal" >4</text>
<line x1="231.80" y1="429.52" x2="233.80" y2="429.52" stroke="#8c8c8c" stroke-width="0.8" />
<text x="229.8" y="433.5" font-size="11.1" fill="#000" text-anchor="end" font-weight="normal" >6</text>
<line x1="231.80" y1="414.24" x2="233.80" y2="414.24" stroke="#8c8c8c" stroke-width="0.8" />
<text x="229.8" y="418.2" font-size="11.1" fill="#000" text-anchor="end" font-weight="normal" >8</text>
<line x1="231.80" y1="398.96" x2="233.80" y2="398.96" stroke="#8c8c8c" stroke-width="0.8" />
<text x="229.8" y="403.0" font-size="11.1" fill="#000" text-anchor="end" font-weight="normal" >10</text>
<line x1="231.80" y1="383.68" x2="233.80" y2="383.68" stroke="#8c8c8c" stroke-width="0.8" />
<text x="229.8" y="387.7" font-size="11.1" fill="#000" text-anchor="end" font-weight="normal" >12</text>
<line x1="231.80" y1="368.40" x2="233.80" y2="368.40" stroke="#8c8c8c" stroke-width="0.8" />
<text x="229.8" y="372.4" font-size="11.1" fill="#000" text-anchor="end" font-weight="normal" >14</text>
<line x1="231.80" y1="437.16" x2="233.00" y2="437.16" stroke="#8c8c8c" stroke-width="0.6" />
<line x1="231.80" y1="421.88" x2="233.00" y2="421.88" stroke="#8c8c8c" stroke-width="0.6" />
<line x1="231.80" y1="406.60" x2="233.00" y2="406.60" stroke="#8c8c8c" stroke-width="0.6" />
<line x1="231.80" y1="391.32" x2="233.00" y2="391.32" stroke="#8c8c8c" stroke-width="0.6" />
<line x1="231.80" y1="376.04" x2="233.00" y2="376.04" stroke="#8c8c8c" stroke-width="0.6" />
<text x="229.8" y="464.5" font-size="11.1" fill="#000" text-anchor="end" font-weight="normal" >0</text>
<line x1="230.00" y1="454.60" x2="233.30" y2="451.60" stroke="#222" stroke-width="0.9" />
<text x="233.5" y="370.6" font-size="9.9" fill="#000" text-anchor="start" font-weight="normal" >MDA-MB-231</text>
<text x="328.0" y="428.4" font-size="8.3" fill="#666" text-anchor="end" font-weight="normal" >Untreated</text>
<text x="328.0" y="437.6" font-size="8.3" fill="#1a9a94" text-anchor="end" font-weight="normal" >KIF4A siRNA</text>
<text x="328.0" y="447.0" font-size="8.3" fill="#f5a020" text-anchor="end" font-weight="normal" >30 µm monastrol</text>
<text x="328.0" y="456.6" font-size="8.3" fill="#c8282d" text-anchor="end" font-weight="normal" >50 µm monastrol</text>
<text x="231.8" y="470.8" font-size="11.1" fill="#000" text-anchor="middle" font-weight="normal" >0</text>
<text x="264.7" y="470.8" font-size="11.1" fill="#000" text-anchor="middle" font-weight="normal" >5</text>
<text x="297.5" y="470.8" font-size="11.1" fill="#000" text-anchor="middle" font-weight="normal" >10</text>
<text x="330.4" y="470.8" font-size="11.1" fill="#000" text-anchor="middle" font-weight="normal" >15</text>
<text x="280.0" y="480.3" font-size="11.1" fill="#000" text-anchor="middle" font-weight="normal" >Time from NEBD (min)</text>
<text transform="translate(212.5,361.0) rotate(-90)" font-size="11.1" fill="#000" text-anchor="middle" font-weight="normal">Spindle length (µm), live</text>
</g>
<g id="panel-h">
<text x="341.0" y="263.3" font-size="13.5" fill="#000" text-anchor="start" font-weight="bold" >h</text>
<rect x="366.00" y="260.70" width="98.90" height="98.70" fill="#fff" stroke="#8c8c8c" stroke-width="1" />
<line x1="366.04" y1="296.91" x2="458.54" y2="353.43" stroke="#333" stroke-width="0.8" />
<circle cx="396.10" cy="324.22" r="1.55" fill="#e0e0e0" stroke="#787878" stroke-width="0.5" fill-opacity="0.9"/><circle cx="413.45" cy="330.36" r="1.55" fill="#e0e0e0" stroke="#787878" stroke-width="0.5" fill-opacity="0.9"/><circle cx="427.85" cy="321.68" r="1.55" fill="#e0e0e0" stroke="#787878" stroke-width="0.5" fill-opacity="0.9"/><circle cx="418.32" cy="327.61" r="1.55" fill="#e0e0e0" stroke="#787878" stroke-width="0.5" fill-opacity="0.9"/><circle cx="425.73" cy="327.61" r="1.55" fill="#e0e0e0" stroke="#787878" stroke-width="0.5" fill-opacity="0.9"/><circle cx="426.79" cy="330.36" r="1.55" fill="#e0e0e0" stroke="#787878" stroke-width="0.5" fill-opacity="0.9"/><circle cx="427.21" cy="333.75" r="1.55" fill="#e0e0e0" stroke="#787878" stroke-width="0.5" fill-opacity="0.9"/><circle cx="432.51" cy="333.75" r="1.55" fill="#e0e0e0" stroke="#787878" stroke-width="0.5" fill-opacity="0.9"/><circle cx="429.97" cy="348.78" r="1.55" fill="#e0e0e0" stroke="#787878" stroke-width="0.5" fill-opacity="0.9"/><circle cx="455.37" cy="348.78" r="1.55" fill="#e0e0e0" stroke="#787878" stroke-width="0.5" fill-opacity="0.9"/><circle cx="459.18" cy="348.78" r="1.55" fill="#e0e0e0" stroke="#787878" stroke-width="0.5" fill-opacity="0.9"/><circle cx="427.43" cy="351.95" r="1.55" fill="#e0e0e0" stroke="#787878" stroke-width="0.5" fill-opacity="0.9"/>
<circle cx="401.18" cy="272.78" r="1.55" fill="#f0a4a4" stroke="#c25a5a" stroke-width="0.5" fill-opacity="0.9"/><circle cx="388.05" cy="281.88" r="1.55" fill="#f0a4a4" stroke="#c25a5a" stroke-width="0.5" fill-opacity="0.9"/><circle cx="410.70" cy="284.85" r="1.55" fill="#f0a4a4" stroke="#c25a5a" stroke-width="0.5" fill-opacity="0.9"/><circle cx="367.52" cy="294.16" r="1.55" fill="#f0a4a4" stroke="#c25a5a" stroke-width="0.5" fill-opacity="0.9"/><circle cx="382.34" cy="312.15" r="1.55" fill="#f0a4a4" stroke="#c25a5a" stroke-width="0.5" fill-opacity="0.9"/><circle cx="393.56" cy="324.22" r="1.55" fill="#f0a4a4" stroke="#c25a5a" stroke-width="0.5" fill-opacity="0.9"/><circle cx="403.93" cy="330.36" r="1.55" fill="#f0a4a4" stroke="#c25a5a" stroke-width="0.5" fill-opacity="0.9"/><circle cx="429.12" cy="306.02" r="1.55" fill="#f0a4a4" stroke="#c25a5a" stroke-width="0.5" fill-opacity="0.9"/><circle cx="423.19" cy="309.40" r="1.55" fill="#f0a4a4" stroke="#c25a5a" stroke-width="0.5" fill-opacity="0.9"/><circle cx="424.67" cy="321.68" r="1.55" fill="#f0a4a4" stroke="#c25a5a" stroke-width="0.5" fill-opacity="0.9"/><circle cx="424.04" cy="324.43" r="1.55" fill="#f0a4a4" stroke="#c25a5a" stroke-width="0.5" fill-opacity="0.9"/><circle cx="434.20" cy="336.50" r="1.55" fill="#f0a4a4" stroke="#c25a5a" stroke-width="0.5" fill-opacity="0.9"/><circle cx="420.44" cy="348.78" r="1.55" fill="#f0a4a4" stroke="#c25a5a" stroke-width="0.5" fill-opacity="0.9"/><circle cx="424.25" cy="348.78" r="1.55" fill="#f0a4a4" stroke="#c25a5a" stroke-width="0.5" fill-opacity="0.9"/><circle cx="442.67" cy="351.95" r="1.55" fill="#f0a4a4" stroke="#c25a5a" stroke-width="0.5" fill-opacity="0.9"/><circle cx="413.45" cy="358.09" r="1.55" fill="#f0a4a4" stroke="#c25a5a" stroke-width="0.5" fill-opacity="0.9"/>
<circle cx="435.05" cy="266.64" r="1.55" fill="#4fb0aa" stroke="#1f8580" stroke-width="0.5" fill-opacity="0.9"/><circle cx="418.96" cy="312.15" r="1.55" fill="#4fb0aa" stroke="#1f8580" stroke-width="0.5" fill-opacity="0.9"/><circle cx="421.92" cy="318.08" r="1.55" fill="#4fb0aa" stroke="#1f8580" stroke-width="0.5" fill-opacity="0.9"/><circle cx="439.49" cy="315.54" r="1.55" fill="#4fb0aa" stroke="#1f8580" stroke-width="0.5" fill-opacity="0.9"/><circle cx="422.56" cy="333.75" r="1.55" fill="#4fb0aa" stroke="#1f8580" stroke-width="0.5" fill-opacity="0.9"/><circle cx="422.56" cy="336.50" r="1.55" fill="#4fb0aa" stroke="#1f8580" stroke-width="0.5" fill-opacity="0.9"/><circle cx="449.02" cy="333.75" r="1.55" fill="#4fb0aa" stroke="#1f8580" stroke-width="0.5" fill-opacity="0.9"/><circle cx="450.08" cy="336.50" r="1.55" fill="#4fb0aa" stroke="#1f8580" stroke-width="0.5" fill-opacity="0.9"/><circle cx="441.19" cy="339.67" r="1.55" fill="#4fb0aa" stroke="#1f8580" stroke-width="0.5" fill-opacity="0.9"/><circle cx="450.08" cy="339.67" r="1.55" fill="#4fb0aa" stroke="#1f8580" stroke-width="0.5" fill-opacity="0.9"/><circle cx="431.02" cy="342.85" r="1.55" fill="#4fb0aa" stroke="#1f8580" stroke-width="0.5" fill-opacity="0.9"/><circle cx="441.19" cy="342.85" r="1.55" fill="#4fb0aa" stroke="#1f8580" stroke-width="0.5" fill-opacity="0.9"/><circle cx="453.25" cy="342.85" r="1.55" fill="#4fb0aa" stroke="#1f8580" stroke-width="0.5" fill-opacity="0.9"/><circle cx="404.56" cy="346.02" r="1.55" fill="#4fb0aa" stroke="#1f8580" stroke-width="0.5" fill-opacity="0.9"/><circle cx="432.51" cy="346.02" r="1.55" fill="#4fb0aa" stroke="#1f8580" stroke-width="0.5" fill-opacity="0.9"/><circle cx="433.78" cy="348.78" r="1.55" fill="#4fb0aa" stroke="#1f8580" stroke-width="0.5" fill-opacity="0.9"/><circle cx="438.43" cy="348.78" r="1.55" fill="#4fb0aa" stroke="#1f8580" stroke-width="0.5" fill-opacity="0.9"/><circle cx="441.61" cy="348.78" r="1.55" fill="#4fb0aa" stroke="#1f8580" stroke-width="0.5" fill-opacity="0.9"/><circle cx="445.21" cy="348.78" r="1.55" fill="#4fb0aa" stroke="#1f8580" stroke-width="0.5" fill-opacity="0.9"/><circle cx="414.09" cy="351.95" r="1.55" fill="#4fb0aa" stroke="#1f8580" stroke-width="0.5" fill-opacity="0.9"/><circle cx="433.78" cy="351.95" r="1.55" fill="#4fb0aa" stroke="#1f8580" stroke-width="0.5" fill-opacity="0.9"/><circle cx="438.86" cy="351.95" r="1.55" fill="#4fb0aa" stroke="#1f8580" stroke-width="0.5" fill-opacity="0.9"/><circle cx="449.02" cy="351.95" r="1.55" fill="#4fb0aa" stroke="#1f8580" stroke-width="0.5" fill-opacity="0.9"/><circle cx="411.34" cy="358.09" r="1.55" fill="#4fb0aa" stroke="#1f8580" stroke-width="0.5" fill-opacity="0.9"/><circle cx="432.51" cy="358.09" r="1.55" fill="#4fb0aa" stroke="#1f8580" stroke-width="0.5" fill-opacity="0.9"/><circle cx="450.08" cy="358.09" r="1.55" fill="#4fb0aa" stroke="#1f8580" stroke-width="0.5" fill-opacity="0.9"/><circle cx="452.19" cy="358.09" r="1.55" fill="#4fb0aa" stroke="#1f8580" stroke-width="0.5" fill-opacity="0.9"/><circle cx="456.43" cy="358.09" r="1.55" fill="#4fb0aa" stroke="#1f8580" stroke-width="0.5" fill-opacity="0.9"/>
<line x1="411.28" y1="323.37" x2="420.28" y2="323.37" stroke="#e02020" stroke-width="0.7" /><line x1="415.78" y1="317.37" x2="415.78" y2="326.37" stroke="#e02020" stroke-width="0.7" stroke-dasharray="1.2 1"/>
<circle cx="415.78" cy="323.37" r="2.20" fill="#d01010" stroke="#900" stroke-width="0.5" />
<line x1="428.45" y1="339.67" x2="434.45" y2="339.67" stroke="#444" stroke-width="0.7" />
<circle cx="431.45" cy="339.67" r="2.20" fill="#555" stroke="#222" stroke-width="0.5" />
<line x1="431.62" y1="340.31" x2="437.62" y2="340.31" stroke="#15706c" stroke-width="0.7" />
<circle cx="434.62" cy="340.31" r="2.20" fill="#0f807a" stroke="#0a4f4c" stroke-width="0.5" />
<line x1="366.00" y1="266.60" x2="368.00" y2="266.60" stroke="#8c8c8c" stroke-width="0.8" />
<text x="364.0" y="270.6" font-size="11.1" fill="#000" text-anchor="end" font-weight="normal" >30</text>
<line x1="366.00" y1="297.30" x2="368.00" y2="297.30" stroke="#8c8c8c" stroke-width="0.8" />
<text x="364.0" y="301.3" font-size="11.1" fill="#000" text-anchor="end" font-weight="normal" >20</text>
<line x1="366.00" y1="328.00" x2="368.00" y2="328.00" stroke="#8c8c8c" stroke-width="0.8" />
<text x="364.0" y="332.0" font-size="11.1" fill="#000" text-anchor="end" font-weight="normal" >10</text>
<text x="364.0" y="362.9" font-size="11.1" fill="#000" text-anchor="end" font-weight="normal" >0</text>
<line x1="390.50" y1="359.40" x2="390.50" y2="357.90" stroke="#8c8c8c" stroke-width="0.6" />
<line x1="407.10" y1="359.40" x2="407.10" y2="357.90" stroke="#8c8c8c" stroke-width="0.6" />
<line x1="423.70" y1="359.40" x2="423.70" y2="357.90" stroke="#8c8c8c" stroke-width="0.6" />
<line x1="440.30" y1="359.40" x2="440.30" y2="357.90" stroke="#8c8c8c" stroke-width="0.6" />
<line x1="456.90" y1="359.40" x2="456.90" y2="357.90" stroke="#8c8c8c" stroke-width="0.6" />
<line x1="371.50" y1="360.90" x2="374.50" y2="357.90" stroke="#222" stroke-width="0.9" />
<text x="368.6" y="269.8" font-size="9.9" fill="#000" text-anchor="start" font-weight="normal" >OVSAHO</text>
<text x="463.2" y="276.8" font-size="8.3" fill="#777" text-anchor="end" font-weight="normal" >Untreated</text>
<text x="463.2" y="284.6" font-size="8.3" fill="#d01010" text-anchor="end" font-weight="normal" >Monastrol</text>
<text x="463.2" y="292.7" font-size="8.3" fill="#2a9d98" text-anchor="end" font-weight="normal" >siKIF4A</text>
<text x="368.2" y="347" font-size="8.3" fill="#222">R<tspan font-size="5" dy="-3">2</tspan><tspan dy="3">=0.28</tspan></text>
<text x="368.2" y="355.6" font-size="8.3" fill="#222">p=5·10<tspan font-size="5" dy="-3">-4</tspan></text>
<rect x="365.80" y="360.60" width="99.20" height="97.80" fill="#fff" stroke="#8c8c8c" stroke-width="1" />
<line x1="365.84" y1="415.88" x2="460.02" y2="448.08" stroke="#333" stroke-width="0.8" />
<circle cx="419.28" cy="388.29" r="1.55" fill="#e0e0e0" stroke="#787878" stroke-width="0.5" fill-opacity="0.9"/><circle cx="436.36" cy="415.23" r="1.55" fill="#e0e0e0" stroke="#787878" stroke-width="0.5" fill-opacity="0.9"/><circle cx="394.75" cy="433.41" r="1.55" fill="#e0e0e0" stroke="#787878" stroke-width="0.5" fill-opacity="0.9"/><circle cx="419.28" cy="433.41" r="1.55" fill="#e0e0e0" stroke="#787878" stroke-width="0.5" fill-opacity="0.9"/><circle cx="447.75" cy="430.56" r="1.55" fill="#e0e0e0" stroke="#787878" stroke-width="0.5" fill-opacity="0.9"/><circle cx="442.93" cy="436.69" r="1.55" fill="#e0e0e0" stroke="#787878" stroke-width="0.5" fill-opacity="0.9"/><circle cx="408.99" cy="439.76" r="1.55" fill="#e0e0e0" stroke="#787878" stroke-width="0.5" fill-opacity="0.9"/><circle cx="428.70" cy="439.76" r="1.55" fill="#e0e0e0" stroke="#787878" stroke-width="0.5" fill-opacity="0.9"/><circle cx="450.16" cy="439.76" r="1.55" fill="#e0e0e0" stroke="#787878" stroke-width="0.5" fill-opacity="0.9"/><circle cx="421.47" cy="448.74" r="1.55" fill="#e0e0e0" stroke="#787878" stroke-width="0.5" fill-opacity="0.9"/><circle cx="436.36" cy="448.74" r="1.55" fill="#e0e0e0" stroke="#787878" stroke-width="0.5" fill-opacity="0.9"/><circle cx="426.51" cy="445.89" r="1.55" fill="#e0e0e0" stroke="#787878" stroke-width="0.5" fill-opacity="0.9"/><circle cx="445.12" cy="445.89" r="1.55" fill="#e0e0e0" stroke="#787878" stroke-width="0.5" fill-opacity="0.9"/>
<circle cx="372.85" cy="403.18" r="1.55" fill="#f0a4a4" stroke="#c25a5a" stroke-width="0.5" fill-opacity="0.9"/><circle cx="369.13" cy="415.23" r="1.55" fill="#f0a4a4" stroke="#c25a5a" stroke-width="0.5" fill-opacity="0.9"/><circle cx="395.41" cy="418.51" r="1.55" fill="#f0a4a4" stroke="#c25a5a" stroke-width="0.5" fill-opacity="0.9"/><circle cx="401.32" cy="418.51" r="1.55" fill="#f0a4a4" stroke="#c25a5a" stroke-width="0.5" fill-opacity="0.9"/><circle cx="422.13" cy="421.36" r="1.55" fill="#f0a4a4" stroke="#c25a5a" stroke-width="0.5" fill-opacity="0.9"/><circle cx="416.00" cy="427.27" r="1.55" fill="#f0a4a4" stroke="#c25a5a" stroke-width="0.5" fill-opacity="0.9"/><circle cx="412.71" cy="442.60" r="1.55" fill="#f0a4a4" stroke="#c25a5a" stroke-width="0.5" fill-opacity="0.9"/><circle cx="422.79" cy="445.45" r="1.55" fill="#f0a4a4" stroke="#c25a5a" stroke-width="0.5" fill-opacity="0.9"/>
<circle cx="460.02" cy="418.51" r="1.55" fill="#4fb0aa" stroke="#1f8580" stroke-width="0.5" fill-opacity="0.9"/><circle cx="412.27" cy="436.69" r="1.55" fill="#4fb0aa" stroke="#1f8580" stroke-width="0.5" fill-opacity="0.9"/><circle cx="420.38" cy="442.60" r="1.55" fill="#4fb0aa" stroke="#1f8580" stroke-width="0.5" fill-opacity="0.9"/><circle cx="427.60" cy="442.60" r="1.55" fill="#4fb0aa" stroke="#1f8580" stroke-width="0.5" fill-opacity="0.9"/><circle cx="442.28" cy="442.60" r="1.55" fill="#4fb0aa" stroke="#1f8580" stroke-width="0.5" fill-opacity="0.9"/><circle cx="424.32" cy="445.45" r="1.55" fill="#4fb0aa" stroke="#1f8580" stroke-width="0.5" fill-opacity="0.9"/><circle cx="446.66" cy="445.45" r="1.55" fill="#4fb0aa" stroke="#1f8580" stroke-width="0.5" fill-opacity="0.9"/><circle cx="450.60" cy="445.45" r="1.55" fill="#4fb0aa" stroke="#1f8580" stroke-width="0.5" fill-opacity="0.9"/><circle cx="429.36" cy="448.74" r="1.55" fill="#4fb0aa" stroke="#1f8580" stroke-width="0.5" fill-opacity="0.9"/><circle cx="444.69" cy="448.74" r="1.55" fill="#4fb0aa" stroke="#1f8580" stroke-width="0.5" fill-opacity="0.9"/><circle cx="438.55" cy="455.09" r="1.55" fill="#4fb0aa" stroke="#1f8580" stroke-width="0.5" fill-opacity="0.9"/><circle cx="446.66" cy="455.09" r="1.55" fill="#4fb0aa" stroke="#1f8580" stroke-width="0.5" fill-opacity="0.9"/>
<line x1="394.04" y1="424.43" x2="409.04" y2="424.43" stroke="#e02020" stroke-width="0.7" /><line x1="401.54" y1="419.43" x2="401.54" y2="429.43" stroke="#e02020" stroke-width="0.7" />
<circle cx="401.54" cy="424.43" r="2.30" fill="#c01010" stroke="#800" stroke-width="0.5" />
<line x1="421.63" y1="435.60" x2="429.63" y2="435.60" stroke="#444" stroke-width="0.7" />
<polygon points="422.8,435.6 425.6,432.8 428.4,435.6 425.6,438.4" fill="#555" stroke="#333" stroke-width="0.4"/>
<line x1="434.12" y1="444.36" x2="442.12" y2="444.36" stroke="#15706c" stroke-width="0.7" />
<circle cx="438.12" cy="444.36" r="2.20" fill="#0f807a" stroke="#0a4f4c" stroke-width="0.5" />
<line x1="365.80" y1="366.40" x2="367.80" y2="366.40" stroke="#8c8c8c" stroke-width="0.8" />
<text x="363.8" y="370.4" font-size="11.1" fill="#000" text-anchor="end" font-weight="normal" >30</text>
<line x1="365.80" y1="397.00" x2="367.80" y2="397.00" stroke="#8c8c8c" stroke-width="0.8" />
<text x="363.8" y="401.0" font-size="11.1" fill="#000" text-anchor="end" font-weight="normal" >20</text>
<line x1="365.80" y1="427.30" x2="367.80" y2="427.30" stroke="#8c8c8c" stroke-width="0.8" />
<text x="363.8" y="431.3" font-size="11.1" fill="#000" text-anchor="end" font-weight="normal" >10</text>
<text x="363.8" y="463.4" font-size="11.1" fill="#000" text-anchor="end" font-weight="normal" >0</text>
<line x1="371.50" y1="459.90" x2="374.50" y2="456.90" stroke="#222" stroke-width="0.9" />
<text x="366.3" y="470.8" font-size="11.1" fill="#000" text-anchor="middle" font-weight="normal" >0</text>
<text x="381.6" y="470.8" font-size="11.1" fill="#000" text-anchor="middle" font-weight="normal" >5</text>
<text x="424.4" y="470.8" font-size="11.1" fill="#000" text-anchor="middle" font-weight="normal" >10</text>
<text x="464.5" y="470.8" font-size="11.1" fill="#000" text-anchor="middle" font-weight="normal" >15</text>
<line x1="390.50" y1="458.40" x2="390.50" y2="456.90" stroke="#8c8c8c" stroke-width="0.6" />
<line x1="407.10" y1="458.40" x2="407.10" y2="456.90" stroke="#8c8c8c" stroke-width="0.6" />
<line x1="423.70" y1="458.40" x2="423.70" y2="456.90" stroke="#8c8c8c" stroke-width="0.6" />
<line x1="440.30" y1="458.40" x2="440.30" y2="456.90" stroke="#8c8c8c" stroke-width="0.6" />
<line x1="456.90" y1="458.40" x2="456.90" y2="456.90" stroke="#8c8c8c" stroke-width="0.6" />
<text x="368.5" y="370.8" font-size="9.9" fill="#000" text-anchor="start" font-weight="normal" >MDA-MB-231</text>
<text x="463.0" y="370.8" font-size="8.3" fill="#777" text-anchor="end" font-weight="normal" >Untreated</text>
<text x="463.0" y="378.2" font-size="8.3" fill="#d01010" text-anchor="end" font-weight="normal" >Monastrol</text>
<text x="463.0" y="385.8" font-size="8.3" fill="#2a9d98" text-anchor="end" font-weight="normal" >siKIF4A</text>
<text x="368.2" y="446.6" font-size="8.3" fill="#222">R<tspan font-size="5" dy="-3">2</tspan><tspan dy="3">=0.23</tspan></text>
<text x="368.2" y="455.4" font-size="8.3" fill="#222" text-anchor="start" font-weight="normal" >p=0.0021</text>
<text x="414.5" y="481.2" font-size="11.1" fill="#000" text-anchor="middle" font-weight="normal" >Spindle length</text>
<text x="414.5" y="492.2" font-size="11.1" fill="#000" text-anchor="middle" font-weight="normal" >at 5 min (µm)</text>
<text transform="translate(349.0,361.0) rotate(-90)" font-size="11.1" fill="#000" text-anchor="middle" font-weight="normal">Polar transit time (min), live</text>
</g>
<g id="panel-i">
<rect x="98.10" y="530.50" width="1.60" height="102.80" fill="#a0a0a0" stroke="none" stroke-width="1" />
<rect x="0.00" y="502.90" width="197.70" height="26.00" fill="#4d4d4d" stroke="none" stroke-width="1" />
<rect x="0.00" y="530.50" width="98.10" height="14.80" fill="#4d4d4d" stroke="none" stroke-width="1" />
<rect x="99.70" y="530.50" width="98.00" height="14.80" fill="#4d4d4d" stroke="none" stroke-width="1" />
<text x="6.0" y="519.7" font-size="13.5" fill="#fff" text-anchor="start" font-weight="bold" >i</text>
<text x="97.5" y="514.5" font-size="11.15" fill="#fff" text-anchor="middle" font-weight="normal" >OVSAHO fixed,</text>
<text x="97.5" y="526" font-size="11.15" fill="#fff" text-anchor="middle">anti-tubulin <tspan fill="#f29a2e">anti-CREST</tspan> <tspan fill="#27b5d8">DAPI</tspan></text>
<text x="50.0" y="541.5" font-size="11.15" fill="#fff" text-anchor="middle" font-weight="normal" >Untreated</text>
<text x="148.7" y="541.5" font-size="11.15" fill="#fff" text-anchor="middle" font-weight="normal" >KIF4A siRNA</text>
<g clip-path="url(#ci0)"><rect x="0.00" y="547.30" width="98.10" height="86.00" fill="#040404" stroke="none" stroke-width="1" />
<path d="M-4,603 Q18,604 31,638 L-4,638Z" fill="#7fa6b5" opacity="0.85" filter="url(#b15)"/>
<path d="M0,612 L22,634" stroke="#dfe9ee" stroke-width="2" opacity="0.6" filter="url(#b1)"/>
<g fill="#9a9a9a" filter="url(#b1)" opacity="0.75"><ellipse cx="81" cy="551" rx="4" ry="2.5"/><ellipse cx="94" cy="565" rx="2.5" ry="4"/><ellipse cx="92.5" cy="598" rx="4" ry="3"/><ellipse cx="56" cy="623" rx="2.5" ry="3.5"/><ellipse cx="90" cy="630" rx="6" ry="3"/><ellipse cx="72" cy="560" rx="2" ry="1.5"/></g>
<ellipse cx="24" cy="588" rx="6" ry="9" fill="#0f6f8c" opacity="0.6" filter="url(#b2)"/>
<ellipse cx="7" cy="588" rx="6" ry="9" fill="#0f6f8c" opacity="0.5" filter="url(#b2)"/>
<ellipse cx="47" cy="612" rx="8" ry="9" fill="#0f6f8c" opacity="0.7" filter="url(#b3)"/>
<ellipse cx="76" cy="600" rx="7" ry="10" fill="#0f6f8c" opacity="0.45" filter="url(#b3)"/>
<path d="M29,588 Q40,574 58,567 Q76,574 88,587 Q74,600 56,609 Q40,602 29,588Z" fill="#a8a8a8" opacity="0.85" filter="url(#b15)"/>
<g stroke="#e8e8e8" stroke-width="0.9" fill="none" opacity="0.35" filter="url(#b06)"><path d="M30,588 Q55,570 86,587"/><path d="M30,588 Q55,582 86,587"/><path d="M30,589 Q55,596 86,588"/><path d="M30,589 Q56,608 86,588"/></g>
<ellipse cx="57" cy="585" rx="13" ry="27" fill="#2aa6cc" opacity="0.8" filter="url(#b3)" transform="rotate(-10 57 585)"/>
<ellipse cx="62" cy="560" rx="8" ry="8" fill="#1d8fb3" opacity="0.7" filter="url(#b2)"/>
<ellipse cx="61" cy="586" rx="11" ry="17" fill="#9fe2f2" opacity="0.5" filter="url(#b2)"/>
<g filter="url(#b08)"><circle cx="56.5" cy="605.2" r="2.0" fill="#f6de5c" opacity="0.94"/><circle cx="59.1" cy="596.7" r="1.4" fill="#f6de5c" opacity="0.69"/><circle cx="56.6" cy="579.1" r="1.8" fill="#f6de5c" opacity="0.69"/><circle cx="55.0" cy="600.9" r="2.1" fill="#f6de5c" opacity="0.84"/><circle cx="62.8" cy="588.0" r="1.4" fill="#f6de5c" opacity="0.95"/><circle cx="60.6" cy="568.6" r="2.1" fill="#f6de5c" opacity="0.90"/><circle cx="66.3" cy="580.9" r="1.5" fill="#f6de5c" opacity="0.94"/><circle cx="47.5" cy="588.6" r="1.8" fill="#f6de5c" opacity="0.77"/><circle cx="52.3" cy="597.9" r="1.5" fill="#f6de5c" opacity="0.65"/><circle cx="61.2" cy="569.2" r="2.3" fill="#f6de5c" opacity="0.88"/><circle cx="48.0" cy="580.6" r="1.3" fill="#f6de5c" opacity="0.87"/><circle cx="52.7" cy="590.2" r="1.4" fill="#f6de5c" opacity="0.81"/><circle cx="56.8" cy="601.9" r="1.9" fill="#f6de5c" opacity="0.76"/><circle cx="62.2" cy="598.3" r="1.5" fill="#f6de5c" opacity="0.69"/><circle cx="59.3" cy="599.5" r="1.3" fill="#f6de5c" opacity="0.86"/><circle cx="63.6" cy="583.1" r="2.0" fill="#f6de5c" opacity="0.97"/><circle cx="61.0" cy="589.2" r="2.1" fill="#f6de5c" opacity="0.94"/><circle cx="54.2" cy="580.3" r="1.7" fill="#f6de5c" opacity="0.95"/><circle cx="64.4" cy="574.1" r="1.4" fill="#f6de5c" opacity="0.94"/><circle cx="50.4" cy="600.2" r="1.4" fill="#f6de5c" opacity="0.99"/><circle cx="49.6" cy="575.7" r="1.4" fill="#f6de5c" opacity="0.85"/><circle cx="49.6" cy="578.8" r="1.6" fill="#f6de5c" opacity="0.89"/><circle cx="53.8" cy="597.0" r="1.4" fill="#f6de5c" opacity="0.87"/><circle cx="61.0" cy="593.8" r="1.3" fill="#f6de5c" opacity="0.86"/><circle cx="49.4" cy="581.4" r="1.2" fill="#f6de5c" opacity="0.78"/><circle cx="55.2" cy="592.6" r="1.2" fill="#f6de5c" opacity="1.00"/><circle cx="61.4" cy="595.4" r="1.5" fill="#f6de5c" opacity="0.84"/><circle cx="63.7" cy="594.1" r="1.6" fill="#f6de5c" opacity="0.93"/><circle cx="63.4" cy="587.5" r="1.7" fill="#f6de5c" opacity="0.99"/><circle cx="49.5" cy="585.4" r="1.9" fill="#f6de5c" opacity="0.72"/><circle cx="64.6" cy="590.1" r="2.2" fill="#f6de5c" opacity="0.90"/><circle cx="56.5" cy="605.2" r="2.1" fill="#f6de5c" opacity="0.70"/><circle cx="51.4" cy="580.1" r="1.5" fill="#f6de5c" opacity="0.71"/><circle cx="58.9" cy="599.5" r="1.2" fill="#f6de5c" opacity="0.76"/><circle cx="65.2" cy="596.9" r="1.9" fill="#f6de5c" opacity="0.60"/><circle cx="57.7" cy="577.5" r="1.7" fill="#f6de5c" opacity="0.82"/><circle cx="54.1" cy="597.3" r="1.7" fill="#f6de5c" opacity="0.65"/><circle cx="59.4" cy="581.4" r="2.1" fill="#f6de5c" opacity="0.69"/><circle cx="54.7" cy="599.9" r="1.2" fill="#f6de5c" opacity="0.65"/><circle cx="52.3" cy="598.2" r="2.2" fill="#f6de5c" opacity="1.00"/><circle cx="64.7" cy="591.4" r="1.3" fill="#f6de5c" opacity="0.92"/><circle cx="52.4" cy="605.7" r="1.8" fill="#f6de5c" opacity="0.65"/><circle cx="62.5" cy="587.3" r="2.2" fill="#f6de5c" opacity="0.66"/><circle cx="50.4" cy="588.8" r="1.6" fill="#f6de5c" opacity="0.92"/><circle cx="59.1" cy="605.2" r="1.9" fill="#f6de5c" opacity="0.97"/><circle cx="46.5" cy="584.4" r="1.7" fill="#f6de5c" opacity="0.83"/><circle cx="49.7" cy="573.1" r="2.2" fill="#f6de5c" opacity="0.65"/><circle cx="62.2" cy="599.2" r="2.1" fill="#f6de5c" opacity="0.81"/><circle cx="53.7" cy="607.5" r="1.5" fill="#f6de5c" opacity="0.63"/><circle cx="58.8" cy="588.2" r="2.0" fill="#f6de5c" opacity="0.64"/><circle cx="54.8" cy="568.0" r="1.8" fill="#f2ac38" opacity="0.87"/><circle cx="49.3" cy="595.9" r="1.7" fill="#f2ac38" opacity="0.84"/><circle cx="54.6" cy="606.6" r="1.1" fill="#f2ac38" opacity="0.67"/><circle cx="64.5" cy="587.6" r="1.2" fill="#f2ac38" opacity="0.86"/><circle cx="56.4" cy="588.4" r="1.0" fill="#f2ac38" opacity="0.65"/><circle cx="51.8" cy="606.5" r="1.2" fill="#f2ac38" opacity="0.89"/><circle cx="61.3" cy="576.7" r="1.8" fill="#f2ac38" opacity="0.85"/><circle cx="51.4" cy="589.1" r="1.4" fill="#f2ac38" opacity="0.91"/><circle cx="52.3" cy="585.8" r="1.3" fill="#f2ac38" opacity="0.74"/><circle cx="60.0" cy="603.5" r="1.0" fill="#f2ac38" opacity="0.88"/><circle cx="58.5" cy="594.4" r="1.5" fill="#f2ac38" opacity="0.67"/><circle cx="62.8" cy="577.8" r="1.4" fill="#f2ac38" opacity="0.88"/><circle cx="59.1" cy="606.5" r="1.5" fill="#f2ac38" opacity="0.72"/><circle cx="58.6" cy="587.2" r="1.7" fill="#f2ac38" opacity="0.61"/><circle cx="59.3" cy="580.7" r="1.0" fill="#f2ac38" opacity="0.75"/><circle cx="62.0" cy="583.0" r="1.4" fill="#f2ac38" opacity="0.79"/></g>
<g filter="url(#b06)"><circle cx="7" cy="586.5" r="1.6" fill="#f29a2e"/><circle cx="9.5" cy="589" r="1" fill="#f29a2e"/><circle cx="23.5" cy="586.5" r="1.2" fill="#f29a2e" opacity="0.8"/></g>
<rect x="0.00" y="547.30" width="98.10" height="86.00" fill="#000" stroke="none" stroke-width="1" filter="url(#nzT)" opacity="0.3"/>
<polygon points="12.6,565 16.9,567.8 21.1,565 16.9,576" fill="#fff"/>
</g>
<g clip-path="url(#ci1)"><rect x="99.70" y="547.30" width="98.00" height="86.00" fill="#030303" stroke="none" stroke-width="1" />
<path d="M100,548 L112,548 L108,556 L100,558Z" fill="#0f6f8c" opacity="0.6" filter="url(#b15)"/>
<path d="M104,582 Q128,568 150,568 Q174,568 190,579 Q188,598 172,606 Q150,616 128,608 Q110,600 104,582Z" fill="#8a8a8a" opacity="0.6" filter="url(#b3)"/>
<path d="M104.5,581 Q107,594 117,601 Q124,606 132,608" stroke="#fff" stroke-width="3.2" fill="none" opacity="0.95" filter="url(#b1)" stroke-linecap="round"/>
<path d="M189.5,579.5 Q191,590 182,598 Q177,603 171,605" stroke="#fff" stroke-width="3.2" fill="none" opacity="0.95" filter="url(#b1)" stroke-linecap="round"/>
<circle cx="189" cy="580.5" r="3" fill="#fff" filter="url(#b1)"/>
<g stroke="#e0e0e0" stroke-width="0.9" fill="none" opacity="0.3" filter="url(#b06)"><path d="M105,582 Q128,574 148,574"/><path d="M108,588 Q130,586 150,588"/><path d="M188,582 Q170,574 152,574"/><path d="M186,590 Q170,590 152,592"/></g>
<ellipse cx="149" cy="590" rx="20" ry="30" fill="#2aa6cc" opacity="0.85" filter="url(#b3)"/>
<ellipse cx="140" cy="563" rx="11" ry="9" fill="#1d8fb3" opacity="0.7" filter="url(#b3)"/>
<ellipse cx="152" cy="616" rx="12" ry="8" fill="#1d8fb3" opacity="0.6" filter="url(#b3)"/>
<ellipse cx="148" cy="588" rx="11" ry="20" fill="#7fd8ee" opacity="0.4" filter="url(#b2)"/>
<g filter="url(#b08)"><circle cx="147.4" cy="606.2" r="1.2" fill="#f6de5c" opacity="0.78"/><circle cx="147.5" cy="573.5" r="1.4" fill="#f6de5c" opacity="0.62"/><circle cx="144.2" cy="572.4" r="2.2" fill="#f6de5c" opacity="0.90"/><circle cx="157.8" cy="602.1" r="2.2" fill="#f6de5c" opacity="0.93"/><circle cx="152.6" cy="570.0" r="2.0" fill="#f6de5c" opacity="0.87"/><circle cx="141.0" cy="581.2" r="1.3" fill="#f6de5c" opacity="0.89"/><circle cx="144.3" cy="584.6" r="1.9" fill="#f6de5c" opacity="0.84"/><circle cx="134.7" cy="586.4" r="2.2" fill="#f6de5c" opacity="0.75"/><circle cx="150.9" cy="571.8" r="1.8" fill="#f6de5c" opacity="0.77"/><circle cx="155.5" cy="581.2" r="2.2" fill="#f6de5c" opacity="0.74"/><circle cx="140.7" cy="566.9" r="2.0" fill="#f6de5c" opacity="0.75"/><circle cx="155.6" cy="596.1" r="1.7" fill="#f6de5c" opacity="0.93"/><circle cx="150.0" cy="563.7" r="1.7" fill="#f6de5c" opacity="0.76"/><circle cx="135.9" cy="579.5" r="1.3" fill="#f6de5c" opacity="0.69"/><circle cx="151.9" cy="599.3" r="1.5" fill="#f6de5c" opacity="0.99"/><circle cx="150.5" cy="611.3" r="1.5" fill="#f6de5c" opacity="0.68"/><circle cx="151.1" cy="586.8" r="1.3" fill="#f6de5c" opacity="0.65"/><circle cx="154.9" cy="594.3" r="1.4" fill="#f6de5c" opacity="0.66"/><circle cx="158.6" cy="590.1" r="1.3" fill="#f6de5c" opacity="0.69"/><circle cx="134.9" cy="578.6" r="1.9" fill="#f6de5c" opacity="0.88"/><circle cx="143.2" cy="566.7" r="2.1" fill="#f6de5c" opacity="0.66"/><circle cx="157.4" cy="594.6" r="1.8" fill="#f6de5c" opacity="0.81"/><circle cx="148.2" cy="577.8" r="2.0" fill="#f6de5c" opacity="0.77"/><circle cx="140.9" cy="593.8" r="1.5" fill="#f6de5c" opacity="0.83"/><circle cx="134.4" cy="580.1" r="1.5" fill="#f6de5c" opacity="0.89"/><circle cx="156.3" cy="599.6" r="1.4" fill="#f6de5c" opacity="0.94"/><circle cx="153.9" cy="585.3" r="2.1" fill="#f6de5c" opacity="0.69"/><circle cx="145.5" cy="595.5" r="1.7" fill="#f6de5c" opacity="0.64"/><circle cx="144.0" cy="569.8" r="1.7" fill="#f6de5c" opacity="0.88"/><circle cx="147.8" cy="602.3" r="1.6" fill="#f6de5c" opacity="0.60"/><circle cx="150.2" cy="583.2" r="1.3" fill="#f6de5c" opacity="0.92"/><circle cx="150.9" cy="572.8" r="1.7" fill="#f6de5c" opacity="0.66"/><circle cx="157.1" cy="588.1" r="1.5" fill="#f6de5c" opacity="0.66"/><circle cx="148.6" cy="586.1" r="1.6" fill="#f6de5c" opacity="0.90"/><circle cx="146.9" cy="579.8" r="2.0" fill="#f6de5c" opacity="0.83"/><circle cx="137.7" cy="570.3" r="2.1" fill="#f6de5c" opacity="0.84"/><circle cx="148.2" cy="570.6" r="1.8" fill="#f6de5c" opacity="0.93"/><circle cx="140.7" cy="577.5" r="1.2" fill="#f6de5c" opacity="0.92"/><circle cx="142.1" cy="601.8" r="1.5" fill="#f6de5c" opacity="0.82"/><circle cx="136.6" cy="601.3" r="1.9" fill="#f6de5c" opacity="0.82"/><circle cx="148.9" cy="571.8" r="1.8" fill="#f6de5c" opacity="0.90"/><circle cx="144.9" cy="566.8" r="2.2" fill="#f6de5c" opacity="0.82"/><circle cx="141.3" cy="584.3" r="1.5" fill="#f6de5c" opacity="0.77"/><circle cx="133.7" cy="588.2" r="1.2" fill="#f6de5c" opacity="0.74"/><circle cx="146.4" cy="571.1" r="2.1" fill="#f6de5c" opacity="0.66"/><circle cx="148.2" cy="571.7" r="1.8" fill="#f6de5c" opacity="0.62"/><circle cx="136.7" cy="600.8" r="2.0" fill="#f6de5c" opacity="0.83"/><circle cx="144.6" cy="590.3" r="2.0" fill="#f6de5c" opacity="0.78"/><circle cx="145.2" cy="568.7" r="1.6" fill="#f6de5c" opacity="0.95"/><circle cx="156.3" cy="606.1" r="1.3" fill="#f6de5c" opacity="0.99"/><circle cx="139.0" cy="579.3" r="2.2" fill="#f6de5c" opacity="0.80"/><circle cx="143.6" cy="587.7" r="2.1" fill="#f6de5c" opacity="0.86"/><circle cx="147.3" cy="596.4" r="1.7" fill="#f6de5c" opacity="0.97"/><circle cx="153.6" cy="575.6" r="1.2" fill="#f6de5c" opacity="0.93"/><circle cx="150.5" cy="608.4" r="1.7" fill="#f6de5c" opacity="0.99"/><circle cx="154.5" cy="605.8" r="2.0" fill="#f6de5c" opacity="0.61"/><circle cx="140.0" cy="582.6" r="2.0" fill="#f6de5c" opacity="0.98"/><circle cx="142.1" cy="572.8" r="1.9" fill="#f6de5c" opacity="0.70"/><circle cx="142.3" cy="589.7" r="2.0" fill="#f6de5c" opacity="0.63"/><circle cx="141.2" cy="586.2" r="1.8" fill="#f6de5c" opacity="0.62"/><circle cx="157.9" cy="591.4" r="2.0" fill="#f6de5c" opacity="0.96"/><circle cx="140.8" cy="565.6" r="1.4" fill="#f6de5c" opacity="0.85"/><circle cx="143.2" cy="580.1" r="1.4" fill="#f6de5c" opacity="0.70"/><circle cx="134.7" cy="584.8" r="2.0" fill="#f6de5c" opacity="0.83"/><circle cx="157.5" cy="597.9" r="1.8" fill="#f6de5c" opacity="0.67"/><circle cx="141.9" cy="579.6" r="1.5" fill="#f6de5c" opacity="0.78"/><circle cx="147.0" cy="579.8" r="1.7" fill="#f6de5c" opacity="0.69"/><circle cx="141.0" cy="568.1" r="1.5" fill="#f6de5c" opacity="0.89"/><circle cx="140.6" cy="590.6" r="1.5" fill="#f6de5c" opacity="0.82"/><circle cx="150.8" cy="569.8" r="1.2" fill="#f6de5c" opacity="0.91"/><circle cx="139.0" cy="580.2" r="1.2" fill="#f2ac38" opacity="0.73"/><circle cx="144.4" cy="575.8" r="1.1" fill="#f2ac38" opacity="0.90"/><circle cx="143.5" cy="590.4" r="1.7" fill="#f2ac38" opacity="0.59"/><circle cx="139.7" cy="602.8" r="1.5" fill="#f2ac38" opacity="0.91"/><circle cx="151.7" cy="604.9" r="1.7" fill="#f2ac38" opacity="0.74"/><circle cx="144.9" cy="571.3" r="1.6" fill="#f2ac38" opacity="0.93"/><circle cx="140.6" cy="606.1" r="1.3" fill="#f2ac38" opacity="0.91"/><circle cx="148.1" cy="564.9" r="1.7" fill="#f2ac38" opacity="0.79"/><circle cx="152.3" cy="585.0" r="1.5" fill="#f2ac38" opacity="0.58"/><circle cx="136.9" cy="577.7" r="1.2" fill="#f2ac38" opacity="0.87"/><circle cx="141.6" cy="593.5" r="1.2" fill="#f2ac38" opacity="0.78"/><circle cx="144.7" cy="591.6" r="1.2" fill="#f2ac38" opacity="0.94"/><circle cx="135.6" cy="591.6" r="1.3" fill="#f2ac38" opacity="0.58"/><circle cx="142.1" cy="580.6" r="1.1" fill="#f2ac38" opacity="0.80"/><circle cx="146.3" cy="585.7" r="1.8" fill="#f2ac38" opacity="0.56"/><circle cx="151.0" cy="600.4" r="1.6" fill="#f2ac38" opacity="0.85"/></g>
<g filter="url(#b06)"><circle cx="104" cy="548.5" r="1.2" fill="#f29a2e"/><circle cx="106.5" cy="550.5" r="0.9" fill="#f29a2e"/></g>
<rect x="99.70" y="547.30" width="98.00" height="86.00" fill="#000" stroke="none" stroke-width="1" filter="url(#nzT)" opacity="0.3"/>
<rect x="185.50" y="629.40" width="9.50" height="2.80" fill="#fff" stroke="none" stroke-width="1" />
</g>
</g>
<g id="panel-j">
<text x="210.2" y="500.4" font-size="13.5" fill="#000" text-anchor="start" font-weight="bold" >j</text>
<rect x="232.20" y="504.00" width="98.30" height="11.20" fill="#fff" stroke="#8c8c8c" stroke-width="1" />
<text x="281.3" y="513.6" font-size="11.15" fill="#000" text-anchor="middle" font-weight="normal" >OVSAHO, fixed</text>
<rect x="232.20" y="515.60" width="98.30" height="100.30" fill="#fff" stroke="#8c8c8c" stroke-width="1" />
<line x1="232.20" y1="515.60" x2="330.50" y2="515.60" stroke="#777" stroke-width="1.6" />
<line x1="232.20" y1="603.80" x2="234.20" y2="603.80" stroke="#8c8c8c" stroke-width="0.8" />
<text x="230.2" y="607.8" font-size="11.1" fill="#000" text-anchor="end" font-weight="normal" >8</text>
<line x1="232.20" y1="591.40" x2="234.20" y2="591.40" stroke="#8c8c8c" stroke-width="0.8" />
<text x="230.2" y="595.4" font-size="11.1" fill="#000" text-anchor="end" font-weight="normal" >10</text>
<line x1="232.20" y1="579.00" x2="234.20" y2="579.00" stroke="#8c8c8c" stroke-width="0.8" />
<text x="230.2" y="583.0" font-size="11.1" fill="#000" text-anchor="end" font-weight="normal" >12</text>
<line x1="232.20" y1="566.60" x2="234.20" y2="566.60" stroke="#8c8c8c" stroke-width="0.8" />
<text x="230.2" y="570.6" font-size="11.1" fill="#000" text-anchor="end" font-weight="normal" >14</text>
<line x1="232.20" y1="554.20" x2="234.20" y2="554.20" stroke="#8c8c8c" stroke-width="0.8" />
<text x="230.2" y="558.2" font-size="11.1" fill="#000" text-anchor="end" font-weight="normal" >16</text>
<line x1="232.20" y1="541.80" x2="234.20" y2="541.80" stroke="#8c8c8c" stroke-width="0.8" />
<text x="230.2" y="545.8" font-size="11.1" fill="#000" text-anchor="end" font-weight="normal" >18</text>
<line x1="232.20" y1="529.40" x2="234.20" y2="529.40" stroke="#8c8c8c" stroke-width="0.8" />
<text x="230.2" y="533.4" font-size="11.1" fill="#000" text-anchor="end" font-weight="normal" >20</text>
<line x1="232.20" y1="517.00" x2="234.20" y2="517.00" stroke="#8c8c8c" stroke-width="0.8" />
<text x="230.2" y="521.0" font-size="11.1" fill="#000" text-anchor="end" font-weight="normal" >22</text>
<text x="230.2" y="619.9" font-size="11.1" fill="#000" text-anchor="end" font-weight="normal" >0</text>
<line x1="230.40" y1="611.00" x2="233.70" y2="608.00" stroke="#222" stroke-width="0.9" />
<g fill="#d6d6d6" stroke="#6a6a6a" stroke-width="0.45"><circle cx="256.9" cy="562.7" r="1.0"/><circle cx="256.9" cy="564.3" r="1.0"/><circle cx="256.9" cy="565.9" r="1.0"/><circle cx="256.9" cy="567.5" r="1.0"/><circle cx="256.9" cy="569.1" r="1.0"/><circle cx="256.9" cy="570.7" r="1.0"/><circle cx="256.9" cy="572.3" r="1.0"/><circle cx="256.9" cy="573.9" r="1.0"/><circle cx="256.9" cy="575.5" r="1.0"/><circle cx="256.9" cy="577.1" r="1.0"/><circle cx="256.9" cy="578.7" r="1.0"/><circle cx="256.9" cy="580.3" r="1.0"/><circle cx="256.9" cy="581.9" r="1.0"/><circle cx="256.9" cy="583.5" r="1.0"/><circle cx="256.9" cy="585.1" r="1.0"/><circle cx="256.9" cy="586.7" r="1.0"/><circle cx="256.9" cy="588.3" r="1.0"/><circle cx="256.9" cy="589.9" r="1.0"/><circle cx="256.9" cy="591.5" r="1.0"/><circle cx="256.9" cy="593.1" r="1.0"/><circle cx="256.9" cy="594.7" r="1.0"/><circle cx="256.9" cy="596.3" r="1.0"/><circle cx="256.9" cy="597.9" r="1.0"/><circle cx="256.9" cy="599.5" r="1.0"/><circle cx="256.9" cy="601.1" r="1.0"/><circle cx="256.9" cy="602.7" r="1.0"/><circle cx="256.9" cy="604.3" r="1.0"/><circle cx="256.9" cy="605.9" r="1.0"/><circle cx="256.9" cy="549.7" r="1.0"/><circle cx="256.9" cy="552.1" r="1.0"/><circle cx="256.9" cy="554.7" r="1.0"/><circle cx="256.9" cy="557.6" r="1.0"/><circle cx="256.9" cy="559.9" r="1.0"/><circle cx="259.5" cy="566.0" r="1.0"/><circle cx="259.5" cy="567.6" r="1.0"/><circle cx="259.5" cy="569.2" r="1.0"/><circle cx="259.5" cy="570.8" r="1.0"/><circle cx="259.5" cy="572.4" r="1.0"/><circle cx="259.5" cy="574.0" r="1.0"/><circle cx="259.5" cy="575.6" r="1.0"/><circle cx="259.5" cy="577.2" r="1.0"/><circle cx="259.5" cy="578.8" r="1.0"/><circle cx="259.5" cy="580.4" r="1.0"/><circle cx="259.5" cy="582.0" r="1.0"/><circle cx="259.5" cy="583.6" r="1.0"/><circle cx="259.5" cy="585.2" r="1.0"/><circle cx="259.5" cy="586.8" r="1.0"/><circle cx="259.5" cy="588.4" r="1.0"/><circle cx="259.5" cy="590.0" r="1.0"/><circle cx="259.5" cy="591.6" r="1.0"/><circle cx="259.5" cy="593.2" r="1.0"/><circle cx="259.5" cy="594.8" r="1.0"/><circle cx="259.5" cy="596.4" r="1.0"/><circle cx="259.5" cy="598.0" r="1.0"/><circle cx="259.5" cy="599.6" r="1.0"/><circle cx="259.5" cy="601.2" r="1.0"/><circle cx="254.3" cy="566.2" r="1.0"/><circle cx="254.3" cy="567.8" r="1.0"/><circle cx="254.3" cy="569.4" r="1.0"/><circle cx="254.3" cy="571.0" r="1.0"/><circle cx="254.3" cy="572.6" r="1.0"/><circle cx="254.3" cy="574.2" r="1.0"/><circle cx="254.3" cy="575.8" r="1.0"/><circle cx="254.3" cy="577.4" r="1.0"/><circle cx="254.3" cy="579.0" r="1.0"/><circle cx="254.3" cy="580.6" r="1.0"/><circle cx="254.3" cy="582.2" r="1.0"/><circle cx="254.3" cy="583.8" r="1.0"/><circle cx="254.3" cy="585.4" r="1.0"/><circle cx="254.3" cy="587.0" r="1.0"/><circle cx="254.3" cy="588.6" r="1.0"/><circle cx="254.3" cy="590.2" r="1.0"/><circle cx="254.3" cy="591.8" r="1.0"/><circle cx="254.3" cy="593.4" r="1.0"/><circle cx="254.3" cy="595.0" r="1.0"/><circle cx="254.3" cy="596.6" r="1.0"/><circle cx="254.3" cy="598.2" r="1.0"/><circle cx="254.3" cy="599.8" r="1.0"/><circle cx="254.3" cy="601.4" r="1.0"/><circle cx="262.1" cy="563.3" r="1.0"/><circle cx="262.1" cy="564.9" r="1.0"/><circle cx="262.1" cy="566.5" r="1.0"/><circle cx="262.1" cy="568.1" r="1.0"/><circle cx="262.1" cy="569.7" r="1.0"/><circle cx="262.1" cy="571.3" r="1.0"/><circle cx="262.1" cy="572.9" r="1.0"/><circle cx="262.1" cy="574.5" r="1.0"/><circle cx="262.1" cy="576.1" r="1.0"/><circle cx="262.1" cy="577.7" r="1.0"/><circle cx="262.1" cy="579.3" r="1.0"/><circle cx="262.1" cy="580.9" r="1.0"/><circle cx="262.1" cy="582.5" r="1.0"/><circle cx="262.1" cy="584.1" r="1.0"/><circle cx="262.1" cy="585.7" r="1.0"/><circle cx="262.1" cy="587.3" r="1.0"/><circle cx="262.1" cy="588.9" r="1.0"/><circle cx="262.1" cy="590.5" r="1.0"/><circle cx="262.1" cy="592.1" r="1.0"/><circle cx="262.1" cy="593.7" r="1.0"/><circle cx="262.1" cy="595.3" r="1.0"/><circle cx="262.1" cy="596.9" r="1.0"/><circle cx="262.1" cy="598.5" r="1.0"/><circle cx="262.1" cy="600.1" r="1.0"/><circle cx="262.1" cy="601.7" r="1.0"/><circle cx="262.1" cy="603.3" r="1.0"/><circle cx="251.7" cy="563.6" r="1.0"/><circle cx="251.7" cy="565.2" r="1.0"/><circle cx="251.7" cy="566.8" r="1.0"/><circle cx="251.7" cy="568.4" r="1.0"/><circle cx="251.7" cy="570.0" r="1.0"/><circle cx="251.7" cy="571.6" r="1.0"/><circle cx="251.7" cy="573.2" r="1.0"/><circle cx="251.7" cy="574.8" r="1.0"/><circle cx="251.7" cy="576.4" r="1.0"/><circle cx="251.7" cy="578.0" r="1.0"/><circle cx="251.7" cy="579.6" r="1.0"/><circle cx="251.7" cy="581.2" r="1.0"/><circle cx="251.7" cy="582.8" r="1.0"/><circle cx="251.7" cy="584.4" r="1.0"/><circle cx="251.7" cy="586.0" r="1.0"/><circle cx="251.7" cy="587.6" r="1.0"/><circle cx="251.7" cy="589.2" r="1.0"/><circle cx="251.7" cy="590.8" r="1.0"/><circle cx="251.7" cy="592.4" r="1.0"/><circle cx="251.7" cy="594.0" r="1.0"/><circle cx="251.7" cy="595.6" r="1.0"/><circle cx="251.7" cy="597.2" r="1.0"/><circle cx="251.7" cy="598.8" r="1.0"/><circle cx="251.7" cy="600.4" r="1.0"/><circle cx="251.7" cy="602.0" r="1.0"/><circle cx="251.7" cy="603.6" r="1.0"/><circle cx="264.8" cy="567.5" r="1.0"/><circle cx="264.8" cy="569.1" r="1.0"/><circle cx="264.8" cy="570.7" r="1.0"/><circle cx="264.8" cy="572.3" r="1.0"/><circle cx="264.8" cy="573.9" r="1.0"/><circle cx="264.8" cy="575.5" r="1.0"/><circle cx="264.8" cy="577.1" r="1.0"/><circle cx="264.8" cy="578.7" r="1.0"/><circle cx="264.8" cy="580.3" r="1.0"/><circle cx="264.8" cy="581.9" r="1.0"/><circle cx="264.8" cy="583.5" r="1.0"/><circle cx="264.8" cy="585.1" r="1.0"/><circle cx="264.8" cy="586.7" r="1.0"/><circle cx="264.8" cy="588.3" r="1.0"/><circle cx="264.8" cy="589.9" r="1.0"/><circle cx="264.8" cy="591.5" r="1.0"/><circle cx="264.8" cy="593.1" r="1.0"/><circle cx="264.8" cy="594.7" r="1.0"/><circle cx="264.8" cy="596.3" r="1.0"/><circle cx="264.8" cy="597.9" r="1.0"/><circle cx="264.8" cy="563.8" r="1.0"/><circle cx="249.0" cy="567.5" r="1.0"/><circle cx="249.0" cy="569.1" r="1.0"/><circle cx="249.0" cy="570.7" r="1.0"/><circle cx="249.0" cy="572.3" r="1.0"/><circle cx="249.0" cy="573.9" r="1.0"/><circle cx="249.0" cy="575.5" r="1.0"/><circle cx="249.0" cy="577.1" r="1.0"/><circle cx="249.0" cy="578.7" r="1.0"/><circle cx="249.0" cy="580.3" r="1.0"/><circle cx="249.0" cy="581.9" r="1.0"/><circle cx="249.0" cy="583.5" r="1.0"/><circle cx="249.0" cy="585.1" r="1.0"/><circle cx="249.0" cy="586.7" r="1.0"/><circle cx="249.0" cy="588.3" r="1.0"/><circle cx="249.0" cy="589.9" r="1.0"/><circle cx="249.0" cy="591.5" r="1.0"/><circle cx="249.0" cy="593.1" r="1.0"/><circle cx="249.0" cy="594.7" r="1.0"/><circle cx="249.0" cy="596.3" r="1.0"/><circle cx="249.0" cy="597.9" r="1.0"/><circle cx="249.0" cy="563.8" r="1.0"/><circle cx="267.4" cy="561.1" r="1.0"/><circle cx="267.4" cy="562.7" r="1.0"/><circle cx="267.4" cy="564.3" r="1.0"/><circle cx="267.4" cy="565.9" r="1.0"/><circle cx="267.4" cy="567.5" r="1.0"/><circle cx="267.4" cy="569.1" r="1.0"/><circle cx="267.4" cy="570.7" r="1.0"/><circle cx="267.4" cy="572.3" r="1.0"/><circle cx="267.4" cy="573.9" r="1.0"/><circle cx="267.4" cy="575.5" r="1.0"/><circle cx="267.4" cy="577.1" r="1.0"/><circle cx="267.4" cy="578.7" r="1.0"/><circle cx="267.4" cy="580.3" r="1.0"/><circle cx="267.4" cy="581.9" r="1.0"/><circle cx="267.4" cy="583.5" r="1.0"/><circle cx="267.4" cy="585.1" r="1.0"/><circle cx="267.4" cy="586.7" r="1.0"/><circle cx="267.4" cy="588.3" r="1.0"/><circle cx="267.4" cy="589.9" r="1.0"/><circle cx="267.4" cy="591.5" r="1.0"/><circle cx="267.4" cy="593.1" r="1.0"/><circle cx="267.4" cy="594.7" r="1.0"/><circle cx="267.4" cy="596.3" r="1.0"/><circle cx="267.4" cy="597.9" r="1.0"/><circle cx="267.4" cy="599.5" r="1.0"/><circle cx="267.4" cy="601.1" r="1.0"/><circle cx="246.4" cy="561.0" r="1.0"/><circle cx="246.4" cy="562.6" r="1.0"/><circle cx="246.4" cy="564.2" r="1.0"/><circle cx="246.4" cy="565.8" r="1.0"/><circle cx="246.4" cy="567.4" r="1.0"/><circle cx="246.4" cy="569.0" r="1.0"/><circle cx="246.4" cy="570.6" r="1.0"/><circle cx="246.4" cy="572.2" r="1.0"/><circle cx="246.4" cy="573.8" r="1.0"/><circle cx="246.4" cy="575.4" r="1.0"/><circle cx="246.4" cy="577.0" r="1.0"/><circle cx="246.4" cy="578.6" r="1.0"/><circle cx="246.4" cy="580.2" r="1.0"/><circle cx="246.4" cy="581.8" r="1.0"/><circle cx="246.4" cy="583.4" r="1.0"/><circle cx="246.4" cy="585.0" r="1.0"/><circle cx="246.4" cy="586.6" r="1.0"/><circle cx="246.4" cy="588.2" r="1.0"/><circle cx="246.4" cy="589.8" r="1.0"/><circle cx="246.4" cy="591.4" r="1.0"/><circle cx="246.4" cy="593.0" r="1.0"/><circle cx="246.4" cy="594.6" r="1.0"/><circle cx="246.4" cy="596.2" r="1.0"/><circle cx="246.4" cy="597.8" r="1.0"/><circle cx="246.4" cy="599.4" r="1.0"/><circle cx="246.4" cy="601.0" r="1.0"/><circle cx="270.0" cy="566.0" r="1.0"/><circle cx="270.0" cy="567.6" r="1.0"/><circle cx="270.0" cy="569.2" r="1.0"/><circle cx="270.0" cy="570.8" r="1.0"/><circle cx="270.0" cy="572.4" r="1.0"/><circle cx="270.0" cy="574.0" r="1.0"/><circle cx="270.0" cy="575.6" r="1.0"/><circle cx="270.0" cy="577.2" r="1.0"/><circle cx="270.0" cy="578.8" r="1.0"/><circle cx="270.0" cy="580.4" r="1.0"/><circle cx="270.0" cy="582.0" r="1.0"/><circle cx="270.0" cy="583.6" r="1.0"/><circle cx="270.0" cy="585.2" r="1.0"/><circle cx="270.0" cy="586.8" r="1.0"/><circle cx="270.0" cy="588.4" r="1.0"/><circle cx="270.0" cy="590.0" r="1.0"/><circle cx="270.0" cy="591.6" r="1.0"/><circle cx="270.0" cy="593.2" r="1.0"/><circle cx="270.0" cy="594.8" r="1.0"/><circle cx="270.0" cy="596.4" r="1.0"/><circle cx="270.0" cy="598.0" r="1.0"/><circle cx="270.0" cy="562.3" r="1.0"/><circle cx="243.8" cy="566.3" r="1.0"/><circle cx="243.8" cy="567.9" r="1.0"/><circle cx="243.8" cy="569.5" r="1.0"/><circle cx="243.8" cy="571.1" r="1.0"/><circle cx="243.8" cy="572.7" r="1.0"/><circle cx="243.8" cy="574.3" r="1.0"/><circle cx="243.8" cy="575.9" r="1.0"/><circle cx="243.8" cy="577.5" r="1.0"/><circle cx="243.8" cy="579.1" r="1.0"/><circle cx="243.8" cy="580.7" r="1.0"/><circle cx="243.8" cy="582.3" r="1.0"/><circle cx="243.8" cy="583.9" r="1.0"/><circle cx="243.8" cy="585.5" r="1.0"/><circle cx="243.8" cy="587.1" r="1.0"/><circle cx="243.8" cy="588.7" r="1.0"/><circle cx="243.8" cy="590.3" r="1.0"/><circle cx="243.8" cy="591.9" r="1.0"/><circle cx="243.8" cy="593.5" r="1.0"/><circle cx="243.8" cy="595.1" r="1.0"/><circle cx="243.8" cy="596.7" r="1.0"/><circle cx="243.8" cy="562.3" r="1.0"/><circle cx="272.6" cy="570.0" r="1.0"/><circle cx="272.6" cy="571.6" r="1.0"/><circle cx="272.6" cy="573.2" r="1.0"/><circle cx="272.6" cy="574.8" r="1.0"/><circle cx="272.6" cy="576.4" r="1.0"/><circle cx="272.6" cy="578.0" r="1.0"/><circle cx="272.6" cy="579.6" r="1.0"/><circle cx="272.6" cy="581.2" r="1.0"/><circle cx="272.6" cy="582.8" r="1.0"/><circle cx="272.6" cy="584.4" r="1.0"/><circle cx="272.6" cy="586.0" r="1.0"/><circle cx="272.6" cy="587.6" r="1.0"/><circle cx="272.6" cy="589.2" r="1.0"/><circle cx="272.6" cy="590.8" r="1.0"/><circle cx="272.6" cy="592.4" r="1.0"/><circle cx="272.6" cy="594.0" r="1.0"/><circle cx="272.6" cy="595.6" r="1.0"/><circle cx="241.2" cy="570.2" r="1.0"/><circle cx="241.2" cy="571.8" r="1.0"/><circle cx="241.2" cy="573.4" r="1.0"/><circle cx="241.2" cy="575.0" r="1.0"/><circle cx="241.2" cy="576.6" r="1.0"/><circle cx="241.2" cy="578.2" r="1.0"/><circle cx="241.2" cy="579.8" r="1.0"/><circle cx="241.2" cy="581.4" r="1.0"/><circle cx="241.2" cy="583.0" r="1.0"/><circle cx="241.2" cy="584.6" r="1.0"/><circle cx="241.2" cy="586.2" r="1.0"/><circle cx="241.2" cy="587.8" r="1.0"/><circle cx="241.2" cy="589.4" r="1.0"/><circle cx="241.2" cy="591.0" r="1.0"/><circle cx="241.2" cy="592.6" r="1.0"/><circle cx="241.2" cy="594.2" r="1.0"/><circle cx="241.2" cy="595.8" r="1.0"/><circle cx="275.2" cy="575.0" r="1.0"/><circle cx="275.2" cy="576.6" r="1.0"/><circle cx="275.2" cy="578.2" r="1.0"/><circle cx="275.2" cy="579.8" r="1.0"/><circle cx="275.2" cy="581.4" r="1.0"/><circle cx="275.2" cy="583.0" r="1.0"/><circle cx="275.2" cy="584.6" r="1.0"/><circle cx="275.2" cy="586.2" r="1.0"/><circle cx="275.2" cy="587.8" r="1.0"/><circle cx="275.2" cy="589.4" r="1.0"/><circle cx="275.2" cy="591.0" r="1.0"/><circle cx="275.2" cy="592.6" r="1.0"/><circle cx="238.6" cy="575.5" r="1.0"/><circle cx="238.6" cy="577.1" r="1.0"/><circle cx="238.6" cy="578.7" r="1.0"/><circle cx="238.6" cy="580.3" r="1.0"/><circle cx="238.6" cy="581.9" r="1.0"/><circle cx="238.6" cy="583.5" r="1.0"/><circle cx="238.6" cy="585.1" r="1.0"/><circle cx="238.6" cy="586.7" r="1.0"/><circle cx="238.6" cy="588.3" r="1.0"/><circle cx="238.6" cy="589.9" r="1.0"/><circle cx="238.6" cy="591.5" r="1.0"/><circle cx="238.6" cy="593.1" r="1.0"/><circle cx="277.9" cy="579.4" r="1.0"/><circle cx="277.9" cy="581.0" r="1.0"/><circle cx="277.9" cy="582.6" r="1.0"/><circle cx="277.9" cy="584.2" r="1.0"/><circle cx="277.9" cy="585.8" r="1.0"/><circle cx="277.9" cy="587.4" r="1.0"/><circle cx="277.9" cy="589.0" r="1.0"/><circle cx="235.9" cy="579.0" r="1.0"/><circle cx="235.9" cy="580.6" r="1.0"/><circle cx="235.9" cy="582.2" r="1.0"/><circle cx="235.9" cy="583.8" r="1.0"/><circle cx="235.9" cy="585.4" r="1.0"/><circle cx="235.9" cy="587.0" r="1.0"/><circle cx="235.9" cy="588.6" r="1.0"/></g>
<g fill="#dedede" stroke="#787878" stroke-width="0.45"><circle cx="256.9" cy="530.6" r="1.1"/></g>
<g fill="#078378" stroke="#056258" stroke-width="0.45"><circle cx="306.4" cy="560.7" r="0.95"/><circle cx="306.4" cy="562.3" r="0.95"/><circle cx="306.4" cy="563.9" r="0.95"/><circle cx="306.4" cy="565.5" r="0.95"/><circle cx="306.4" cy="567.1" r="0.95"/><circle cx="306.4" cy="568.7" r="0.95"/><circle cx="306.4" cy="570.3" r="0.95"/><circle cx="306.4" cy="571.9" r="0.95"/><circle cx="306.4" cy="573.5" r="0.95"/><circle cx="306.4" cy="575.1" r="0.95"/><circle cx="306.4" cy="576.7" r="0.95"/><circle cx="306.4" cy="578.3" r="0.95"/><circle cx="306.4" cy="579.9" r="0.95"/><circle cx="306.4" cy="581.5" r="0.95"/><circle cx="306.4" cy="583.1" r="0.95"/><circle cx="306.4" cy="584.7" r="0.95"/><circle cx="306.4" cy="586.3" r="0.95"/><circle cx="306.4" cy="587.9" r="0.95"/><circle cx="306.4" cy="589.5" r="0.95"/><circle cx="306.4" cy="591.1" r="0.95"/><circle cx="306.4" cy="592.7" r="0.95"/><circle cx="306.4" cy="543.5" r="0.95"/><circle cx="306.4" cy="548.2" r="0.95"/><circle cx="306.4" cy="550.5" r="0.95"/><circle cx="306.4" cy="552.9" r="0.95"/><circle cx="306.4" cy="557.6" r="0.95"/><circle cx="306.4" cy="596.7" r="0.95"/><circle cx="306.4" cy="599.0" r="0.95"/><circle cx="306.4" cy="601.4" r="0.95"/><circle cx="309.1" cy="561.1" r="0.95"/><circle cx="309.1" cy="562.7" r="0.95"/><circle cx="309.1" cy="564.3" r="0.95"/><circle cx="309.1" cy="565.9" r="0.95"/><circle cx="309.1" cy="567.5" r="0.95"/><circle cx="309.1" cy="569.1" r="0.95"/><circle cx="309.1" cy="570.7" r="0.95"/><circle cx="309.1" cy="572.3" r="0.95"/><circle cx="309.1" cy="573.9" r="0.95"/><circle cx="309.1" cy="575.5" r="0.95"/><circle cx="309.1" cy="577.1" r="0.95"/><circle cx="309.1" cy="578.7" r="0.95"/><circle cx="309.1" cy="580.3" r="0.95"/><circle cx="309.1" cy="581.9" r="0.95"/><circle cx="309.1" cy="583.5" r="0.95"/><circle cx="309.1" cy="585.1" r="0.95"/><circle cx="309.1" cy="586.7" r="0.95"/><circle cx="309.1" cy="588.3" r="0.95"/><circle cx="309.1" cy="558.3" r="0.95"/><circle cx="303.7" cy="561.7" r="0.95"/><circle cx="303.7" cy="563.3" r="0.95"/><circle cx="303.7" cy="564.9" r="0.95"/><circle cx="303.7" cy="566.5" r="0.95"/><circle cx="303.7" cy="568.1" r="0.95"/><circle cx="303.7" cy="569.7" r="0.95"/><circle cx="303.7" cy="571.3" r="0.95"/><circle cx="303.7" cy="572.9" r="0.95"/><circle cx="303.7" cy="574.5" r="0.95"/><circle cx="303.7" cy="576.1" r="0.95"/><circle cx="303.7" cy="577.7" r="0.95"/><circle cx="303.7" cy="579.3" r="0.95"/><circle cx="303.7" cy="580.9" r="0.95"/><circle cx="303.7" cy="582.5" r="0.95"/><circle cx="303.7" cy="584.1" r="0.95"/><circle cx="303.7" cy="585.7" r="0.95"/><circle cx="303.7" cy="587.3" r="0.95"/><circle cx="303.7" cy="588.9" r="0.95"/><circle cx="303.7" cy="558.3" r="0.95"/><circle cx="311.7" cy="561.7" r="0.95"/><circle cx="311.7" cy="563.3" r="0.95"/><circle cx="311.7" cy="564.9" r="0.95"/><circle cx="311.7" cy="566.5" r="0.95"/><circle cx="311.7" cy="568.1" r="0.95"/><circle cx="311.7" cy="569.7" r="0.95"/><circle cx="311.7" cy="571.3" r="0.95"/><circle cx="311.7" cy="572.9" r="0.95"/><circle cx="311.7" cy="574.5" r="0.95"/><circle cx="311.7" cy="576.1" r="0.95"/><circle cx="311.7" cy="577.7" r="0.95"/><circle cx="311.7" cy="579.3" r="0.95"/><circle cx="311.7" cy="580.9" r="0.95"/><circle cx="311.7" cy="582.5" r="0.95"/><circle cx="311.7" cy="584.1" r="0.95"/><circle cx="311.7" cy="585.7" r="0.95"/><circle cx="311.7" cy="587.3" r="0.95"/><circle cx="311.7" cy="588.9" r="0.95"/><circle cx="311.7" cy="548.5" r="0.95"/><circle cx="311.7" cy="556.3" r="0.95"/><circle cx="301.1" cy="561.1" r="0.95"/><circle cx="301.1" cy="562.7" r="0.95"/><circle cx="301.1" cy="564.3" r="0.95"/><circle cx="301.1" cy="565.9" r="0.95"/><circle cx="301.1" cy="567.5" r="0.95"/><circle cx="301.1" cy="569.1" r="0.95"/><circle cx="301.1" cy="570.7" r="0.95"/><circle cx="301.1" cy="572.3" r="0.95"/><circle cx="301.1" cy="573.9" r="0.95"/><circle cx="301.1" cy="575.5" r="0.95"/><circle cx="301.1" cy="577.1" r="0.95"/><circle cx="301.1" cy="578.7" r="0.95"/><circle cx="301.1" cy="580.3" r="0.95"/><circle cx="301.1" cy="581.9" r="0.95"/><circle cx="301.1" cy="583.5" r="0.95"/><circle cx="301.1" cy="585.1" r="0.95"/><circle cx="301.1" cy="586.7" r="0.95"/><circle cx="301.1" cy="588.3" r="0.95"/><circle cx="301.1" cy="548.5" r="0.95"/><circle cx="301.1" cy="556.3" r="0.95"/><circle cx="314.4" cy="561.6" r="0.95"/><circle cx="314.4" cy="563.2" r="0.95"/><circle cx="314.4" cy="564.8" r="0.95"/><circle cx="314.4" cy="566.4" r="0.95"/><circle cx="314.4" cy="568.0" r="0.95"/><circle cx="314.4" cy="569.6" r="0.95"/><circle cx="314.4" cy="571.2" r="0.95"/><circle cx="314.4" cy="572.8" r="0.95"/><circle cx="314.4" cy="574.4" r="0.95"/><circle cx="314.4" cy="576.0" r="0.95"/><circle cx="314.4" cy="577.6" r="0.95"/><circle cx="314.4" cy="579.2" r="0.95"/><circle cx="314.4" cy="580.8" r="0.95"/><circle cx="314.4" cy="582.4" r="0.95"/><circle cx="314.4" cy="584.0" r="0.95"/><circle cx="314.4" cy="585.6" r="0.95"/><circle cx="314.4" cy="587.2" r="0.95"/><circle cx="314.4" cy="588.8" r="0.95"/><circle cx="314.4" cy="590.4" r="0.95"/><circle cx="314.4" cy="592.0" r="0.95"/><circle cx="314.4" cy="544.3" r="0.95"/><circle cx="314.4" cy="552.1" r="0.95"/><circle cx="314.4" cy="556.8" r="0.95"/><circle cx="298.4" cy="561.4" r="0.95"/><circle cx="298.4" cy="563.0" r="0.95"/><circle cx="298.4" cy="564.6" r="0.95"/><circle cx="298.4" cy="566.2" r="0.95"/><circle cx="298.4" cy="567.8" r="0.95"/><circle cx="298.4" cy="569.4" r="0.95"/><circle cx="298.4" cy="571.0" r="0.95"/><circle cx="298.4" cy="572.6" r="0.95"/><circle cx="298.4" cy="574.2" r="0.95"/><circle cx="298.4" cy="575.8" r="0.95"/><circle cx="298.4" cy="577.4" r="0.95"/><circle cx="298.4" cy="579.0" r="0.95"/><circle cx="298.4" cy="580.6" r="0.95"/><circle cx="298.4" cy="582.2" r="0.95"/><circle cx="298.4" cy="583.8" r="0.95"/><circle cx="298.4" cy="585.4" r="0.95"/><circle cx="298.4" cy="587.0" r="0.95"/><circle cx="298.4" cy="588.6" r="0.95"/><circle cx="298.4" cy="590.2" r="0.95"/><circle cx="298.4" cy="591.8" r="0.95"/><circle cx="298.4" cy="544.3" r="0.95"/><circle cx="298.4" cy="552.1" r="0.95"/><circle cx="298.4" cy="556.8" r="0.95"/><circle cx="317.0" cy="565.4" r="0.95"/><circle cx="317.0" cy="567.0" r="0.95"/><circle cx="317.0" cy="568.6" r="0.95"/><circle cx="317.0" cy="570.2" r="0.95"/><circle cx="317.0" cy="571.8" r="0.95"/><circle cx="317.0" cy="573.4" r="0.95"/><circle cx="317.0" cy="575.0" r="0.95"/><circle cx="317.0" cy="576.6" r="0.95"/><circle cx="317.0" cy="578.2" r="0.95"/><circle cx="317.0" cy="579.8" r="0.95"/><circle cx="317.0" cy="581.4" r="0.95"/><circle cx="317.0" cy="583.0" r="0.95"/><circle cx="317.0" cy="584.6" r="0.95"/><circle cx="317.0" cy="561.0" r="0.95"/><circle cx="295.8" cy="564.8" r="0.95"/><circle cx="295.8" cy="566.4" r="0.95"/><circle cx="295.8" cy="568.0" r="0.95"/><circle cx="295.8" cy="569.6" r="0.95"/><circle cx="295.8" cy="571.2" r="0.95"/><circle cx="295.8" cy="572.8" r="0.95"/><circle cx="295.8" cy="574.4" r="0.95"/><circle cx="295.8" cy="576.0" r="0.95"/><circle cx="295.8" cy="577.6" r="0.95"/><circle cx="295.8" cy="579.2" r="0.95"/><circle cx="295.8" cy="580.8" r="0.95"/><circle cx="295.8" cy="582.4" r="0.95"/><circle cx="295.8" cy="584.0" r="0.95"/><circle cx="295.8" cy="585.6" r="0.95"/><circle cx="295.8" cy="561.0" r="0.95"/><circle cx="319.7" cy="563.0" r="0.95"/><circle cx="319.7" cy="564.6" r="0.95"/><circle cx="319.7" cy="566.2" r="0.95"/><circle cx="319.7" cy="567.8" r="0.95"/><circle cx="319.7" cy="569.4" r="0.95"/><circle cx="319.7" cy="571.0" r="0.95"/><circle cx="319.7" cy="572.6" r="0.95"/><circle cx="319.7" cy="574.2" r="0.95"/><circle cx="319.7" cy="575.8" r="0.95"/><circle cx="319.7" cy="577.4" r="0.95"/><circle cx="319.7" cy="579.0" r="0.95"/><circle cx="319.7" cy="580.6" r="0.95"/><circle cx="319.7" cy="582.2" r="0.95"/><circle cx="319.7" cy="583.8" r="0.95"/><circle cx="319.7" cy="585.4" r="0.95"/><circle cx="319.7" cy="587.0" r="0.95"/><circle cx="319.7" cy="588.6" r="0.95"/><circle cx="293.1" cy="563.3" r="0.95"/><circle cx="293.1" cy="564.9" r="0.95"/><circle cx="293.1" cy="566.5" r="0.95"/><circle cx="293.1" cy="568.1" r="0.95"/><circle cx="293.1" cy="569.7" r="0.95"/><circle cx="293.1" cy="571.3" r="0.95"/><circle cx="293.1" cy="572.9" r="0.95"/><circle cx="293.1" cy="574.5" r="0.95"/><circle cx="293.1" cy="576.1" r="0.95"/><circle cx="293.1" cy="577.7" r="0.95"/><circle cx="293.1" cy="579.3" r="0.95"/><circle cx="293.1" cy="580.9" r="0.95"/><circle cx="293.1" cy="582.5" r="0.95"/><circle cx="293.1" cy="584.1" r="0.95"/><circle cx="293.1" cy="585.7" r="0.95"/><circle cx="293.1" cy="587.3" r="0.95"/><circle cx="322.4" cy="567.5" r="0.95"/><circle cx="322.4" cy="569.1" r="0.95"/><circle cx="322.4" cy="570.7" r="0.95"/><circle cx="322.4" cy="572.3" r="0.95"/><circle cx="322.4" cy="573.9" r="0.95"/><circle cx="322.4" cy="575.5" r="0.95"/><circle cx="322.4" cy="577.1" r="0.95"/><circle cx="322.4" cy="578.7" r="0.95"/><circle cx="322.4" cy="580.3" r="0.95"/><circle cx="322.4" cy="581.9" r="0.95"/><circle cx="322.4" cy="583.5" r="0.95"/><circle cx="322.4" cy="585.1" r="0.95"/><circle cx="290.4" cy="567.2" r="0.95"/><circle cx="290.4" cy="568.8" r="0.95"/><circle cx="290.4" cy="570.4" r="0.95"/><circle cx="290.4" cy="572.0" r="0.95"/><circle cx="290.4" cy="573.6" r="0.95"/><circle cx="290.4" cy="575.2" r="0.95"/><circle cx="290.4" cy="576.8" r="0.95"/><circle cx="290.4" cy="578.4" r="0.95"/><circle cx="290.4" cy="580.0" r="0.95"/><circle cx="290.4" cy="581.6" r="0.95"/><circle cx="290.4" cy="583.2" r="0.95"/><circle cx="290.4" cy="584.8" r="0.95"/><circle cx="325.0" cy="570.1" r="0.95"/><circle cx="325.0" cy="571.7" r="0.95"/><circle cx="325.0" cy="573.3" r="0.95"/><circle cx="325.0" cy="574.9" r="0.95"/><circle cx="325.0" cy="576.5" r="0.95"/><circle cx="325.0" cy="578.1" r="0.95"/><circle cx="325.0" cy="579.7" r="0.95"/><circle cx="287.8" cy="570.8" r="0.95"/><circle cx="287.8" cy="572.4" r="0.95"/><circle cx="287.8" cy="574.0" r="0.95"/><circle cx="287.8" cy="575.6" r="0.95"/><circle cx="287.8" cy="577.2" r="0.95"/><circle cx="287.8" cy="578.8" r="0.95"/></g>
<rect x="251.90" y="574.00" width="10.20" height="19.50" fill="#dcdcdc" stroke="#b0b0b0" stroke-width="0.5" fill-opacity="0.8"/>
<line x1="251.90" y1="583.40" x2="262.10" y2="583.40" stroke="#555" stroke-width="1.2" />
<rect x="301.20" y="562.30" width="10.20" height="23.40" fill="#dcdcdc" stroke="#b0b0b0" stroke-width="0.5" fill-opacity="0.8"/>
<line x1="301.20" y1="574.00" x2="311.40" y2="574.00" stroke="#555" stroke-width="1.2" />
<polyline points="256.90,541.20 256.90,539.20 306.40,539.20 306.40,541.20" fill="none" stroke="#666" stroke-width="0.8" />
<text x="282.4" y="536.4" font-size="8.3" text-anchor="middle" fill="#000">p=1·10<tspan font-size="5" dy="-3">-20</tspan></text>
<text x="257.0" y="626.8" font-size="11.1" fill="#000" text-anchor="middle" font-weight="normal" >Untreated</text>
<text x="306.5" y="626.8" font-size="11.1" fill="#000" text-anchor="middle" font-weight="normal" >KIF4A</text>
<text x="306.5" y="638.0" font-size="11.1" fill="#000" text-anchor="middle" font-weight="normal" >siRNA</text>
<text transform="translate(213.4,565.8) rotate(-90)" font-size="11.1" fill="#000" text-anchor="middle" font-weight="normal">Spindle length (µm)</text>
</g>
<g id="panel-k">
<text x="341.2" y="501.8" font-size="13.5" fill="#000" text-anchor="start" font-weight="bold" >k</text>
<rect x="378.10" y="504.00" width="86.30" height="11.20" fill="#fff" stroke="#8c8c8c" stroke-width="1" />
<text x="421.3" y="513.6" font-size="11.15" fill="#000" text-anchor="middle" font-weight="normal" >OVSAHO, fixed</text>
<rect x="378.10" y="515.60" width="86.30" height="99.80" fill="#fff" stroke="#8c8c8c" stroke-width="1" />
<line x1="378.10" y1="515.60" x2="464.40" y2="515.60" stroke="#777" stroke-width="1.6" />
<line x1="378.10" y1="615.40" x2="380.10" y2="615.40" stroke="#8c8c8c" stroke-width="0.8" />
<text x="376.1" y="619.4" font-size="11.1" fill="#000" text-anchor="end" font-weight="normal" >0</text>
<line x1="378.10" y1="582.50" x2="380.10" y2="582.50" stroke="#8c8c8c" stroke-width="0.8" />
<text x="376.1" y="586.5" font-size="11.1" fill="#000" text-anchor="end" font-weight="normal" >10</text>
<line x1="378.10" y1="549.60" x2="380.10" y2="549.60" stroke="#8c8c8c" stroke-width="0.8" />
<text x="376.1" y="553.6" font-size="11.1" fill="#000" text-anchor="end" font-weight="normal" >20</text>
<line x1="378.10" y1="516.70" x2="380.10" y2="516.70" stroke="#8c8c8c" stroke-width="0.8" />
<text x="376.1" y="520.7" font-size="11.1" fill="#000" text-anchor="end" font-weight="normal" >30</text>
<line x1="378.10" y1="598.95" x2="379.30" y2="598.95" stroke="#8c8c8c" stroke-width="0.6" />
<line x1="378.10" y1="566.05" x2="379.30" y2="566.05" stroke="#8c8c8c" stroke-width="0.6" />
<line x1="378.10" y1="533.15" x2="379.30" y2="533.15" stroke="#8c8c8c" stroke-width="0.6" />
<rect x="389.80" y="572.00" width="20.50" height="43.40" fill="#bfbfbf" stroke="#7d7d7d" stroke-width="0.8" />
<line x1="400.00" y1="565.80" x2="400.00" y2="578.60" stroke="#111" stroke-width="0.7" /><line x1="399.10" y1="565.80" x2="400.90" y2="565.80" stroke="#111" stroke-width="0.7" /><line x1="399.10" y1="578.60" x2="400.90" y2="578.60" stroke="#111" stroke-width="0.7" />
<rect x="432.40" y="604.90" width="20.80" height="10.50" fill="#00877a" stroke="#3d6f6a" stroke-width="0.8" />
<line x1="442.80" y1="601.40" x2="442.80" y2="608.40" stroke="#111" stroke-width="0.7" /><line x1="441.90" y1="601.40" x2="443.70" y2="601.40" stroke="#111" stroke-width="0.7" /><line x1="441.90" y1="608.40" x2="443.70" y2="608.40" stroke="#111" stroke-width="0.7" />
<polyline points="399.80,541.40 399.80,539.40 442.70,539.40 442.70,541.40" fill="none" stroke="#666" stroke-width="0.8" />
<text x="421.4" y="536.6" font-size="8.3" text-anchor="middle" fill="#000">p=2·10<tspan font-size="5" dy="-3">-8</tspan></text>
<text x="399.8" y="626.8" font-size="11.1" fill="#000" text-anchor="middle" font-weight="normal" >Untrea.</text>
<text x="442.7" y="626.8" font-size="11.1" fill="#000" text-anchor="middle" font-weight="normal" >KIF4A</text>
<text x="442.7" y="638.0" font-size="11.1" fill="#000" text-anchor="middle" font-weight="normal" >siRNA</text>
<text transform="translate(348.8,565.8) rotate(-90)" font-size="11.1" fill="#000" text-anchor="middle" font-weight="normal">% of metaphase cells</text>
<text transform="translate(362.3,565.8) rotate(-90)" font-size="11.1" fill="#000" text-anchor="middle" font-weight="normal">with polar chromosomes</text>
</g>
<g id="panel-l">
<text x="501.3" y="263.8" font-size="13.5" fill="#000" text-anchor="start" font-weight="bold" >l</text>
<rect x="512.00" y="251.00" width="167.00" height="15.60" fill="#d4d4d4" stroke="none" stroke-width="1" />
<text x="595.5" y="262.6" font-size="11.15" fill="#000" text-anchor="middle" font-weight="normal" >Healthy cells</text>
<rect x="477.30" y="268.20" width="15.50" height="85.00" fill="#d4d4d4" stroke="none" stroke-width="1" />
<rect x="477.30" y="355.70" width="15.50" height="85.60" fill="#d4d4d4" stroke="none" stroke-width="1" />
<rect x="494.70" y="268.20" width="15.40" height="173.10" fill="#d4d4d4" stroke="none" stroke-width="1" />
<text transform="translate(489.2,310.5) rotate(-90)" font-size="11.1" fill="#000" text-anchor="middle" font-weight="normal">Early</text>
<text transform="translate(489.2,398.0) rotate(-90)" font-size="11.1" fill="#000" text-anchor="middle" font-weight="normal">Late</text>
<text transform="translate(506.3,354.5) rotate(-90)" font-size="11.1" fill="#000" text-anchor="middle" font-weight="normal">Prometaphase</text>
<rect x="512.40" y="268.20" width="166.60" height="172.90" fill="#fff" stroke="#8a8a8a" stroke-width="1" />
<rect x="512.00" y="445.60" width="167.40" height="23.10" fill="#d4d4d4" stroke="none" stroke-width="1" />
<text x="595.7" y="455.4" font-size="11.15" fill="#000" text-anchor="middle" font-weight="normal" >Cancer cells with</text>
<text x="595.7" y="466.4" font-size="11.15" fill="#000" text-anchor="middle" font-weight="normal" >impaired spindle elongation</text>
<rect x="477.30" y="470.20" width="15.50" height="80.40" fill="#d4d4d4" stroke="none" stroke-width="1" />
<rect x="477.30" y="552.80" width="15.50" height="80.60" fill="#d4d4d4" stroke="none" stroke-width="1" />
<rect x="494.70" y="470.20" width="15.40" height="163.20" fill="#d4d4d4" stroke="none" stroke-width="1" />
<text transform="translate(489.2,510.5) rotate(-90)" font-size="11.1" fill="#000" text-anchor="middle" font-weight="normal">Early</text>
<text transform="translate(489.2,593.0) rotate(-90)" font-size="11.1" fill="#000" text-anchor="middle" font-weight="normal">Late</text>
<text transform="translate(506.3,551.5) rotate(-90)" font-size="11.1" fill="#000" text-anchor="middle" font-weight="normal">Prometaphase</text>
<rect x="512.40" y="470.20" width="166.60" height="162.90" fill="#fff" stroke="#8a8a8a" stroke-width="1" />
<g clip-path="url(#cl1)">
<polyline points="565.70,312.30 568.27,310.24 570.82,308.35 573.37,306.64 575.91,305.09 578.45,303.71 580.97,302.51 583.48,301.48 585.99,300.61 588.49,299.92 590.98,299.40 593.46,299.05 595.93,298.87 598.39,298.86 600.85,299.03 603.29,299.36 605.73,299.86" fill="none" stroke="#adadad" stroke-width="0.55" /><polyline points="565.70,312.30 568.08,310.67 570.45,309.16 572.80,307.78 575.15,306.52 577.49,305.38 579.82,304.36 582.14,303.47 584.44,302.70 586.74,302.05 589.03,301.53 591.31,301.13 593.57,300.85 595.83,300.69 598.08,300.66 600.32,300.75 602.54,300.96" fill="none" stroke="#adadad" stroke-width="0.55" /><polyline points="565.70,312.30 569.70,310.04 573.69,308.08 577.65,306.43 581.60,305.07 585.53,304.02 589.44,303.26 593.33,302.81 597.20,302.66 601.05,302.81 604.89,303.26 608.70,304.02 612.50,305.07 616.28,306.43 620.04,308.08 623.78,310.04 627.50,312.30" fill="none" stroke="#adadad" stroke-width="0.55" /><polyline points="565.70,312.30 569.52,310.53 573.34,309.00 577.17,307.70 581.00,306.64 584.85,305.82 588.69,305.23 592.55,304.88 596.41,304.76 600.27,304.88 604.14,305.23 608.02,305.82 611.90,306.64 615.79,307.70 619.69,309.00 623.59,310.53 627.50,312.30" fill="none" stroke="#adadad" stroke-width="0.55" /><polyline points="565.70,312.30 569.21,311.02 572.76,309.91 576.37,308.97 580.02,308.20 583.72,307.60 587.46,307.18 591.25,306.92 595.09,306.84 598.98,306.92 602.91,307.18 606.89,307.60 610.92,308.20 614.99,308.97 619.11,309.91 623.28,311.02 627.50,312.30" fill="none" stroke="#adadad" stroke-width="0.55" /><polyline points="565.70,312.30 569.48,311.61 573.27,311.02 577.07,310.51 580.88,310.10 584.70,309.78 588.54,309.55 592.38,309.41 596.24,309.36 600.11,309.41 603.99,309.55 607.88,309.78 611.78,310.10 615.69,310.51 619.62,311.02 623.55,311.61 627.50,312.30" fill="none" stroke="#adadad" stroke-width="0.55" /><polyline points="584.22,312.30 587.13,312.30 590.01,312.30 592.87,312.30 595.70,312.30 598.50,312.30 601.27,312.30 604.02,312.30 606.74,312.30 609.43,312.30 612.09,312.30 614.73,312.30 617.34,312.30 619.92,312.30 622.47,312.30 625.00,312.30 627.50,312.30" fill="none" stroke="#adadad" stroke-width="0.55" /><polyline points="565.70,312.30 568.45,312.80 571.20,313.26 573.95,313.67 576.69,314.03 579.43,314.35 582.17,314.62 584.90,314.84 587.64,315.02 590.37,315.15 593.09,315.24 595.82,315.28 598.54,315.27 601.26,315.22 603.97,315.12 606.69,314.97 609.40,314.78" fill="none" stroke="#adadad" stroke-width="0.55" /><polyline points="565.70,312.30 569.44,313.64 573.19,314.79 576.96,315.77 580.75,316.58 584.55,317.20 588.37,317.65 592.21,317.91 596.06,318.00 599.94,317.91 603.82,317.65 607.73,317.20 611.65,316.58 615.59,315.77 619.54,314.79 623.51,313.64 627.50,312.30" fill="none" stroke="#adadad" stroke-width="0.55" /><polyline points="565.70,312.30 569.99,314.08 574.22,315.62 578.39,316.92 582.51,317.99 586.57,318.82 590.57,319.41 594.52,319.76 598.41,319.88 602.25,319.76 606.02,319.41 609.75,318.82 613.41,317.99 617.02,316.92 620.57,315.62 624.06,314.08 627.50,312.30" fill="none" stroke="#adadad" stroke-width="0.55" /><polyline points="565.70,312.30 569.88,314.54 574.02,316.48 578.12,318.12 582.17,319.46 586.19,320.50 590.16,321.25 594.08,321.70 597.97,321.85 601.81,321.70 605.61,321.25 609.36,320.50 613.07,319.46 616.74,318.12 620.37,316.48 623.96,314.54 627.50,312.30" fill="none" stroke="#adadad" stroke-width="0.55" /><polyline points="565.70,312.30 568.87,314.55 572.02,316.57 575.15,318.35 578.27,319.91 581.37,321.24 584.45,322.34 587.52,323.20 590.58,323.84 593.61,324.25 596.63,324.43 599.64,324.37 602.63,324.09 605.60,323.58 608.55,322.84 611.49,321.86 614.42,320.66" fill="none" stroke="#adadad" stroke-width="0.55" /><polyline points="565.70,312.30 569.32,315.50 572.97,318.27 576.65,320.62 580.37,322.54 584.12,324.04 587.90,325.10 591.71,325.74 595.56,325.96 599.44,325.74 603.35,325.10 607.29,324.04 611.27,322.54 615.28,320.62 619.32,318.27 623.39,315.50 627.50,312.30" fill="none" stroke="#adadad" stroke-width="0.55" />
<line x1="567.20" y1="312.22" x2="595.37" y2="310.77" stroke="#adadad" stroke-width="0.55" /><line x1="567.17" y1="312.61" x2="595.79" y2="318.58" stroke="#adadad" stroke-width="0.55" /><line x1="567.04" y1="312.97" x2="599.85" y2="329.45" stroke="#adadad" stroke-width="0.55" /><line x1="566.82" y1="313.29" x2="596.09" y2="339.22" stroke="#adadad" stroke-width="0.55" /><line x1="566.57" y1="313.52" x2="587.38" y2="342.81" stroke="#adadad" stroke-width="0.55" /><line x1="566.38" y1="313.64" x2="577.94" y2="336.36" stroke="#adadad" stroke-width="0.55" /><line x1="566.01" y1="313.77" x2="572.65" y2="344.84" stroke="#adadad" stroke-width="0.55" /><line x1="565.67" y1="313.80" x2="565.20" y2="337.88" stroke="#adadad" stroke-width="0.55" /><line x1="565.42" y1="313.77" x2="558.21" y2="351.24" stroke="#adadad" stroke-width="0.55" /><line x1="565.03" y1="313.64" x2="549.79" y2="344.39" stroke="#adadad" stroke-width="0.55" /><line x1="564.82" y1="313.51" x2="547.62" y2="337.22" stroke="#adadad" stroke-width="0.55" /><line x1="564.49" y1="313.18" x2="537.33" y2="332.86" stroke="#adadad" stroke-width="0.55" /><line x1="564.31" y1="312.88" x2="540.44" y2="322.79" stroke="#adadad" stroke-width="0.55" /><line x1="564.24" y1="312.64" x2="529.08" y2="320.85" stroke="#adadad" stroke-width="0.55" /><line x1="564.20" y1="312.31" x2="528.29" y2="312.53" stroke="#adadad" stroke-width="0.55" /><line x1="564.24" y1="311.96" x2="540.39" y2="306.34" stroke="#adadad" stroke-width="0.55" /><line x1="564.32" y1="311.71" x2="528.26" y2="296.30" stroke="#adadad" stroke-width="0.55" /><line x1="564.49" y1="311.42" x2="543.65" y2="296.21" stroke="#adadad" stroke-width="0.55" /><line x1="564.74" y1="311.14" x2="542.66" y2="284.47" stroke="#adadad" stroke-width="0.55" /><line x1="565.10" y1="310.92" x2="552.94" y2="282.86" stroke="#adadad" stroke-width="0.55" /><line x1="565.37" y1="310.84" x2="557.37" y2="275.84" stroke="#adadad" stroke-width="0.55" /><line x1="565.66" y1="310.80" x2="564.94" y2="281.98" stroke="#adadad" stroke-width="0.55" /><line x1="566.05" y1="310.84" x2="573.88" y2="278.46" stroke="#adadad" stroke-width="0.55" /><line x1="566.28" y1="310.92" x2="575.72" y2="288.41" stroke="#adadad" stroke-width="0.55" /><line x1="566.59" y1="311.09" x2="587.18" y2="283.00" stroke="#adadad" stroke-width="0.55" /><line x1="566.89" y1="311.39" x2="597.94" y2="287.71" stroke="#adadad" stroke-width="0.55" /><line x1="567.07" y1="311.69" x2="591.58" y2="300.78" stroke="#adadad" stroke-width="0.55" /><line x1="567.17" y1="312.01" x2="605.68" y2="304.42" stroke="#adadad" stroke-width="0.55" />
<line x1="629.00" y1="312.27" x2="651.69" y2="311.89" stroke="#adadad" stroke-width="0.55" /><line x1="628.97" y1="312.61" x2="655.67" y2="318.32" stroke="#adadad" stroke-width="0.55" /><line x1="628.87" y1="312.90" x2="650.19" y2="322.23" stroke="#adadad" stroke-width="0.55" /><line x1="628.71" y1="313.19" x2="658.75" y2="335.14" stroke="#adadad" stroke-width="0.55" /><line x1="628.49" y1="313.42" x2="650.30" y2="338.11" stroke="#adadad" stroke-width="0.55" /><line x1="628.19" y1="313.63" x2="640.14" y2="336.48" stroke="#adadad" stroke-width="0.55" /><line x1="627.78" y1="313.77" x2="632.95" y2="340.86" stroke="#adadad" stroke-width="0.55" /><line x1="627.55" y1="313.80" x2="628.63" y2="344.01" stroke="#adadad" stroke-width="0.55" /><line x1="627.13" y1="313.75" x2="619.48" y2="344.22" stroke="#adadad" stroke-width="0.55" /><line x1="626.80" y1="313.62" x2="613.02" y2="339.51" stroke="#adadad" stroke-width="0.55" /><line x1="626.56" y1="313.47" x2="604.86" y2="340.53" stroke="#adadad" stroke-width="0.55" /><line x1="626.33" y1="313.24" x2="599.30" y2="334.99" stroke="#adadad" stroke-width="0.55" /><line x1="626.15" y1="312.96" x2="603.87" y2="323.79" stroke="#adadad" stroke-width="0.55" /><line x1="626.05" y1="312.70" x2="591.51" y2="322.13" stroke="#adadad" stroke-width="0.55" /><line x1="626.00" y1="312.26" x2="587.49" y2="311.20" stroke="#adadad" stroke-width="0.55" /><line x1="626.05" y1="311.94" x2="594.66" y2="304.06" stroke="#adadad" stroke-width="0.55" /><line x1="626.13" y1="311.70" x2="592.21" y2="296.90" stroke="#adadad" stroke-width="0.55" /><line x1="626.29" y1="311.42" x2="602.28" y2="293.89" stroke="#adadad" stroke-width="0.55" /><line x1="626.52" y1="311.17" x2="607.56" y2="289.26" stroke="#adadad" stroke-width="0.55" /><line x1="626.82" y1="310.96" x2="613.34" y2="284.46" stroke="#adadad" stroke-width="0.55" /><line x1="627.20" y1="310.83" x2="620.88" y2="279.76" stroke="#adadad" stroke-width="0.55" /><line x1="627.46" y1="310.80" x2="626.43" y2="275.08" stroke="#adadad" stroke-width="0.55" /><line x1="627.87" y1="310.85" x2="636.95" y2="275.43" stroke="#adadad" stroke-width="0.55" /><line x1="628.08" y1="310.92" x2="640.80" y2="280.52" stroke="#adadad" stroke-width="0.55" /><line x1="628.49" y1="311.17" x2="646.17" y2="290.90" stroke="#adadad" stroke-width="0.55" /><line x1="628.64" y1="311.33" x2="656.28" y2="287.73" stroke="#adadad" stroke-width="0.55" /><line x1="628.84" y1="311.63" x2="655.06" y2="298.50" stroke="#adadad" stroke-width="0.55" /><line x1="628.97" y1="312.02" x2="657.49" y2="306.57" stroke="#adadad" stroke-width="0.55" />
<line x1="585.00" y1="275.00" x2="620.00" y2="305.00" stroke="#adadad" stroke-width="0.55" /><line x1="612.00" y1="272.00" x2="578.00" y2="304.00" stroke="#adadad" stroke-width="0.55" /><line x1="600.00" y1="345.00" x2="625.00" y2="322.00" stroke="#adadad" stroke-width="0.55" /><line x1="596.00" y1="340.00" x2="572.00" y2="320.00" stroke="#adadad" stroke-width="0.5" />
<circle cx="567.2" cy="312.3" r="4.5" fill="url(#halo)"/><polyline points="562.50,311.40 565.70,313.80 568.90,309.50" fill="none" stroke="#8a8a8a" stroke-width="1.9" stroke-linejoin="miter"/>
<circle cx="629.0" cy="312.3" r="4.5" fill="url(#halo)"/><polyline points="624.30,311.40 627.50,313.80 630.70,309.50" fill="none" stroke="#8a8a8a" stroke-width="1.9" stroke-linejoin="miter"/>
<path d="M542.5,275.8 C543.2,283.6 547.0,290.5 554.3,293.0" fill="none" stroke="#adadad" stroke-width="5.5" stroke-linecap="round"/><path d="M542.5,275.8 C543.2,283.6 547.0,290.5 554.3,293.0" fill="none" stroke="#8c8c8c" stroke-width="3.7" stroke-linecap="round"/><path d="M538.2,279.7 C539.0,288.0 544.6,295.6 555.8,296.6" fill="none" stroke="#adadad" stroke-width="5.5" stroke-linecap="round"/><path d="M538.2,279.7 C539.0,288.0 544.6,295.6 555.8,296.6" fill="none" stroke="#8c8c8c" stroke-width="3.7" stroke-linecap="round"/>
<line x1="548.20" y1="279.30" x2="564.80" y2="309.10" stroke="#f3983a" stroke-width="0.9" />
<circle cx="555.00" cy="293.00" r="2.00" fill="#08c6f2" stroke="#1b9bd8" stroke-width="0.7" /><circle cx="557.50" cy="296.30" r="2.00" fill="#08c6f2" stroke="#1b9bd8" stroke-width="0.7" />
<polyline points="534.60,395.80 539.59,390.70 544.57,386.02 549.52,381.75 554.46,377.88 559.38,374.43 564.29,371.39 569.17,368.77 574.04,366.55 578.89,364.75 583.72,363.36 588.54,362.37 593.34,361.80 598.12,361.65 602.88,361.90 607.63,362.57 612.35,363.64" fill="none" stroke="#adadad" stroke-width="0.6" /><polyline points="534.60,395.80 541.54,388.10 548.57,381.43 555.71,375.79 562.95,371.17 570.28,367.58 577.72,365.01 585.26,363.47 592.90,362.96 600.63,363.47 608.47,365.01 616.41,367.58 624.45,371.17 632.59,375.79 640.82,381.43 649.16,388.10 657.60,395.80" fill="none" stroke="#adadad" stroke-width="0.6" /><polyline points="534.60,395.80 542.25,388.60 549.91,382.36 557.57,377.07 565.24,372.75 572.91,369.39 580.58,366.99 588.26,365.55 595.95,365.07 603.64,365.55 611.33,366.99 619.03,369.39 626.74,372.75 634.45,377.07 642.16,382.36 649.88,388.60 657.60,395.80" fill="none" stroke="#adadad" stroke-width="0.6" /><polyline points="534.60,395.80 541.90,388.88 549.26,382.89 556.66,377.82 564.12,373.67 571.63,370.44 579.18,368.13 586.80,366.75 594.46,366.29 602.17,366.75 609.93,368.13 617.75,370.44 625.62,373.67 633.54,377.82 641.51,382.89 649.53,388.88 657.60,395.80" fill="none" stroke="#adadad" stroke-width="0.6" /><polyline points="534.60,395.80 539.50,391.48 544.43,387.54 549.37,383.98 554.33,380.79 559.32,377.98 564.33,375.55 569.35,373.50 574.40,371.82 579.47,370.51 584.56,369.59 589.67,369.04 594.81,368.86 599.96,369.06 605.13,369.64 610.33,370.60 615.54,371.93" fill="none" stroke="#adadad" stroke-width="0.6" /><polyline points="534.60,395.80 538.34,392.69 542.08,389.78 545.83,387.07 549.59,384.56 553.35,382.25 557.12,380.14 560.90,378.23 564.69,376.53 568.48,375.02 572.28,373.71 576.09,372.61 579.90,371.71 583.72,371.01 587.55,370.50 591.38,370.20 595.22,370.10" fill="none" stroke="#adadad" stroke-width="0.6" /><polyline points="592.92,371.56 597.00,371.47 601.08,371.60 605.15,371.94 609.21,372.49 613.27,373.25 617.33,374.23 621.38,375.43 625.42,376.83 629.46,378.46 633.50,380.29 637.53,382.34 641.55,384.60 645.57,387.08 649.59,389.77 653.60,392.68 657.60,395.80" fill="none" stroke="#adadad" stroke-width="0.6" /><polyline points="534.60,395.80 541.83,390.71 549.11,386.30 556.46,382.56 563.87,379.51 571.35,377.13 578.88,375.44 586.47,374.42 594.13,374.08 601.85,374.42 609.63,375.44 617.47,377.13 625.37,379.51 633.34,382.56 641.36,386.30 649.45,390.71 657.60,395.80" fill="none" stroke="#adadad" stroke-width="0.6" /><polyline points="534.60,395.80 542.36,391.09 550.11,387.01 557.85,383.56 565.58,380.74 573.30,378.54 581.01,376.97 588.71,376.03 596.40,375.72 604.08,376.03 611.76,376.97 619.42,378.54 627.08,380.74 634.72,383.56 642.36,387.01 649.98,391.09 657.60,395.80" fill="none" stroke="#adadad" stroke-width="0.6" /><polyline points="534.60,395.80 539.60,392.84 544.64,390.16 549.71,387.74 554.82,385.60 559.96,383.72 565.14,382.12 570.36,380.79 575.61,379.73 580.89,378.94 586.21,378.42 591.57,378.17 596.96,378.20 602.39,378.49 607.85,379.06 613.35,379.89 618.88,381.00" fill="none" stroke="#adadad" stroke-width="0.6" /><polyline points="534.60,395.80 543.05,392.12 551.40,388.93 559.65,386.24 567.79,384.03 575.84,382.31 583.78,381.09 591.62,380.35 599.36,380.11 606.99,380.35 614.53,381.09 621.96,382.31 629.29,384.03 636.52,386.24 643.65,388.93 650.68,392.12 657.60,395.80" fill="none" stroke="#adadad" stroke-width="0.6" /><polyline points="534.60,395.80 542.91,392.53 551.13,389.70 559.27,387.30 567.33,385.34 575.31,383.81 583.20,382.72 591.02,382.07 598.74,381.85 606.39,382.07 613.95,382.72 621.44,383.81 628.83,385.34 636.15,387.30 643.38,389.70 650.53,392.53 657.60,395.80" fill="none" stroke="#adadad" stroke-width="0.6" /><polyline points="582.58,384.96 587.31,384.63 592.03,384.44 596.74,384.38 601.45,384.45 606.16,384.66 610.86,385.00 615.55,385.48 620.24,386.09 624.93,386.83 629.61,387.71 634.29,388.72 638.96,389.87 643.63,391.15 648.29,392.57 652.95,394.12 657.60,395.80" fill="none" stroke="#adadad" stroke-width="0.6" /><polyline points="586.63,386.78 590.92,386.67 595.24,386.64 599.57,386.71 603.92,386.87 608.29,387.11 612.68,387.45 617.09,387.88 621.51,388.40 625.96,389.01 630.42,389.71 634.91,390.50 639.41,391.38 643.93,392.35 648.47,393.41 653.02,394.56 657.60,395.80" fill="none" stroke="#adadad" stroke-width="0.6" /><polyline points="534.60,395.80 541.28,394.39 547.93,393.13 554.55,392.02 561.15,391.08 567.71,390.29 574.24,389.65 580.75,389.17 587.22,388.84 593.66,388.67 600.08,388.66 606.46,388.80 612.82,389.10 619.15,389.55 625.44,390.16 631.71,390.92 637.95,391.84" fill="none" stroke="#adadad" stroke-width="0.6" /><polyline points="534.60,395.80 542.80,394.75 550.93,393.83 559.00,393.06 566.99,392.43 574.92,391.94 582.78,391.59 590.57,391.38 598.29,391.31 605.94,391.38 613.53,391.59 621.04,391.94 628.49,392.43 635.87,393.06 643.18,393.83 650.43,394.75 657.60,395.80" fill="none" stroke="#adadad" stroke-width="0.6" /><polyline points="577.43,394.29 582.84,394.20 588.19,394.13 593.49,394.09 598.74,394.07 603.93,394.08 609.08,394.11 614.17,394.17 619.20,394.25 624.19,394.36 629.12,394.49 634.00,394.65 638.82,394.83 643.60,395.03 648.32,395.26 652.99,395.52 657.60,395.80" fill="none" stroke="#adadad" stroke-width="0.6" /><polyline points="534.60,395.80 538.79,396.06 543.02,396.29 547.29,396.50 551.60,396.70 555.95,396.87 560.34,397.03 564.77,397.16 569.23,397.27 573.74,397.37 578.28,397.44 582.86,397.49 587.48,397.53 592.14,397.54 596.84,397.53 601.58,397.51 606.36,397.46" fill="none" stroke="#adadad" stroke-width="0.6" /><polyline points="534.60,395.80 542.18,396.86 549.78,397.78 557.39,398.56 565.02,399.19 572.66,399.69 580.31,400.04 587.98,400.26 595.66,400.33 603.35,400.26 611.06,400.04 618.78,399.69 626.52,399.19 634.27,398.56 642.03,397.78 649.81,396.86 657.60,395.80" fill="none" stroke="#adadad" stroke-width="0.6" /><polyline points="534.60,395.80 540.52,397.07 546.45,398.21 552.39,399.22 558.34,400.10 564.29,400.84 570.26,401.46 576.23,401.95 582.21,402.31 588.20,402.54 594.20,402.63 600.20,402.60 606.22,402.44 612.24,402.14 618.27,401.72 624.31,401.16 630.36,400.48" fill="none" stroke="#adadad" stroke-width="0.6" /><polyline points="534.60,395.80 542.61,397.99 550.57,399.89 558.50,401.50 566.38,402.82 574.21,403.84 582.01,404.57 589.76,405.01 597.47,405.15 605.14,405.01 612.76,404.57 620.34,403.84 627.88,402.82 635.37,401.50 642.82,399.89 650.23,397.99 657.60,395.80" fill="none" stroke="#adadad" stroke-width="0.6" /><polyline points="534.60,395.80 542.68,398.61 550.71,401.04 558.68,403.10 566.61,404.78 574.48,406.09 582.30,407.02 590.06,407.58 597.78,407.77 605.44,407.58 613.05,407.02 620.60,406.09 628.11,404.78 635.56,403.10 642.96,401.04 650.31,398.61 657.60,395.80" fill="none" stroke="#adadad" stroke-width="0.6" /><polyline points="534.60,395.80 539.03,397.54 543.43,399.17 547.81,400.67 552.16,402.06 556.49,403.32 560.80,404.47 565.09,405.49 569.35,406.40 573.59,407.18 577.80,407.85 582.00,408.39 586.16,408.82 590.31,409.13 594.43,409.31 598.53,409.38 602.60,409.33" fill="none" stroke="#adadad" stroke-width="0.6" /><polyline points="534.60,395.80 543.00,399.38 551.30,402.49 559.51,405.12 567.62,407.27 575.64,408.94 583.56,410.14 591.39,410.85 599.12,411.09 606.76,410.85 614.31,410.14 621.76,408.94 629.12,407.27 636.38,405.12 643.55,402.49 650.62,399.38 657.60,395.80" fill="none" stroke="#adadad" stroke-width="0.6" /><polyline points="573.78,410.52 579.40,411.65 584.97,412.51 590.49,413.09 595.95,413.40 601.37,413.43 606.74,413.20 612.05,412.69 617.31,411.90 622.53,410.85 627.69,409.52 632.80,407.91 637.86,406.04 642.87,403.89 647.83,401.46 652.74,398.77 657.60,395.80" fill="none" stroke="#adadad" stroke-width="0.6" /><polyline points="534.60,395.80 541.49,400.54 548.49,404.64 555.59,408.12 562.80,410.96 570.11,413.17 577.53,414.75 585.06,415.69 592.70,416.01 600.44,415.69 608.28,414.75 616.24,413.17 624.30,410.96 632.46,408.12 640.74,404.64 649.11,400.54 657.60,395.80" fill="none" stroke="#adadad" stroke-width="0.6" /><polyline points="534.60,395.80 542.12,401.03 549.66,405.55 557.22,409.39 564.80,412.52 572.41,414.96 580.04,416.70 587.70,417.75 595.37,418.09 603.07,417.75 610.79,416.70 618.54,414.96 626.30,412.52 634.09,409.39 641.91,405.55 649.74,401.03 657.60,395.80" fill="none" stroke="#adadad" stroke-width="0.6" /><polyline points="534.60,395.80 543.00,401.53 551.30,406.49 559.51,410.69 567.62,414.13 575.64,416.80 583.56,418.71 591.39,419.86 599.13,420.24 606.77,419.86 614.31,418.71 621.77,416.80 629.12,414.13 636.38,410.69 643.55,406.49 650.62,401.53 657.60,395.80" fill="none" stroke="#adadad" stroke-width="0.6" /><polyline points="534.60,395.80 542.16,401.95 549.74,407.28 557.34,411.79 564.95,415.48 572.58,418.35 580.23,420.40 587.89,421.63 595.57,422.04 603.27,421.63 610.98,420.40 618.71,418.35 626.45,415.48 634.21,411.79 641.99,407.28 649.79,401.95 657.60,395.80" fill="none" stroke="#adadad" stroke-width="0.6" /><polyline points="534.60,395.80 542.21,402.31 549.83,407.95 557.45,412.72 565.09,416.63 572.74,419.66 580.40,421.83 588.08,423.13 595.76,423.57 603.45,423.13 611.15,421.83 618.87,419.66 626.59,416.63 634.33,412.72 642.08,407.95 649.83,402.31 657.60,395.80" fill="none" stroke="#adadad" stroke-width="0.6" /><polyline points="534.60,395.80 542.93,402.52 551.17,408.34 559.33,413.26 567.40,417.29 575.39,420.43 583.29,422.66 591.11,424.01 598.84,424.46 606.48,424.01 614.04,422.66 621.52,420.43 628.90,417.29 636.21,413.26 643.42,408.34 650.55,402.52 657.60,395.80" fill="none" stroke="#adadad" stroke-width="0.6" /><polyline points="534.60,395.80 539.16,400.71 543.75,405.22 548.37,409.32 553.01,413.01 557.67,416.30 562.36,419.19 567.08,421.67 571.82,423.75 576.58,425.42 581.37,426.69 586.19,427.55 591.03,428.01 595.90,428.06 600.79,427.71 605.70,426.95 610.65,425.79" fill="none" stroke="#adadad" stroke-width="0.6" /><polyline points="534.60,395.80 542.15,403.48 549.72,410.14 557.31,415.77 564.91,420.37 572.54,423.96 580.18,426.52 587.84,428.05 595.52,428.57 603.21,428.05 610.93,426.52 618.66,423.96 626.41,420.37 634.18,415.77 641.97,410.14 649.78,403.48 657.60,395.80" fill="none" stroke="#adadad" stroke-width="0.6" /><polyline points="573.07,424.99 578.49,427.07 583.90,428.64 589.29,429.69 594.66,430.21 600.01,430.21 605.34,429.69 610.65,428.65 615.94,427.09 621.21,425.00 626.47,422.40 631.70,419.27 636.92,415.62 642.12,411.45 647.30,406.75 652.46,401.54 657.60,395.80" fill="none" stroke="#adadad" stroke-width="0.6" />
<line x1="534.69" y1="397.30" x2="535.90" y2="416.37" stroke="#adadad" stroke-width="0.55" /><line x1="534.20" y1="397.24" x2="528.76" y2="416.64" stroke="#adadad" stroke-width="0.55" /><line x1="533.58" y1="396.90" x2="520.70" y2="410.69" stroke="#adadad" stroke-width="0.55" /><line x1="533.28" y1="396.51" x2="517.38" y2="404.98" stroke="#adadad" stroke-width="0.55" /><line x1="533.11" y1="395.99" x2="513.05" y2="398.56" stroke="#adadad" stroke-width="0.55" /><line x1="533.14" y1="395.46" x2="511.17" y2="390.36" stroke="#adadad" stroke-width="0.55" /><line x1="533.26" y1="395.13" x2="517.29" y2="387.22" stroke="#adadad" stroke-width="0.55" /><line x1="533.72" y1="394.58" x2="519.62" y2="375.05" stroke="#adadad" stroke-width="0.55" /><line x1="534.12" y1="394.38" x2="527.29" y2="374.07" stroke="#adadad" stroke-width="0.55" />
<line x1="657.60" y1="394.30" x2="657.58" y2="371.05" stroke="#adadad" stroke-width="0.55" /><line x1="657.96" y1="394.34" x2="663.98" y2="370.17" stroke="#adadad" stroke-width="0.55" /><line x1="658.50" y1="394.60" x2="675.56" y2="371.95" stroke="#adadad" stroke-width="0.55" /><line x1="658.90" y1="395.05" x2="682.53" y2="381.31" stroke="#adadad" stroke-width="0.55" /><line x1="659.05" y1="395.43" x2="684.66" y2="389.00" stroke="#adadad" stroke-width="0.55" /><line x1="659.07" y1="396.10" x2="686.93" y2="401.69" stroke="#adadad" stroke-width="0.55" /><line x1="658.83" y1="396.65" x2="678.77" y2="410.40" stroke="#adadad" stroke-width="0.55" /><line x1="658.52" y1="396.98" x2="675.27" y2="418.46" stroke="#adadad" stroke-width="0.55" /><line x1="658.13" y1="397.20" x2="666.73" y2="419.75" stroke="#adadad" stroke-width="0.55" />
<line x1="606.00" y1="350.00" x2="640.00" y2="372.00" stroke="#adadad" stroke-width="0.55" /><line x1="655.00" y1="368.00" x2="622.00" y2="350.00" stroke="#adadad" stroke-width="0.5" />
<line x1="565.70" y1="316.30" x2="565.70" y2="395.80" stroke="#74c4ef" stroke-width="1.0" stroke-dasharray="1.2 1.2"/>
<line x1="627.50" y1="316.30" x2="627.50" y2="395.80" stroke="#74c4ef" stroke-width="1.0" stroke-dasharray="1.2 1.2"/>
<circle cx="536.1" cy="395.8" r="4.5" fill="url(#halo)"/><polyline points="531.40,394.90 534.60,397.30 537.80,393.00" fill="none" stroke="#8a8a8a" stroke-width="1.9" stroke-linejoin="miter"/>
<circle cx="659.1" cy="395.8" r="4.5" fill="url(#halo)"/><polyline points="654.40,394.90 657.60,397.30 660.80,393.00" fill="none" stroke="#8a8a8a" stroke-width="1.9" stroke-linejoin="miter"/>
<path d="M542.4,353.0 C543.2,361.0 547.5,368.0 557.9,370.5" fill="none" stroke="#adadad" stroke-width="5.5" stroke-linecap="round"/><path d="M542.4,353.0 C543.2,361.0 547.5,368.0 557.9,370.5" fill="none" stroke="#8c8c8c" stroke-width="3.7" stroke-linecap="round"/><path d="M538.1,356.7 C539.2,365.5 544.2,372.3 554.6,373.2" fill="none" stroke="#adadad" stroke-width="5.5" stroke-linecap="round"/><path d="M538.1,356.7 C539.2,365.5 544.2,372.3 554.6,373.2" fill="none" stroke="#8c8c8c" stroke-width="3.7" stroke-linecap="round"/>
<path d="M537.2,392 Q548,376 570.7,364.2" fill="none" stroke="#f3983a" stroke-width="0.9"/>
<circle cx="558.50" cy="370.80" r="2.00" fill="#08c6f2" stroke="#1b9bd8" stroke-width="0.7" /><circle cx="555.00" cy="373.40" r="2.00" fill="#08c6f2" stroke="#1b9bd8" stroke-width="0.7" />
<line x1="565.70" y1="396.10" x2="544.00" y2="396.10" stroke="#36a9e1" stroke-width="1.7" /><polygon points="538.0,396.1 547.2,391.7 545.0,396.1 547.2,400.5" fill="#36a9e1"/>
<line x1="627.50" y1="396.10" x2="649.40" y2="396.10" stroke="#36a9e1" stroke-width="1.7" /><polygon points="655.4,396.1 646.2,391.7 648.4,396.1 646.2,400.5" fill="#36a9e1"/>
</g>
<g clip-path="url(#cl2)">
<polyline points="565.40,512.20 569.28,508.84 573.16,505.93 577.03,503.47 580.89,501.46 584.75,499.89 588.61,498.77 592.46,498.10 596.31,497.88 600.15,498.10 603.98,498.77 607.82,499.89 611.64,501.46 615.46,503.47 619.28,505.93 623.09,508.84 626.90,512.20" fill="none" stroke="#adadad" stroke-width="0.55" /><polyline points="565.40,512.20 569.04,509.31 572.70,506.81 576.39,504.69 580.11,502.95 583.85,501.60 587.63,500.64 591.43,500.06 595.26,499.87 599.12,500.06 603.00,500.64 606.92,501.60 610.86,502.95 614.83,504.69 618.82,506.81 622.85,509.31 626.90,512.20" fill="none" stroke="#adadad" stroke-width="0.55" /><polyline points="565.40,512.20 568.94,509.95 572.52,508.01 576.14,506.36 579.80,505.01 583.50,503.97 587.25,503.22 591.03,502.77 594.85,502.62 598.72,502.77 602.62,503.22 606.57,503.97 610.55,505.01 614.58,506.36 618.65,508.01 622.75,509.95 626.90,512.20" fill="none" stroke="#adadad" stroke-width="0.55" /><polyline points="565.40,512.20 569.27,510.31 573.14,508.67 577.01,507.29 580.87,506.16 584.73,505.27 588.58,504.64 592.43,504.27 596.28,504.14 600.12,504.27 603.96,504.64 607.79,505.27 611.62,506.16 615.45,507.29 619.27,508.67 623.09,510.31 626.90,512.20" fill="none" stroke="#adadad" stroke-width="0.55" /><polyline points="565.40,512.20 568.93,510.88 572.51,509.73 576.13,508.76 579.79,507.97 583.48,507.35 587.23,506.91 591.01,506.65 594.83,506.56 598.69,506.65 602.60,506.91 606.55,507.35 610.54,507.97 614.56,508.76 618.64,509.73 622.75,510.88 626.90,512.20" fill="none" stroke="#adadad" stroke-width="0.55" /><polyline points="565.40,512.20 567.73,511.72 570.07,511.28 572.44,510.88 574.82,510.52 577.22,510.21 579.64,509.93 582.08,509.70 584.53,509.51 587.01,509.36 589.50,509.25 592.01,509.18 594.54,509.16 597.09,509.18 599.66,509.23 602.24,509.33 604.85,509.47" fill="none" stroke="#adadad" stroke-width="0.55" /><polyline points="584.20,512.20 587.05,512.20 589.87,512.20 592.66,512.20 595.44,512.20 598.19,512.20 600.91,512.20 603.62,512.20 606.30,512.20 608.96,512.20 611.59,512.20 614.20,512.20 616.79,512.20 619.35,512.20 621.89,512.20 624.41,512.20 626.90,512.20" fill="none" stroke="#adadad" stroke-width="0.55" /><polyline points="585.92,514.95 588.54,515.11 591.16,515.23 593.77,515.30 596.37,515.33 598.96,515.32 601.54,515.26 604.12,515.15 606.68,515.00 609.24,514.81 611.79,514.57 614.33,514.29 616.86,513.96 619.38,513.58 621.90,513.17 624.40,512.71 626.90,512.20" fill="none" stroke="#adadad" stroke-width="0.55" /><polyline points="565.40,512.20 568.24,513.22 571.10,514.13 573.99,514.94 576.90,515.63 579.84,516.22 582.81,516.71 585.79,517.08 588.81,517.35 591.84,517.51 594.91,517.57 598.00,517.51 601.11,517.35 604.25,517.08 607.41,516.71 610.60,516.22 613.81,515.63" fill="none" stroke="#adadad" stroke-width="0.55" /><polyline points="565.40,512.20 569.32,514.05 573.24,515.65 577.14,517.01 581.03,518.12 584.91,518.99 588.78,519.60 592.64,519.97 596.49,520.10 600.33,519.97 604.15,519.60 607.97,518.99 611.78,518.12 615.57,517.01 619.36,515.65 623.14,514.05 626.90,512.20" fill="none" stroke="#adadad" stroke-width="0.55" /><polyline points="565.40,512.20 569.49,514.50 573.55,516.49 577.58,518.17 581.57,519.55 585.53,520.62 589.45,521.38 593.35,521.84 597.21,522.00 601.03,521.84 604.83,521.38 608.59,520.62 612.32,519.55 616.01,518.17 619.68,516.49 623.30,514.50 626.90,512.20" fill="none" stroke="#adadad" stroke-width="0.55" /><polyline points="565.40,512.20 569.36,514.91 573.31,517.27 577.24,519.26 581.15,520.88 585.05,522.15 588.94,523.06 592.80,523.60 596.65,523.78 600.49,523.60 604.31,523.06 608.11,522.15 611.90,520.88 615.68,519.26 619.43,517.27 623.17,514.91 626.90,512.20" fill="none" stroke="#adadad" stroke-width="0.55" /><polyline points="565.40,512.20 567.60,513.98 569.79,515.63 571.98,517.16 574.15,518.57 576.31,519.86 578.46,521.02 580.60,522.06 582.73,522.98 584.85,523.77 586.96,524.45 589.06,525.00 591.15,525.42 593.23,525.73 595.30,525.91 597.36,525.96 599.40,525.90" fill="none" stroke="#adadad" stroke-width="0.55" />
<line x1="566.90" y1="512.26" x2="595.29" y2="513.37" stroke="#adadad" stroke-width="0.55" /><line x1="566.87" y1="512.48" x2="590.20" y2="516.93" stroke="#adadad" stroke-width="0.55" /><line x1="566.76" y1="512.84" x2="591.71" y2="524.56" stroke="#adadad" stroke-width="0.55" /><line x1="566.62" y1="513.08" x2="589.00" y2="529.15" stroke="#adadad" stroke-width="0.55" /><line x1="566.29" y1="513.41" x2="580.34" y2="532.38" stroke="#adadad" stroke-width="0.55" /><line x1="566.07" y1="513.54" x2="579.92" y2="541.54" stroke="#adadad" stroke-width="0.55" /><line x1="565.79" y1="513.65" x2="571.78" y2="535.98" stroke="#adadad" stroke-width="0.55" /><line x1="565.47" y1="513.70" x2="566.66" y2="538.61" stroke="#adadad" stroke-width="0.55" /><line x1="564.99" y1="513.64" x2="554.81" y2="549.37" stroke="#adadad" stroke-width="0.55" /><line x1="564.72" y1="513.54" x2="547.54" y2="547.20" stroke="#adadad" stroke-width="0.55" /><line x1="564.49" y1="513.39" x2="548.23" y2="534.62" stroke="#adadad" stroke-width="0.55" /><line x1="564.19" y1="513.09" x2="537.71" y2="532.46" stroke="#adadad" stroke-width="0.55" /><line x1="564.02" y1="512.79" x2="537.69" y2="523.96" stroke="#adadad" stroke-width="0.55" /><line x1="563.94" y1="512.55" x2="530.18" y2="520.60" stroke="#adadad" stroke-width="0.55" /><line x1="563.90" y1="512.14" x2="538.61" y2="511.05" stroke="#adadad" stroke-width="0.55" /><line x1="563.93" y1="511.91" x2="541.64" y2="507.44" stroke="#adadad" stroke-width="0.55" /><line x1="564.05" y1="511.54" x2="529.75" y2="494.74" stroke="#adadad" stroke-width="0.55" /><line x1="564.23" y1="511.26" x2="544.79" y2="495.50" stroke="#adadad" stroke-width="0.55" /><line x1="564.49" y1="511.01" x2="544.14" y2="484.34" stroke="#adadad" stroke-width="0.55" /><line x1="564.69" y1="510.88" x2="546.68" y2="477.37" stroke="#adadad" stroke-width="0.55" /><line x1="565.09" y1="510.73" x2="558.77" y2="480.55" stroke="#adadad" stroke-width="0.55" /><line x1="565.37" y1="510.70" x2="564.93" y2="485.48" stroke="#adadad" stroke-width="0.55" /><line x1="565.73" y1="510.74" x2="572.02" y2="482.72" stroke="#adadad" stroke-width="0.55" /><line x1="566.01" y1="510.83" x2="579.63" y2="480.24" stroke="#adadad" stroke-width="0.55" /><line x1="566.36" y1="511.04" x2="591.05" y2="481.21" stroke="#adadad" stroke-width="0.55" /><line x1="566.62" y1="511.33" x2="591.37" y2="493.64" stroke="#adadad" stroke-width="0.55" /><line x1="566.77" y1="511.58" x2="593.08" y2="499.69" stroke="#adadad" stroke-width="0.55" /><line x1="566.86" y1="511.86" x2="598.14" y2="504.47" stroke="#adadad" stroke-width="0.55" />
<line x1="628.40" y1="512.28" x2="651.58" y2="513.53" stroke="#adadad" stroke-width="0.55" /><line x1="628.36" y1="512.53" x2="655.90" y2="518.69" stroke="#adadad" stroke-width="0.55" /><line x1="628.23" y1="512.90" x2="662.46" y2="530.85" stroke="#adadad" stroke-width="0.55" /><line x1="628.08" y1="513.13" x2="646.77" y2="527.95" stroke="#adadad" stroke-width="0.55" /><line x1="627.82" y1="513.38" x2="647.81" y2="539.00" stroke="#adadad" stroke-width="0.55" /><line x1="627.52" y1="513.56" x2="642.36" y2="546.04" stroke="#adadad" stroke-width="0.55" /><line x1="627.24" y1="513.66" x2="634.45" y2="544.67" stroke="#adadad" stroke-width="0.55" /><line x1="626.86" y1="513.70" x2="626.17" y2="536.65" stroke="#adadad" stroke-width="0.55" /><line x1="626.61" y1="513.67" x2="619.98" y2="547.21" stroke="#adadad" stroke-width="0.55" /><line x1="626.18" y1="513.51" x2="607.62" y2="547.29" stroke="#adadad" stroke-width="0.55" /><line x1="625.99" y1="513.40" x2="602.42" y2="544.49" stroke="#adadad" stroke-width="0.55" /><line x1="625.75" y1="513.16" x2="602.62" y2="532.57" stroke="#adadad" stroke-width="0.55" /><line x1="625.57" y1="512.90" x2="596.64" y2="528.23" stroke="#adadad" stroke-width="0.55" /><line x1="625.44" y1="512.55" x2="592.25" y2="520.55" stroke="#adadad" stroke-width="0.55" /><line x1="625.40" y1="512.12" x2="600.76" y2="510.86" stroke="#adadad" stroke-width="0.55" /><line x1="625.44" y1="511.84" x2="593.67" y2="504.00" stroke="#adadad" stroke-width="0.55" /><line x1="625.53" y1="511.58" x2="604.47" y2="502.09" stroke="#adadad" stroke-width="0.55" /><line x1="625.77" y1="511.21" x2="600.03" y2="488.52" stroke="#adadad" stroke-width="0.55" /><line x1="625.98" y1="511.01" x2="611.14" y2="491.85" stroke="#adadad" stroke-width="0.55" /><line x1="626.31" y1="510.82" x2="614.80" y2="483.89" stroke="#adadad" stroke-width="0.55" /><line x1="626.56" y1="510.74" x2="619.33" y2="479.61" stroke="#adadad" stroke-width="0.55" /><line x1="626.89" y1="510.70" x2="626.66" y2="471.99" stroke="#adadad" stroke-width="0.55" /><line x1="627.23" y1="510.74" x2="634.68" y2="477.54" stroke="#adadad" stroke-width="0.55" /><line x1="627.59" y1="510.87" x2="645.29" y2="476.83" stroke="#adadad" stroke-width="0.55" /><line x1="627.79" y1="510.99" x2="644.59" y2="488.25" stroke="#adadad" stroke-width="0.55" /><line x1="628.12" y1="511.33" x2="654.77" y2="492.19" stroke="#adadad" stroke-width="0.55" /><line x1="628.24" y1="511.53" x2="661.78" y2="494.79" stroke="#adadad" stroke-width="0.55" /><line x1="628.35" y1="511.80" x2="654.20" y2="504.73" stroke="#adadad" stroke-width="0.55" />
<line x1="585.00" y1="476.00" x2="620.00" y2="505.00" stroke="#adadad" stroke-width="0.55" /><line x1="612.00" y1="473.00" x2="578.00" y2="504.00" stroke="#adadad" stroke-width="0.55" /><line x1="598.00" y1="547.00" x2="624.00" y2="522.00" stroke="#adadad" stroke-width="0.55" /><line x1="596.00" y1="540.00" x2="572.00" y2="520.00" stroke="#adadad" stroke-width="0.5" />
<circle cx="566.9" cy="512.2" r="4.5" fill="url(#halo)"/><polyline points="562.20,511.30 565.40,513.70 568.60,509.40" fill="none" stroke="#8a8a8a" stroke-width="1.9" stroke-linejoin="miter"/>
<circle cx="628.4" cy="512.2" r="4.5" fill="url(#halo)"/><polyline points="623.70,511.30 626.90,513.70 630.10,509.40" fill="none" stroke="#8a8a8a" stroke-width="1.9" stroke-linejoin="miter"/>
<path d="M542.2,475.7 C542.9,483.5 546.7,490.4 554.0,492.9" fill="none" stroke="#adadad" stroke-width="5.5" stroke-linecap="round"/><path d="M542.2,475.7 C542.9,483.5 546.7,490.4 554.0,492.9" fill="none" stroke="#8c8c8c" stroke-width="3.7" stroke-linecap="round"/><path d="M537.9,479.6 C538.7,487.9 544.3,495.5 555.5,496.5" fill="none" stroke="#adadad" stroke-width="5.5" stroke-linecap="round"/><path d="M537.9,479.6 C538.7,487.9 544.3,495.5 555.5,496.5" fill="none" stroke="#8c8c8c" stroke-width="3.7" stroke-linecap="round"/>
<line x1="548.30" y1="479.20" x2="564.90" y2="510.80" stroke="#f3983a" stroke-width="0.9" />
<circle cx="554.70" cy="492.90" r="2.00" fill="#08c6f2" stroke="#1b9bd8" stroke-width="0.7" /><circle cx="557.20" cy="496.20" r="2.00" fill="#08c6f2" stroke="#1b9bd8" stroke-width="0.7" />
<polyline points="549.60,593.80 555.30,585.65 561.01,578.59 566.71,572.62 572.42,567.73 578.13,563.93 583.84,561.21 589.56,559.58 595.28,559.04 601.00,559.58 606.72,561.21 612.44,563.93 618.17,567.73 623.90,572.62 629.63,578.59 635.36,585.65 641.10,593.80" fill="none" stroke="#adadad" stroke-width="0.6" /><polyline points="572.27,569.38 576.73,566.34 581.17,563.91 585.58,562.09 589.98,560.88 594.35,560.27 598.71,560.28 603.04,560.89 607.35,562.11 611.64,563.94 615.91,566.38 620.16,569.43 624.39,573.09 628.60,577.35 632.79,582.23 636.95,587.71 641.10,593.80" fill="none" stroke="#adadad" stroke-width="0.6" /><polyline points="588.67,561.15 591.77,560.89 594.89,560.94 598.04,561.29 601.22,561.95 604.41,562.92 607.63,564.19 610.87,565.78 614.14,567.66 617.43,569.86 620.74,572.36 624.07,575.16 627.43,578.28 630.81,581.70 634.22,585.43 637.65,589.46 641.10,593.80" fill="none" stroke="#adadad" stroke-width="0.6" /><polyline points="549.60,593.80 552.74,589.81 555.87,586.10 559.00,582.67 562.13,579.52 565.25,576.65 568.37,574.06 571.49,571.75 574.61,569.71 577.72,567.96 580.83,566.48 583.94,565.29 587.04,564.37 590.14,563.73 593.24,563.37 596.34,563.29 599.43,563.49" fill="none" stroke="#adadad" stroke-width="0.6" /><polyline points="549.60,593.80 552.64,590.17 555.68,586.80 558.73,583.68 561.79,580.82 564.85,578.22 567.92,575.87 571.00,573.78 574.08,571.95 577.17,570.38 580.27,569.06 583.37,568.00 586.48,567.19 589.59,566.65 592.71,566.36 595.84,566.32 598.97,566.55" fill="none" stroke="#adadad" stroke-width="0.6" /><polyline points="568.16,576.88 572.94,573.78 577.69,571.24 582.42,569.25 587.11,567.82 591.77,566.94 596.41,566.62 601.01,566.84 605.59,567.62 610.13,568.96 614.64,570.85 619.13,573.29 623.58,576.28 628.01,579.83 632.40,583.93 636.77,588.59 641.10,593.80" fill="none" stroke="#adadad" stroke-width="0.6" /><polyline points="549.60,593.80 554.74,587.91 559.95,582.80 565.25,578.48 570.62,574.95 576.07,572.20 581.59,570.23 587.19,569.05 592.87,568.66 598.63,569.05 604.47,570.23 610.38,572.20 616.37,574.95 622.44,578.48 628.58,582.80 634.80,587.91 641.10,593.80" fill="none" stroke="#adadad" stroke-width="0.6" /><polyline points="595.29,571.89 598.17,571.96 601.04,572.20 603.91,572.62 606.79,573.21 609.65,573.97 612.52,574.91 615.39,576.02 618.25,577.30 621.11,578.75 623.97,580.38 626.83,582.19 629.69,584.16 632.54,586.31 635.40,588.64 638.25,591.13 641.10,593.80" fill="none" stroke="#adadad" stroke-width="0.6" /><polyline points="579.28,575.58 583.26,574.40 587.22,573.52 591.17,572.96 595.10,572.70 599.01,572.76 602.92,573.12 606.80,573.79 610.67,574.78 614.53,576.07 618.37,577.67 622.20,579.59 626.01,581.81 629.80,584.34 633.58,587.19 637.35,590.34 641.10,593.80" fill="none" stroke="#adadad" stroke-width="0.6" /><polyline points="549.60,593.80 555.74,589.58 561.82,585.92 567.84,582.82 573.81,580.29 579.73,578.32 585.59,576.91 591.39,576.07 597.13,575.78 602.83,576.07 608.46,576.91 614.04,578.32 619.56,580.29 625.03,582.82 630.44,585.92 635.80,589.58 641.10,593.80" fill="none" stroke="#adadad" stroke-width="0.6" /><polyline points="549.60,593.80 555.74,589.88 561.83,586.48 567.86,583.61 573.83,581.26 579.75,579.43 585.61,578.12 591.41,577.34 597.16,577.08 602.85,577.34 608.48,578.12 614.06,579.43 619.58,581.26 625.04,583.61 630.45,586.48 635.80,589.88 641.10,593.80" fill="none" stroke="#adadad" stroke-width="0.6" /><polyline points="549.60,593.80 555.00,590.35 560.44,587.36 565.92,584.84 571.44,582.77 577.01,581.16 582.62,580.01 588.28,579.32 593.97,579.09 599.71,579.32 605.50,580.01 611.32,581.16 617.19,582.77 623.10,584.84 629.06,587.36 635.06,590.35 641.10,593.80" fill="none" stroke="#adadad" stroke-width="0.6" /><polyline points="549.60,593.80 554.37,591.53 559.14,589.50 563.90,587.72 568.65,586.18 573.39,584.90 578.12,583.85 582.85,583.06 587.57,582.51 592.28,582.20 596.98,582.14 601.67,582.33 606.35,582.76 611.03,583.44 615.69,584.37 620.35,585.54 625.00,586.96" fill="none" stroke="#adadad" stroke-width="0.6" /><polyline points="549.60,593.80 555.56,591.52 561.50,589.55 567.39,587.88 573.26,586.51 579.09,585.45 584.89,584.69 590.66,584.24 596.40,584.08 602.10,584.24 607.77,584.69 613.41,585.45 619.01,586.51 624.58,587.88 630.12,589.55 635.63,591.52 641.10,593.80" fill="none" stroke="#adadad" stroke-width="0.6" /><polyline points="549.60,593.80 554.78,592.12 560.03,590.66 565.36,589.43 570.75,588.42 576.22,587.63 581.76,587.07 587.37,586.74 593.06,586.62 598.81,586.74 604.64,587.07 610.53,587.63 616.50,588.42 622.55,589.43 628.66,590.66 634.84,592.12 641.10,593.80" fill="none" stroke="#adadad" stroke-width="0.6" /><polyline points="589.64,589.30 592.93,589.23 596.20,589.20 599.47,589.23 602.72,589.30 605.97,589.41 609.21,589.58 612.44,589.79 615.66,590.05 618.87,590.35 622.07,590.70 625.27,591.10 628.45,591.55 631.63,592.04 634.79,592.58 637.95,593.17 641.10,593.80" fill="none" stroke="#adadad" stroke-width="0.6" /><polyline points="574.09,592.32 578.20,592.19 582.32,592.08 586.45,592.00 590.59,591.96 594.74,591.94 598.90,591.96 603.08,592.00 607.26,592.08 611.45,592.19 615.66,592.33 619.87,592.49 624.10,592.69 628.33,592.92 632.58,593.19 636.83,593.48 641.10,593.80" fill="none" stroke="#adadad" stroke-width="0.6" /><polyline points="594.17,595.57 597.22,595.58 600.25,595.57 603.27,595.54 606.27,595.50 609.26,595.45 612.23,595.38 615.18,595.29 618.12,595.19 621.05,595.07 623.96,594.93 626.85,594.78 629.73,594.62 632.60,594.44 635.45,594.24 638.28,594.03 641.10,593.80" fill="none" stroke="#adadad" stroke-width="0.6" /><polyline points="549.60,593.80 555.63,594.88 561.63,595.81 567.57,596.60 573.48,597.25 579.35,597.75 585.17,598.11 590.95,598.32 596.69,598.40 602.39,598.32 608.05,598.11 613.66,597.75 619.23,597.25 624.76,596.60 630.25,595.81 635.70,594.88 641.10,593.80" fill="none" stroke="#adadad" stroke-width="0.6" /><polyline points="580.54,600.27 584.15,600.56 587.80,600.75 591.46,600.85 595.14,600.86 598.85,600.77 602.58,600.60 606.33,600.33 610.11,599.97 613.90,599.52 617.72,598.98 621.56,598.35 625.42,597.62 629.31,596.80 633.22,595.89 637.15,594.89 641.10,593.80" fill="none" stroke="#adadad" stroke-width="0.6" /><polyline points="549.60,593.80 554.40,595.71 559.18,597.42 563.95,598.92 568.69,600.22 573.42,601.32 578.12,602.21 582.81,602.90 587.48,603.39 592.13,603.67 596.76,603.75 601.37,603.63 605.96,603.30 610.53,602.77 615.09,602.04 619.62,601.11 624.14,599.97" fill="none" stroke="#adadad" stroke-width="0.6" /><polyline points="592.28,605.53 595.42,605.63 598.54,605.61 601.65,605.48 604.75,605.25 607.84,604.90 610.92,604.44 613.98,603.87 617.04,603.19 620.08,602.41 623.12,601.51 626.14,600.50 629.16,599.38 632.16,598.15 635.15,596.81 638.13,595.36 641.10,593.80" fill="none" stroke="#adadad" stroke-width="0.6" /><polyline points="566.73,602.05 571.49,603.70 576.23,605.06 580.96,606.13 585.68,606.92 590.38,607.41 595.06,607.62 599.73,607.53 604.39,607.16 609.03,606.50 613.65,605.55 618.26,604.32 622.86,602.79 627.44,600.97 632.01,598.87 636.56,596.48 641.10,593.80" fill="none" stroke="#adadad" stroke-width="0.6" /><polyline points="584.58,609.31 587.99,609.73 591.43,609.96 594.87,610.00 598.34,609.86 601.82,609.54 605.31,609.03 608.82,608.34 612.35,607.46 615.89,606.40 619.44,605.15 623.01,603.72 626.60,602.11 630.20,600.31 633.82,598.32 637.45,596.15 641.10,593.80" fill="none" stroke="#adadad" stroke-width="0.6" /><polyline points="549.60,593.80 555.82,597.99 561.97,601.63 568.05,604.70 574.07,607.22 580.02,609.17 585.90,610.57 591.72,611.41 597.47,611.69 603.16,611.41 608.78,610.57 614.33,609.17 619.82,607.22 625.24,604.70 630.59,601.63 635.88,597.99 641.10,593.80" fill="none" stroke="#adadad" stroke-width="0.6" /><polyline points="549.60,593.80 555.60,598.72 561.56,602.98 567.48,606.59 573.37,609.54 579.22,611.84 585.03,613.48 590.81,614.46 596.54,614.79 602.24,614.46 607.91,613.48 613.53,611.84 619.12,609.54 624.67,606.59 630.18,602.98 635.66,598.72 641.10,593.80" fill="none" stroke="#adadad" stroke-width="0.6" /><polyline points="549.60,593.80 552.94,597.17 556.30,600.28 559.66,603.12 563.03,605.69 566.41,608.01 569.79,610.05 573.19,611.83 576.60,613.35 580.01,614.60 583.44,615.59 586.87,616.31 590.32,616.77 593.77,616.96 597.23,616.89 600.70,616.56 604.18,615.95" fill="none" stroke="#adadad" stroke-width="0.6" /><polyline points="586.50,618.09 589.80,618.56 593.12,618.76 596.46,618.70 599.81,618.38 603.17,617.79 606.55,616.93 609.94,615.81 613.35,614.42 616.77,612.77 620.20,610.86 623.65,608.68 627.11,606.23 630.59,603.52 634.08,600.55 637.58,597.31 641.10,593.80" fill="none" stroke="#adadad" stroke-width="0.6" /><polyline points="582.88,618.98 586.59,620.07 590.29,620.80 593.98,621.18 597.66,621.20 601.33,620.87 604.99,620.18 608.64,619.14 612.28,617.74 615.92,615.99 619.54,613.89 623.16,611.43 626.76,608.61 630.36,605.44 633.95,601.91 637.53,598.03 641.10,593.80" fill="none" stroke="#adadad" stroke-width="0.6" /><polyline points="549.60,593.80 554.95,600.64 560.34,606.56 565.79,611.57 571.29,615.67 576.83,618.86 582.43,621.14 588.07,622.51 593.77,622.96 599.51,622.51 605.30,621.14 611.15,618.86 617.04,615.67 622.98,611.57 628.97,606.56 635.01,600.64 641.10,593.80" fill="none" stroke="#adadad" stroke-width="0.6" /><polyline points="549.60,593.80 554.77,600.88 560.01,607.02 565.33,612.21 570.71,616.46 576.18,619.76 581.71,622.12 587.32,623.54 593.00,624.01 598.76,623.54 604.59,622.12 610.49,619.76 616.46,616.46 622.51,612.21 628.64,607.02 634.83,600.88 641.10,593.80" fill="none" stroke="#adadad" stroke-width="0.6" /><polyline points="592.10,626.80 595.12,626.90 598.14,626.71 601.17,626.23 604.21,625.47 607.25,624.41 610.29,623.07 613.35,621.44 616.41,619.52 619.47,617.32 622.54,614.82 625.62,612.04 628.70,608.97 631.79,605.61 634.89,601.96 637.99,598.02 641.10,593.80" fill="none" stroke="#adadad" stroke-width="0.6" /><polyline points="549.60,593.80 555.18,602.09 560.78,609.27 566.40,615.35 572.03,620.33 577.69,624.19 583.36,626.96 589.05,628.62 594.76,629.17 600.49,628.62 606.24,626.96 612.00,624.19 617.78,620.33 623.59,615.35 629.41,609.27 635.24,602.09 641.10,593.80" fill="none" stroke="#adadad" stroke-width="0.6" /><polyline points="549.60,593.80 552.69,598.48 555.77,602.85 558.85,606.89 561.93,610.61 565.00,614.01 568.07,617.09 571.13,619.85 574.19,622.29 577.24,624.41 580.30,626.20 583.34,627.68 586.39,628.84 589.43,629.67 592.46,630.18 595.49,630.38 598.52,630.25" fill="none" stroke="#adadad" stroke-width="0.6" />
<line x1="550.04" y1="595.23" x2="557.97" y2="621.05" stroke="#adadad" stroke-width="0.55" /><line x1="549.37" y1="595.28" x2="545.12" y2="623.03" stroke="#adadad" stroke-width="0.55" /><line x1="548.87" y1="595.11" x2="533.07" y2="623.36" stroke="#adadad" stroke-width="0.55" /><line x1="548.40" y1="594.70" x2="530.65" y2="608.02" stroke="#adadad" stroke-width="0.55" /><line x1="548.15" y1="594.20" x2="516.94" y2="602.84" stroke="#adadad" stroke-width="0.55" /><line x1="548.10" y1="593.81" x2="526.26" y2="593.98" stroke="#adadad" stroke-width="0.55" /><line x1="548.20" y1="593.27" x2="527.68" y2="585.52" stroke="#adadad" stroke-width="0.55" /><line x1="548.56" y1="592.72" x2="523.38" y2="566.40" stroke="#adadad" stroke-width="0.55" /><line x1="549.01" y1="592.42" x2="539.21" y2="569.51" stroke="#adadad" stroke-width="0.55" /><line x1="549.47" y1="592.31" x2="546.30" y2="556.38" stroke="#adadad" stroke-width="0.55" />
<line x1="640.72" y1="592.35" x2="634.64" y2="568.81" stroke="#adadad" stroke-width="0.55" /><line x1="641.38" y1="592.33" x2="646.53" y2="565.63" stroke="#adadad" stroke-width="0.55" /><line x1="641.92" y1="592.55" x2="657.63" y2="568.55" stroke="#adadad" stroke-width="0.55" /><line x1="642.19" y1="592.77" x2="659.33" y2="576.71" stroke="#adadad" stroke-width="0.55" /><line x1="642.47" y1="593.19" x2="673.05" y2="579.44" stroke="#adadad" stroke-width="0.55" /><line x1="642.60" y1="593.82" x2="674.75" y2="594.18" stroke="#adadad" stroke-width="0.55" /><line x1="642.43" y1="594.50" x2="666.28" y2="607.01" stroke="#adadad" stroke-width="0.55" /><line x1="642.15" y1="594.87" x2="664.56" y2="617.77" stroke="#adadad" stroke-width="0.55" /><line x1="641.65" y1="595.20" x2="651.28" y2="619.68" stroke="#adadad" stroke-width="0.55" /><line x1="641.22" y1="595.29" x2="643.30" y2="620.27" stroke="#adadad" stroke-width="0.55" />
<line x1="604.00" y1="550.00" x2="632.00" y2="572.00" stroke="#adadad" stroke-width="0.55" />
<line x1="565.40" y1="516.20" x2="565.40" y2="593.80" stroke="#74c4ef" stroke-width="1.0" stroke-dasharray="1.2 1.2"/>
<line x1="626.90" y1="516.20" x2="626.90" y2="593.80" stroke="#74c4ef" stroke-width="1.0" stroke-dasharray="1.2 1.2"/>
<circle cx="551.1" cy="593.8" r="4.5" fill="url(#halo)"/><polyline points="546.40,592.90 549.60,595.30 552.80,591.00" fill="none" stroke="#8a8a8a" stroke-width="1.9" stroke-linejoin="miter"/>
<circle cx="642.6" cy="593.8" r="4.5" fill="url(#halo)"/><polyline points="637.90,592.90 641.10,595.30 644.30,591.00" fill="none" stroke="#8a8a8a" stroke-width="1.9" stroke-linejoin="miter"/>
<path d="M541.2,553.5 C541.6,561.0 545.5,568.0 553.6,570.0" fill="none" stroke="#adadad" stroke-width="5.5" stroke-linecap="round"/><path d="M541.2,553.5 C541.6,561.0 545.5,568.0 553.6,570.0" fill="none" stroke="#8c8c8c" stroke-width="3.7" stroke-linecap="round"/>
<path d="M537.0,556.8 C537.6,565.5 542.6,572.6 552.6,574.0" fill="none" stroke="#adadad" stroke-width="5.5" stroke-linecap="round"/><path d="M537.0,556.8 C537.6,565.5 542.6,572.6 552.6,574.0" fill="none" stroke="#8c8c8c" stroke-width="3.7" stroke-linecap="round"/>
<line x1="550.10" y1="592.40" x2="559.50" y2="558.20" stroke="#f3983a" stroke-width="0.9" />
<circle cx="555.00" cy="570.20" r="2.00" fill="#08c6f2" stroke="#1b9bd8" stroke-width="0.7" />
<circle cx="554.20" cy="574.20" r="2.00" fill="#08c6f2" stroke="#1b9bd8" stroke-width="0.7" />
<line x1="565.40" y1="594.10" x2="558.60" y2="594.10" stroke="#36a9e1" stroke-width="1.7" /><polygon points="552.6,594.1 561.8,589.7 559.6,594.1 561.8,598.5" fill="#36a9e1"/>
<line x1="626.90" y1="594.10" x2="632.10" y2="594.10" stroke="#36a9e1" stroke-width="1.7" /><polygon points="638.1,594.1 628.9,589.7 631.1,594.1 628.9,598.5" fill="#36a9e1"/>
</g>
</g>
</svg>
</body></html>
